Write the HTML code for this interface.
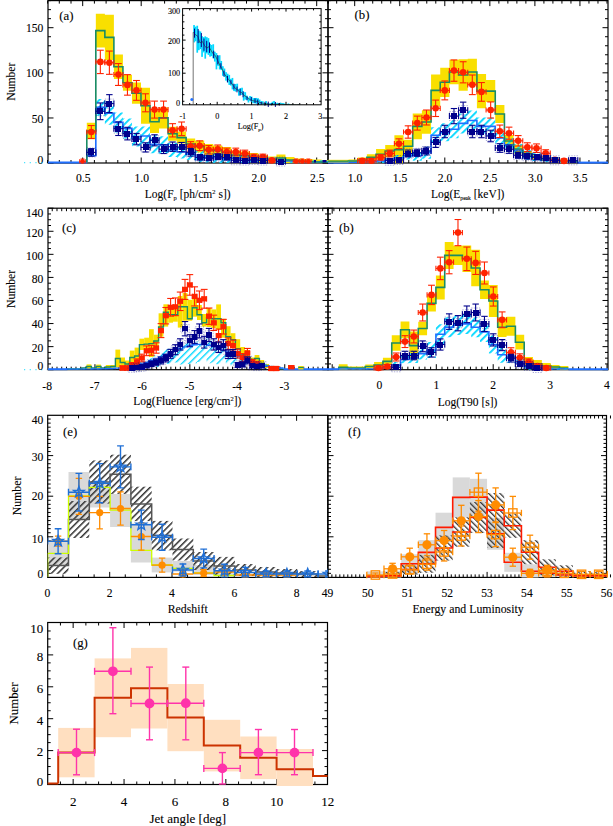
<!DOCTYPE html>
<html><head><meta charset="utf-8"><style>
html,body{margin:0;padding:0;background:#fff;}
svg{display:block;font-family:"Liberation Serif",serif;}
text{stroke:#000;stroke-width:0.1px;}
</style></head><body>
<svg width="613" height="826" viewBox="0 0 613 826">
<defs>
<pattern id="hc" patternUnits="userSpaceOnUse" width="5" height="5" patternTransform="rotate(45)"><rect x="0" y="0" width="1.8" height="5" fill="#00d8ff"/></pattern>
<pattern id="hc2" patternUnits="userSpaceOnUse" width="5" height="5" patternTransform="rotate(45)"><rect x="0" y="0" width="1.4" height="5" fill="#00d8ff"/></pattern>
<pattern id="hk" patternUnits="userSpaceOnUse" width="4.5" height="4.5" patternTransform="rotate(45)"><rect x="0" y="0" width="1.5" height="4.5" fill="#333"/></pattern><pattern id="hk2" patternUnits="userSpaceOnUse" width="4" height="4" patternTransform="rotate(-45)"><rect x="0" y="0" width="1.3" height="4" fill="#333"/></pattern>
<clipPath id="ca"><rect x="48" y="0.6" width="280" height="162.4"/></clipPath><clipPath id="ci"><rect x="182.6" y="8.6" width="138.50000000000003" height="96.2"/></clipPath><clipPath id="cb"><rect x="328" y="0.6" width="280" height="162.4"/></clipPath><clipPath id="cc"><rect x="48" y="208.2" width="280" height="161.5"/></clipPath><clipPath id="cd"><rect x="328" y="208.2" width="280" height="161.5"/></clipPath><clipPath id="ce"><rect x="47.7" y="415.3" width="280.0" height="162.09999999999997"/></clipPath><clipPath id="cf"><rect x="328" y="415.5" width="278.5" height="161.89999999999998"/></clipPath><clipPath id="cg"><rect x="47.7" y="622.5" width="279.8" height="162.0"/></clipPath>
</defs>
<rect width="613" height="826" fill="#fff"/>
<rect x="48" y="0.6" width="280" height="162.4" fill="none" stroke="#000" stroke-width="1.2"/>
<line x1="82.7" y1="163" x2="82.7" y2="157.5" stroke="#000" stroke-width="1" />
<line x1="82.7" y1="0.6" x2="82.7" y2="6.1" stroke="#000" stroke-width="1" />
<line x1="141.2" y1="163" x2="141.2" y2="157.5" stroke="#000" stroke-width="1" />
<line x1="141.2" y1="0.6" x2="141.2" y2="6.1" stroke="#000" stroke-width="1" />
<line x1="199.7" y1="163" x2="199.7" y2="157.5" stroke="#000" stroke-width="1" />
<line x1="199.7" y1="0.6" x2="199.7" y2="6.1" stroke="#000" stroke-width="1" />
<line x1="258.2" y1="163" x2="258.2" y2="157.5" stroke="#000" stroke-width="1" />
<line x1="258.2" y1="0.6" x2="258.2" y2="6.1" stroke="#000" stroke-width="1" />
<line x1="316.7" y1="163" x2="316.7" y2="157.5" stroke="#000" stroke-width="1" />
<line x1="316.7" y1="0.6" x2="316.7" y2="6.1" stroke="#000" stroke-width="1" />
<line x1="47.6" y1="163" x2="47.6" y2="160" stroke="#000" stroke-width="1" />
<line x1="47.6" y1="0.6" x2="47.6" y2="3.6" stroke="#000" stroke-width="1" />
<line x1="59.3" y1="163" x2="59.3" y2="160" stroke="#000" stroke-width="1" />
<line x1="59.3" y1="0.6" x2="59.3" y2="3.6" stroke="#000" stroke-width="1" />
<line x1="71" y1="163" x2="71" y2="160" stroke="#000" stroke-width="1" />
<line x1="71" y1="0.6" x2="71" y2="3.6" stroke="#000" stroke-width="1" />
<line x1="94.4" y1="163" x2="94.4" y2="160" stroke="#000" stroke-width="1" />
<line x1="94.4" y1="0.6" x2="94.4" y2="3.6" stroke="#000" stroke-width="1" />
<line x1="106.1" y1="163" x2="106.1" y2="160" stroke="#000" stroke-width="1" />
<line x1="106.1" y1="0.6" x2="106.1" y2="3.6" stroke="#000" stroke-width="1" />
<line x1="117.8" y1="163" x2="117.8" y2="160" stroke="#000" stroke-width="1" />
<line x1="117.8" y1="0.6" x2="117.8" y2="3.6" stroke="#000" stroke-width="1" />
<line x1="129.5" y1="163" x2="129.5" y2="160" stroke="#000" stroke-width="1" />
<line x1="129.5" y1="0.6" x2="129.5" y2="3.6" stroke="#000" stroke-width="1" />
<line x1="152.9" y1="163" x2="152.9" y2="160" stroke="#000" stroke-width="1" />
<line x1="152.9" y1="0.6" x2="152.9" y2="3.6" stroke="#000" stroke-width="1" />
<line x1="164.6" y1="163" x2="164.6" y2="160" stroke="#000" stroke-width="1" />
<line x1="164.6" y1="0.6" x2="164.6" y2="3.6" stroke="#000" stroke-width="1" />
<line x1="176.3" y1="163" x2="176.3" y2="160" stroke="#000" stroke-width="1" />
<line x1="176.3" y1="0.6" x2="176.3" y2="3.6" stroke="#000" stroke-width="1" />
<line x1="188" y1="163" x2="188" y2="160" stroke="#000" stroke-width="1" />
<line x1="188" y1="0.6" x2="188" y2="3.6" stroke="#000" stroke-width="1" />
<line x1="211.4" y1="163" x2="211.4" y2="160" stroke="#000" stroke-width="1" />
<line x1="211.4" y1="0.6" x2="211.4" y2="3.6" stroke="#000" stroke-width="1" />
<line x1="223.1" y1="163" x2="223.1" y2="160" stroke="#000" stroke-width="1" />
<line x1="223.1" y1="0.6" x2="223.1" y2="3.6" stroke="#000" stroke-width="1" />
<line x1="234.8" y1="163" x2="234.8" y2="160" stroke="#000" stroke-width="1" />
<line x1="234.8" y1="0.6" x2="234.8" y2="3.6" stroke="#000" stroke-width="1" />
<line x1="246.5" y1="163" x2="246.5" y2="160" stroke="#000" stroke-width="1" />
<line x1="246.5" y1="0.6" x2="246.5" y2="3.6" stroke="#000" stroke-width="1" />
<line x1="269.9" y1="163" x2="269.9" y2="160" stroke="#000" stroke-width="1" />
<line x1="269.9" y1="0.6" x2="269.9" y2="3.6" stroke="#000" stroke-width="1" />
<line x1="281.6" y1="163" x2="281.6" y2="160" stroke="#000" stroke-width="1" />
<line x1="281.6" y1="0.6" x2="281.6" y2="3.6" stroke="#000" stroke-width="1" />
<line x1="293.3" y1="163" x2="293.3" y2="160" stroke="#000" stroke-width="1" />
<line x1="293.3" y1="0.6" x2="293.3" y2="3.6" stroke="#000" stroke-width="1" />
<line x1="305" y1="163" x2="305" y2="160" stroke="#000" stroke-width="1" />
<line x1="305" y1="0.6" x2="305" y2="3.6" stroke="#000" stroke-width="1" />
<line x1="328.4" y1="163" x2="328.4" y2="160" stroke="#000" stroke-width="1" />
<line x1="328.4" y1="0.6" x2="328.4" y2="3.6" stroke="#000" stroke-width="1" />
<line x1="48" y1="163.1" x2="53.5" y2="163.1" stroke="#000" stroke-width="1" />
<line x1="328" y1="163.1" x2="322.5" y2="163.1" stroke="#000" stroke-width="1" />
<line x1="48" y1="117.97" x2="53.5" y2="117.97" stroke="#000" stroke-width="1" />
<line x1="328" y1="117.97" x2="322.5" y2="117.97" stroke="#000" stroke-width="1" />
<line x1="48" y1="72.83" x2="53.5" y2="72.83" stroke="#000" stroke-width="1" />
<line x1="328" y1="72.83" x2="322.5" y2="72.83" stroke="#000" stroke-width="1" />
<line x1="48" y1="27.69" x2="53.5" y2="27.69" stroke="#000" stroke-width="1" />
<line x1="328" y1="27.69" x2="322.5" y2="27.69" stroke="#000" stroke-width="1" />
<line x1="48" y1="154.07" x2="51" y2="154.07" stroke="#000" stroke-width="1" />
<line x1="328" y1="154.07" x2="325" y2="154.07" stroke="#000" stroke-width="1" />
<line x1="48" y1="145.05" x2="51" y2="145.05" stroke="#000" stroke-width="1" />
<line x1="328" y1="145.05" x2="325" y2="145.05" stroke="#000" stroke-width="1" />
<line x1="48" y1="136.02" x2="51" y2="136.02" stroke="#000" stroke-width="1" />
<line x1="328" y1="136.02" x2="325" y2="136.02" stroke="#000" stroke-width="1" />
<line x1="48" y1="126.99" x2="51" y2="126.99" stroke="#000" stroke-width="1" />
<line x1="328" y1="126.99" x2="325" y2="126.99" stroke="#000" stroke-width="1" />
<line x1="48" y1="108.94" x2="51" y2="108.94" stroke="#000" stroke-width="1" />
<line x1="328" y1="108.94" x2="325" y2="108.94" stroke="#000" stroke-width="1" />
<line x1="48" y1="99.91" x2="51" y2="99.91" stroke="#000" stroke-width="1" />
<line x1="328" y1="99.91" x2="325" y2="99.91" stroke="#000" stroke-width="1" />
<line x1="48" y1="90.88" x2="51" y2="90.88" stroke="#000" stroke-width="1" />
<line x1="328" y1="90.88" x2="325" y2="90.88" stroke="#000" stroke-width="1" />
<line x1="48" y1="81.86" x2="51" y2="81.86" stroke="#000" stroke-width="1" />
<line x1="328" y1="81.86" x2="325" y2="81.86" stroke="#000" stroke-width="1" />
<line x1="48" y1="63.8" x2="51" y2="63.8" stroke="#000" stroke-width="1" />
<line x1="328" y1="63.8" x2="325" y2="63.8" stroke="#000" stroke-width="1" />
<line x1="48" y1="54.78" x2="51" y2="54.78" stroke="#000" stroke-width="1" />
<line x1="328" y1="54.78" x2="325" y2="54.78" stroke="#000" stroke-width="1" />
<line x1="48" y1="45.75" x2="51" y2="45.75" stroke="#000" stroke-width="1" />
<line x1="328" y1="45.75" x2="325" y2="45.75" stroke="#000" stroke-width="1" />
<line x1="48" y1="36.72" x2="51" y2="36.72" stroke="#000" stroke-width="1" />
<line x1="328" y1="36.72" x2="325" y2="36.72" stroke="#000" stroke-width="1" />
<line x1="48" y1="18.67" x2="51" y2="18.67" stroke="#000" stroke-width="1" />
<line x1="328" y1="18.67" x2="325" y2="18.67" stroke="#000" stroke-width="1" />
<line x1="48" y1="9.64" x2="51" y2="9.64" stroke="#000" stroke-width="1" />
<line x1="328" y1="9.64" x2="325" y2="9.64" stroke="#000" stroke-width="1" />
<line x1="48" y1="0.61" x2="51" y2="0.61" stroke="#000" stroke-width="1" />
<line x1="328" y1="0.61" x2="325" y2="0.61" stroke="#000" stroke-width="1" />
<rect x="328" y="0.6" width="280" height="162.4" fill="none" stroke="#000" stroke-width="1.2"/>
<line x1="354.7" y1="163" x2="354.7" y2="157.5" stroke="#000" stroke-width="1" />
<line x1="354.7" y1="0.6" x2="354.7" y2="6.1" stroke="#000" stroke-width="1" />
<line x1="399.75" y1="163" x2="399.75" y2="157.5" stroke="#000" stroke-width="1" />
<line x1="399.75" y1="0.6" x2="399.75" y2="6.1" stroke="#000" stroke-width="1" />
<line x1="444.8" y1="163" x2="444.8" y2="157.5" stroke="#000" stroke-width="1" />
<line x1="444.8" y1="0.6" x2="444.8" y2="6.1" stroke="#000" stroke-width="1" />
<line x1="489.85" y1="163" x2="489.85" y2="157.5" stroke="#000" stroke-width="1" />
<line x1="489.85" y1="0.6" x2="489.85" y2="6.1" stroke="#000" stroke-width="1" />
<line x1="534.9" y1="163" x2="534.9" y2="157.5" stroke="#000" stroke-width="1" />
<line x1="534.9" y1="0.6" x2="534.9" y2="6.1" stroke="#000" stroke-width="1" />
<line x1="579.95" y1="163" x2="579.95" y2="157.5" stroke="#000" stroke-width="1" />
<line x1="579.95" y1="0.6" x2="579.95" y2="6.1" stroke="#000" stroke-width="1" />
<line x1="327.67" y1="163" x2="327.67" y2="160" stroke="#000" stroke-width="1" />
<line x1="327.67" y1="0.6" x2="327.67" y2="3.6" stroke="#000" stroke-width="1" />
<line x1="336.68" y1="163" x2="336.68" y2="160" stroke="#000" stroke-width="1" />
<line x1="336.68" y1="0.6" x2="336.68" y2="3.6" stroke="#000" stroke-width="1" />
<line x1="345.69" y1="163" x2="345.69" y2="160" stroke="#000" stroke-width="1" />
<line x1="345.69" y1="0.6" x2="345.69" y2="3.6" stroke="#000" stroke-width="1" />
<line x1="363.71" y1="163" x2="363.71" y2="160" stroke="#000" stroke-width="1" />
<line x1="363.71" y1="0.6" x2="363.71" y2="3.6" stroke="#000" stroke-width="1" />
<line x1="372.72" y1="163" x2="372.72" y2="160" stroke="#000" stroke-width="1" />
<line x1="372.72" y1="0.6" x2="372.72" y2="3.6" stroke="#000" stroke-width="1" />
<line x1="381.73" y1="163" x2="381.73" y2="160" stroke="#000" stroke-width="1" />
<line x1="381.73" y1="0.6" x2="381.73" y2="3.6" stroke="#000" stroke-width="1" />
<line x1="390.74" y1="163" x2="390.74" y2="160" stroke="#000" stroke-width="1" />
<line x1="390.74" y1="0.6" x2="390.74" y2="3.6" stroke="#000" stroke-width="1" />
<line x1="408.76" y1="163" x2="408.76" y2="160" stroke="#000" stroke-width="1" />
<line x1="408.76" y1="0.6" x2="408.76" y2="3.6" stroke="#000" stroke-width="1" />
<line x1="417.77" y1="163" x2="417.77" y2="160" stroke="#000" stroke-width="1" />
<line x1="417.77" y1="0.6" x2="417.77" y2="3.6" stroke="#000" stroke-width="1" />
<line x1="426.78" y1="163" x2="426.78" y2="160" stroke="#000" stroke-width="1" />
<line x1="426.78" y1="0.6" x2="426.78" y2="3.6" stroke="#000" stroke-width="1" />
<line x1="435.79" y1="163" x2="435.79" y2="160" stroke="#000" stroke-width="1" />
<line x1="435.79" y1="0.6" x2="435.79" y2="3.6" stroke="#000" stroke-width="1" />
<line x1="453.81" y1="163" x2="453.81" y2="160" stroke="#000" stroke-width="1" />
<line x1="453.81" y1="0.6" x2="453.81" y2="3.6" stroke="#000" stroke-width="1" />
<line x1="462.82" y1="163" x2="462.82" y2="160" stroke="#000" stroke-width="1" />
<line x1="462.82" y1="0.6" x2="462.82" y2="3.6" stroke="#000" stroke-width="1" />
<line x1="471.83" y1="163" x2="471.83" y2="160" stroke="#000" stroke-width="1" />
<line x1="471.83" y1="0.6" x2="471.83" y2="3.6" stroke="#000" stroke-width="1" />
<line x1="480.84" y1="163" x2="480.84" y2="160" stroke="#000" stroke-width="1" />
<line x1="480.84" y1="0.6" x2="480.84" y2="3.6" stroke="#000" stroke-width="1" />
<line x1="498.86" y1="163" x2="498.86" y2="160" stroke="#000" stroke-width="1" />
<line x1="498.86" y1="0.6" x2="498.86" y2="3.6" stroke="#000" stroke-width="1" />
<line x1="507.87" y1="163" x2="507.87" y2="160" stroke="#000" stroke-width="1" />
<line x1="507.87" y1="0.6" x2="507.87" y2="3.6" stroke="#000" stroke-width="1" />
<line x1="516.88" y1="163" x2="516.88" y2="160" stroke="#000" stroke-width="1" />
<line x1="516.88" y1="0.6" x2="516.88" y2="3.6" stroke="#000" stroke-width="1" />
<line x1="525.89" y1="163" x2="525.89" y2="160" stroke="#000" stroke-width="1" />
<line x1="525.89" y1="0.6" x2="525.89" y2="3.6" stroke="#000" stroke-width="1" />
<line x1="543.91" y1="163" x2="543.91" y2="160" stroke="#000" stroke-width="1" />
<line x1="543.91" y1="0.6" x2="543.91" y2="3.6" stroke="#000" stroke-width="1" />
<line x1="552.92" y1="163" x2="552.92" y2="160" stroke="#000" stroke-width="1" />
<line x1="552.92" y1="0.6" x2="552.92" y2="3.6" stroke="#000" stroke-width="1" />
<line x1="561.93" y1="163" x2="561.93" y2="160" stroke="#000" stroke-width="1" />
<line x1="561.93" y1="0.6" x2="561.93" y2="3.6" stroke="#000" stroke-width="1" />
<line x1="570.94" y1="163" x2="570.94" y2="160" stroke="#000" stroke-width="1" />
<line x1="570.94" y1="0.6" x2="570.94" y2="3.6" stroke="#000" stroke-width="1" />
<line x1="588.96" y1="163" x2="588.96" y2="160" stroke="#000" stroke-width="1" />
<line x1="588.96" y1="0.6" x2="588.96" y2="3.6" stroke="#000" stroke-width="1" />
<line x1="597.97" y1="163" x2="597.97" y2="160" stroke="#000" stroke-width="1" />
<line x1="597.97" y1="0.6" x2="597.97" y2="3.6" stroke="#000" stroke-width="1" />
<line x1="606.98" y1="163" x2="606.98" y2="160" stroke="#000" stroke-width="1" />
<line x1="606.98" y1="0.6" x2="606.98" y2="3.6" stroke="#000" stroke-width="1" />
<line x1="328" y1="163.1" x2="333.5" y2="163.1" stroke="#000" stroke-width="1" />
<line x1="608" y1="163.1" x2="602.5" y2="163.1" stroke="#000" stroke-width="1" />
<line x1="328" y1="117.97" x2="333.5" y2="117.97" stroke="#000" stroke-width="1" />
<line x1="608" y1="117.97" x2="602.5" y2="117.97" stroke="#000" stroke-width="1" />
<line x1="328" y1="72.83" x2="333.5" y2="72.83" stroke="#000" stroke-width="1" />
<line x1="608" y1="72.83" x2="602.5" y2="72.83" stroke="#000" stroke-width="1" />
<line x1="328" y1="27.69" x2="333.5" y2="27.69" stroke="#000" stroke-width="1" />
<line x1="608" y1="27.69" x2="602.5" y2="27.69" stroke="#000" stroke-width="1" />
<line x1="328" y1="154.07" x2="331" y2="154.07" stroke="#000" stroke-width="1" />
<line x1="608" y1="154.07" x2="605" y2="154.07" stroke="#000" stroke-width="1" />
<line x1="328" y1="145.05" x2="331" y2="145.05" stroke="#000" stroke-width="1" />
<line x1="608" y1="145.05" x2="605" y2="145.05" stroke="#000" stroke-width="1" />
<line x1="328" y1="136.02" x2="331" y2="136.02" stroke="#000" stroke-width="1" />
<line x1="608" y1="136.02" x2="605" y2="136.02" stroke="#000" stroke-width="1" />
<line x1="328" y1="126.99" x2="331" y2="126.99" stroke="#000" stroke-width="1" />
<line x1="608" y1="126.99" x2="605" y2="126.99" stroke="#000" stroke-width="1" />
<line x1="328" y1="108.94" x2="331" y2="108.94" stroke="#000" stroke-width="1" />
<line x1="608" y1="108.94" x2="605" y2="108.94" stroke="#000" stroke-width="1" />
<line x1="328" y1="99.91" x2="331" y2="99.91" stroke="#000" stroke-width="1" />
<line x1="608" y1="99.91" x2="605" y2="99.91" stroke="#000" stroke-width="1" />
<line x1="328" y1="90.88" x2="331" y2="90.88" stroke="#000" stroke-width="1" />
<line x1="608" y1="90.88" x2="605" y2="90.88" stroke="#000" stroke-width="1" />
<line x1="328" y1="81.86" x2="331" y2="81.86" stroke="#000" stroke-width="1" />
<line x1="608" y1="81.86" x2="605" y2="81.86" stroke="#000" stroke-width="1" />
<line x1="328" y1="63.8" x2="331" y2="63.8" stroke="#000" stroke-width="1" />
<line x1="608" y1="63.8" x2="605" y2="63.8" stroke="#000" stroke-width="1" />
<line x1="328" y1="54.78" x2="331" y2="54.78" stroke="#000" stroke-width="1" />
<line x1="608" y1="54.78" x2="605" y2="54.78" stroke="#000" stroke-width="1" />
<line x1="328" y1="45.75" x2="331" y2="45.75" stroke="#000" stroke-width="1" />
<line x1="608" y1="45.75" x2="605" y2="45.75" stroke="#000" stroke-width="1" />
<line x1="328" y1="36.72" x2="331" y2="36.72" stroke="#000" stroke-width="1" />
<line x1="608" y1="36.72" x2="605" y2="36.72" stroke="#000" stroke-width="1" />
<line x1="328" y1="18.67" x2="331" y2="18.67" stroke="#000" stroke-width="1" />
<line x1="608" y1="18.67" x2="605" y2="18.67" stroke="#000" stroke-width="1" />
<line x1="328" y1="9.64" x2="331" y2="9.64" stroke="#000" stroke-width="1" />
<line x1="608" y1="9.64" x2="605" y2="9.64" stroke="#000" stroke-width="1" />
<line x1="328" y1="0.61" x2="331" y2="0.61" stroke="#000" stroke-width="1" />
<line x1="608" y1="0.61" x2="605" y2="0.61" stroke="#000" stroke-width="1" />
<rect x="48" y="208.2" width="280" height="161.5" fill="none" stroke="#000" stroke-width="1.2"/>
<line x1="94.95" y1="369.7" x2="94.95" y2="364.2" stroke="#000" stroke-width="1" />
<line x1="94.95" y1="208.2" x2="94.95" y2="213.7" stroke="#000" stroke-width="1" />
<line x1="142.4" y1="369.7" x2="142.4" y2="364.2" stroke="#000" stroke-width="1" />
<line x1="142.4" y1="208.2" x2="142.4" y2="213.7" stroke="#000" stroke-width="1" />
<line x1="189.85" y1="369.7" x2="189.85" y2="364.2" stroke="#000" stroke-width="1" />
<line x1="189.85" y1="208.2" x2="189.85" y2="213.7" stroke="#000" stroke-width="1" />
<line x1="237.3" y1="369.7" x2="237.3" y2="364.2" stroke="#000" stroke-width="1" />
<line x1="237.3" y1="208.2" x2="237.3" y2="213.7" stroke="#000" stroke-width="1" />
<line x1="284.75" y1="369.7" x2="284.75" y2="364.2" stroke="#000" stroke-width="1" />
<line x1="284.75" y1="208.2" x2="284.75" y2="213.7" stroke="#000" stroke-width="1" />
<line x1="332.2" y1="369.7" x2="332.2" y2="364.2" stroke="#000" stroke-width="1" />
<line x1="332.2" y1="208.2" x2="332.2" y2="213.7" stroke="#000" stroke-width="1" />
<line x1="52.24" y1="369.7" x2="52.24" y2="366.7" stroke="#000" stroke-width="1" />
<line x1="52.24" y1="208.2" x2="52.24" y2="211.2" stroke="#000" stroke-width="1" />
<line x1="56.99" y1="369.7" x2="56.99" y2="366.7" stroke="#000" stroke-width="1" />
<line x1="56.99" y1="208.2" x2="56.99" y2="211.2" stroke="#000" stroke-width="1" />
<line x1="61.73" y1="369.7" x2="61.73" y2="366.7" stroke="#000" stroke-width="1" />
<line x1="61.73" y1="208.2" x2="61.73" y2="211.2" stroke="#000" stroke-width="1" />
<line x1="66.48" y1="369.7" x2="66.48" y2="366.7" stroke="#000" stroke-width="1" />
<line x1="66.48" y1="208.2" x2="66.48" y2="211.2" stroke="#000" stroke-width="1" />
<line x1="71.22" y1="369.7" x2="71.22" y2="366.7" stroke="#000" stroke-width="1" />
<line x1="71.22" y1="208.2" x2="71.22" y2="211.2" stroke="#000" stroke-width="1" />
<line x1="75.97" y1="369.7" x2="75.97" y2="366.7" stroke="#000" stroke-width="1" />
<line x1="75.97" y1="208.2" x2="75.97" y2="211.2" stroke="#000" stroke-width="1" />
<line x1="80.72" y1="369.7" x2="80.72" y2="366.7" stroke="#000" stroke-width="1" />
<line x1="80.72" y1="208.2" x2="80.72" y2="211.2" stroke="#000" stroke-width="1" />
<line x1="85.46" y1="369.7" x2="85.46" y2="366.7" stroke="#000" stroke-width="1" />
<line x1="85.46" y1="208.2" x2="85.46" y2="211.2" stroke="#000" stroke-width="1" />
<line x1="90.21" y1="369.7" x2="90.21" y2="366.7" stroke="#000" stroke-width="1" />
<line x1="90.21" y1="208.2" x2="90.21" y2="211.2" stroke="#000" stroke-width="1" />
<line x1="99.69" y1="369.7" x2="99.69" y2="366.7" stroke="#000" stroke-width="1" />
<line x1="99.69" y1="208.2" x2="99.69" y2="211.2" stroke="#000" stroke-width="1" />
<line x1="104.44" y1="369.7" x2="104.44" y2="366.7" stroke="#000" stroke-width="1" />
<line x1="104.44" y1="208.2" x2="104.44" y2="211.2" stroke="#000" stroke-width="1" />
<line x1="109.19" y1="369.7" x2="109.19" y2="366.7" stroke="#000" stroke-width="1" />
<line x1="109.19" y1="208.2" x2="109.19" y2="211.2" stroke="#000" stroke-width="1" />
<line x1="113.93" y1="369.7" x2="113.93" y2="366.7" stroke="#000" stroke-width="1" />
<line x1="113.93" y1="208.2" x2="113.93" y2="211.2" stroke="#000" stroke-width="1" />
<line x1="118.68" y1="369.7" x2="118.68" y2="366.7" stroke="#000" stroke-width="1" />
<line x1="118.68" y1="208.2" x2="118.68" y2="211.2" stroke="#000" stroke-width="1" />
<line x1="123.42" y1="369.7" x2="123.42" y2="366.7" stroke="#000" stroke-width="1" />
<line x1="123.42" y1="208.2" x2="123.42" y2="211.2" stroke="#000" stroke-width="1" />
<line x1="128.17" y1="369.7" x2="128.17" y2="366.7" stroke="#000" stroke-width="1" />
<line x1="128.17" y1="208.2" x2="128.17" y2="211.2" stroke="#000" stroke-width="1" />
<line x1="132.91" y1="369.7" x2="132.91" y2="366.7" stroke="#000" stroke-width="1" />
<line x1="132.91" y1="208.2" x2="132.91" y2="211.2" stroke="#000" stroke-width="1" />
<line x1="137.66" y1="369.7" x2="137.66" y2="366.7" stroke="#000" stroke-width="1" />
<line x1="137.66" y1="208.2" x2="137.66" y2="211.2" stroke="#000" stroke-width="1" />
<line x1="147.14" y1="369.7" x2="147.14" y2="366.7" stroke="#000" stroke-width="1" />
<line x1="147.14" y1="208.2" x2="147.14" y2="211.2" stroke="#000" stroke-width="1" />
<line x1="151.89" y1="369.7" x2="151.89" y2="366.7" stroke="#000" stroke-width="1" />
<line x1="151.89" y1="208.2" x2="151.89" y2="211.2" stroke="#000" stroke-width="1" />
<line x1="156.63" y1="369.7" x2="156.63" y2="366.7" stroke="#000" stroke-width="1" />
<line x1="156.63" y1="208.2" x2="156.63" y2="211.2" stroke="#000" stroke-width="1" />
<line x1="161.38" y1="369.7" x2="161.38" y2="366.7" stroke="#000" stroke-width="1" />
<line x1="161.38" y1="208.2" x2="161.38" y2="211.2" stroke="#000" stroke-width="1" />
<line x1="166.12" y1="369.7" x2="166.12" y2="366.7" stroke="#000" stroke-width="1" />
<line x1="166.12" y1="208.2" x2="166.12" y2="211.2" stroke="#000" stroke-width="1" />
<line x1="170.87" y1="369.7" x2="170.87" y2="366.7" stroke="#000" stroke-width="1" />
<line x1="170.87" y1="208.2" x2="170.87" y2="211.2" stroke="#000" stroke-width="1" />
<line x1="175.62" y1="369.7" x2="175.62" y2="366.7" stroke="#000" stroke-width="1" />
<line x1="175.62" y1="208.2" x2="175.62" y2="211.2" stroke="#000" stroke-width="1" />
<line x1="180.36" y1="369.7" x2="180.36" y2="366.7" stroke="#000" stroke-width="1" />
<line x1="180.36" y1="208.2" x2="180.36" y2="211.2" stroke="#000" stroke-width="1" />
<line x1="185.11" y1="369.7" x2="185.11" y2="366.7" stroke="#000" stroke-width="1" />
<line x1="185.11" y1="208.2" x2="185.11" y2="211.2" stroke="#000" stroke-width="1" />
<line x1="194.59" y1="369.7" x2="194.59" y2="366.7" stroke="#000" stroke-width="1" />
<line x1="194.59" y1="208.2" x2="194.59" y2="211.2" stroke="#000" stroke-width="1" />
<line x1="199.34" y1="369.7" x2="199.34" y2="366.7" stroke="#000" stroke-width="1" />
<line x1="199.34" y1="208.2" x2="199.34" y2="211.2" stroke="#000" stroke-width="1" />
<line x1="204.09" y1="369.7" x2="204.09" y2="366.7" stroke="#000" stroke-width="1" />
<line x1="204.09" y1="208.2" x2="204.09" y2="211.2" stroke="#000" stroke-width="1" />
<line x1="208.83" y1="369.7" x2="208.83" y2="366.7" stroke="#000" stroke-width="1" />
<line x1="208.83" y1="208.2" x2="208.83" y2="211.2" stroke="#000" stroke-width="1" />
<line x1="213.58" y1="369.7" x2="213.58" y2="366.7" stroke="#000" stroke-width="1" />
<line x1="213.58" y1="208.2" x2="213.58" y2="211.2" stroke="#000" stroke-width="1" />
<line x1="218.32" y1="369.7" x2="218.32" y2="366.7" stroke="#000" stroke-width="1" />
<line x1="218.32" y1="208.2" x2="218.32" y2="211.2" stroke="#000" stroke-width="1" />
<line x1="223.07" y1="369.7" x2="223.07" y2="366.7" stroke="#000" stroke-width="1" />
<line x1="223.07" y1="208.2" x2="223.07" y2="211.2" stroke="#000" stroke-width="1" />
<line x1="227.81" y1="369.7" x2="227.81" y2="366.7" stroke="#000" stroke-width="1" />
<line x1="227.81" y1="208.2" x2="227.81" y2="211.2" stroke="#000" stroke-width="1" />
<line x1="232.56" y1="369.7" x2="232.56" y2="366.7" stroke="#000" stroke-width="1" />
<line x1="232.56" y1="208.2" x2="232.56" y2="211.2" stroke="#000" stroke-width="1" />
<line x1="242.04" y1="369.7" x2="242.04" y2="366.7" stroke="#000" stroke-width="1" />
<line x1="242.04" y1="208.2" x2="242.04" y2="211.2" stroke="#000" stroke-width="1" />
<line x1="246.79" y1="369.7" x2="246.79" y2="366.7" stroke="#000" stroke-width="1" />
<line x1="246.79" y1="208.2" x2="246.79" y2="211.2" stroke="#000" stroke-width="1" />
<line x1="251.53" y1="369.7" x2="251.53" y2="366.7" stroke="#000" stroke-width="1" />
<line x1="251.53" y1="208.2" x2="251.53" y2="211.2" stroke="#000" stroke-width="1" />
<line x1="256.28" y1="369.7" x2="256.28" y2="366.7" stroke="#000" stroke-width="1" />
<line x1="256.28" y1="208.2" x2="256.28" y2="211.2" stroke="#000" stroke-width="1" />
<line x1="261.02" y1="369.7" x2="261.02" y2="366.7" stroke="#000" stroke-width="1" />
<line x1="261.02" y1="208.2" x2="261.02" y2="211.2" stroke="#000" stroke-width="1" />
<line x1="265.77" y1="369.7" x2="265.77" y2="366.7" stroke="#000" stroke-width="1" />
<line x1="265.77" y1="208.2" x2="265.77" y2="211.2" stroke="#000" stroke-width="1" />
<line x1="270.51" y1="369.7" x2="270.51" y2="366.7" stroke="#000" stroke-width="1" />
<line x1="270.51" y1="208.2" x2="270.51" y2="211.2" stroke="#000" stroke-width="1" />
<line x1="275.26" y1="369.7" x2="275.26" y2="366.7" stroke="#000" stroke-width="1" />
<line x1="275.26" y1="208.2" x2="275.26" y2="211.2" stroke="#000" stroke-width="1" />
<line x1="280" y1="369.7" x2="280" y2="366.7" stroke="#000" stroke-width="1" />
<line x1="280" y1="208.2" x2="280" y2="211.2" stroke="#000" stroke-width="1" />
<line x1="289.5" y1="369.7" x2="289.5" y2="366.7" stroke="#000" stroke-width="1" />
<line x1="289.5" y1="208.2" x2="289.5" y2="211.2" stroke="#000" stroke-width="1" />
<line x1="294.24" y1="369.7" x2="294.24" y2="366.7" stroke="#000" stroke-width="1" />
<line x1="294.24" y1="208.2" x2="294.24" y2="211.2" stroke="#000" stroke-width="1" />
<line x1="298.99" y1="369.7" x2="298.99" y2="366.7" stroke="#000" stroke-width="1" />
<line x1="298.99" y1="208.2" x2="298.99" y2="211.2" stroke="#000" stroke-width="1" />
<line x1="303.73" y1="369.7" x2="303.73" y2="366.7" stroke="#000" stroke-width="1" />
<line x1="303.73" y1="208.2" x2="303.73" y2="211.2" stroke="#000" stroke-width="1" />
<line x1="308.48" y1="369.7" x2="308.48" y2="366.7" stroke="#000" stroke-width="1" />
<line x1="308.48" y1="208.2" x2="308.48" y2="211.2" stroke="#000" stroke-width="1" />
<line x1="313.22" y1="369.7" x2="313.22" y2="366.7" stroke="#000" stroke-width="1" />
<line x1="313.22" y1="208.2" x2="313.22" y2="211.2" stroke="#000" stroke-width="1" />
<line x1="317.97" y1="369.7" x2="317.97" y2="366.7" stroke="#000" stroke-width="1" />
<line x1="317.97" y1="208.2" x2="317.97" y2="211.2" stroke="#000" stroke-width="1" />
<line x1="322.71" y1="369.7" x2="322.71" y2="366.7" stroke="#000" stroke-width="1" />
<line x1="322.71" y1="208.2" x2="322.71" y2="211.2" stroke="#000" stroke-width="1" />
<line x1="327.46" y1="369.7" x2="327.46" y2="366.7" stroke="#000" stroke-width="1" />
<line x1="327.46" y1="208.2" x2="327.46" y2="211.2" stroke="#000" stroke-width="1" />
<line x1="48" y1="369.7" x2="53.5" y2="369.7" stroke="#000" stroke-width="1" />
<line x1="328" y1="369.7" x2="322.5" y2="369.7" stroke="#000" stroke-width="1" />
<line x1="48" y1="346.63" x2="53.5" y2="346.63" stroke="#000" stroke-width="1" />
<line x1="328" y1="346.63" x2="322.5" y2="346.63" stroke="#000" stroke-width="1" />
<line x1="48" y1="323.56" x2="53.5" y2="323.56" stroke="#000" stroke-width="1" />
<line x1="328" y1="323.56" x2="322.5" y2="323.56" stroke="#000" stroke-width="1" />
<line x1="48" y1="300.48" x2="53.5" y2="300.48" stroke="#000" stroke-width="1" />
<line x1="328" y1="300.48" x2="322.5" y2="300.48" stroke="#000" stroke-width="1" />
<line x1="48" y1="277.41" x2="53.5" y2="277.41" stroke="#000" stroke-width="1" />
<line x1="328" y1="277.41" x2="322.5" y2="277.41" stroke="#000" stroke-width="1" />
<line x1="48" y1="254.34" x2="53.5" y2="254.34" stroke="#000" stroke-width="1" />
<line x1="328" y1="254.34" x2="322.5" y2="254.34" stroke="#000" stroke-width="1" />
<line x1="48" y1="231.27" x2="53.5" y2="231.27" stroke="#000" stroke-width="1" />
<line x1="328" y1="231.27" x2="322.5" y2="231.27" stroke="#000" stroke-width="1" />
<line x1="48" y1="208.2" x2="53.5" y2="208.2" stroke="#000" stroke-width="1" />
<line x1="328" y1="208.2" x2="322.5" y2="208.2" stroke="#000" stroke-width="1" />
<line x1="48" y1="363.93" x2="51" y2="363.93" stroke="#000" stroke-width="1" />
<line x1="328" y1="363.93" x2="325" y2="363.93" stroke="#000" stroke-width="1" />
<line x1="48" y1="358.16" x2="51" y2="358.16" stroke="#000" stroke-width="1" />
<line x1="328" y1="358.16" x2="325" y2="358.16" stroke="#000" stroke-width="1" />
<line x1="48" y1="352.4" x2="51" y2="352.4" stroke="#000" stroke-width="1" />
<line x1="328" y1="352.4" x2="325" y2="352.4" stroke="#000" stroke-width="1" />
<line x1="48" y1="340.86" x2="51" y2="340.86" stroke="#000" stroke-width="1" />
<line x1="328" y1="340.86" x2="325" y2="340.86" stroke="#000" stroke-width="1" />
<line x1="48" y1="335.09" x2="51" y2="335.09" stroke="#000" stroke-width="1" />
<line x1="328" y1="335.09" x2="325" y2="335.09" stroke="#000" stroke-width="1" />
<line x1="48" y1="329.32" x2="51" y2="329.32" stroke="#000" stroke-width="1" />
<line x1="328" y1="329.32" x2="325" y2="329.32" stroke="#000" stroke-width="1" />
<line x1="48" y1="317.79" x2="51" y2="317.79" stroke="#000" stroke-width="1" />
<line x1="328" y1="317.79" x2="325" y2="317.79" stroke="#000" stroke-width="1" />
<line x1="48" y1="312.02" x2="51" y2="312.02" stroke="#000" stroke-width="1" />
<line x1="328" y1="312.02" x2="325" y2="312.02" stroke="#000" stroke-width="1" />
<line x1="48" y1="306.25" x2="51" y2="306.25" stroke="#000" stroke-width="1" />
<line x1="328" y1="306.25" x2="325" y2="306.25" stroke="#000" stroke-width="1" />
<line x1="48" y1="294.72" x2="51" y2="294.72" stroke="#000" stroke-width="1" />
<line x1="328" y1="294.72" x2="325" y2="294.72" stroke="#000" stroke-width="1" />
<line x1="48" y1="288.95" x2="51" y2="288.95" stroke="#000" stroke-width="1" />
<line x1="328" y1="288.95" x2="325" y2="288.95" stroke="#000" stroke-width="1" />
<line x1="48" y1="283.18" x2="51" y2="283.18" stroke="#000" stroke-width="1" />
<line x1="328" y1="283.18" x2="325" y2="283.18" stroke="#000" stroke-width="1" />
<line x1="48" y1="271.64" x2="51" y2="271.64" stroke="#000" stroke-width="1" />
<line x1="328" y1="271.64" x2="325" y2="271.64" stroke="#000" stroke-width="1" />
<line x1="48" y1="265.88" x2="51" y2="265.88" stroke="#000" stroke-width="1" />
<line x1="328" y1="265.88" x2="325" y2="265.88" stroke="#000" stroke-width="1" />
<line x1="48" y1="260.11" x2="51" y2="260.11" stroke="#000" stroke-width="1" />
<line x1="328" y1="260.11" x2="325" y2="260.11" stroke="#000" stroke-width="1" />
<line x1="48" y1="248.57" x2="51" y2="248.57" stroke="#000" stroke-width="1" />
<line x1="328" y1="248.57" x2="325" y2="248.57" stroke="#000" stroke-width="1" />
<line x1="48" y1="242.8" x2="51" y2="242.8" stroke="#000" stroke-width="1" />
<line x1="328" y1="242.8" x2="325" y2="242.8" stroke="#000" stroke-width="1" />
<line x1="48" y1="237.04" x2="51" y2="237.04" stroke="#000" stroke-width="1" />
<line x1="328" y1="237.04" x2="325" y2="237.04" stroke="#000" stroke-width="1" />
<line x1="48" y1="225.5" x2="51" y2="225.5" stroke="#000" stroke-width="1" />
<line x1="328" y1="225.5" x2="325" y2="225.5" stroke="#000" stroke-width="1" />
<line x1="48" y1="219.73" x2="51" y2="219.73" stroke="#000" stroke-width="1" />
<line x1="328" y1="219.73" x2="325" y2="219.73" stroke="#000" stroke-width="1" />
<line x1="48" y1="213.96" x2="51" y2="213.96" stroke="#000" stroke-width="1" />
<line x1="328" y1="213.96" x2="325" y2="213.96" stroke="#000" stroke-width="1" />
<rect x="328" y="208.2" width="280" height="161.5" fill="none" stroke="#000" stroke-width="1.2"/>
<line x1="379.4" y1="369.7" x2="379.4" y2="364.2" stroke="#000" stroke-width="1" />
<line x1="379.4" y1="208.2" x2="379.4" y2="213.7" stroke="#000" stroke-width="1" />
<line x1="436.3" y1="369.7" x2="436.3" y2="364.2" stroke="#000" stroke-width="1" />
<line x1="436.3" y1="208.2" x2="436.3" y2="213.7" stroke="#000" stroke-width="1" />
<line x1="493.2" y1="369.7" x2="493.2" y2="364.2" stroke="#000" stroke-width="1" />
<line x1="493.2" y1="208.2" x2="493.2" y2="213.7" stroke="#000" stroke-width="1" />
<line x1="550.1" y1="369.7" x2="550.1" y2="364.2" stroke="#000" stroke-width="1" />
<line x1="550.1" y1="208.2" x2="550.1" y2="213.7" stroke="#000" stroke-width="1" />
<line x1="607" y1="369.7" x2="607" y2="364.2" stroke="#000" stroke-width="1" />
<line x1="607" y1="208.2" x2="607" y2="213.7" stroke="#000" stroke-width="1" />
<line x1="328.19" y1="369.7" x2="328.19" y2="366.7" stroke="#000" stroke-width="1" />
<line x1="328.19" y1="208.2" x2="328.19" y2="211.2" stroke="#000" stroke-width="1" />
<line x1="333.88" y1="369.7" x2="333.88" y2="366.7" stroke="#000" stroke-width="1" />
<line x1="333.88" y1="208.2" x2="333.88" y2="211.2" stroke="#000" stroke-width="1" />
<line x1="339.57" y1="369.7" x2="339.57" y2="366.7" stroke="#000" stroke-width="1" />
<line x1="339.57" y1="208.2" x2="339.57" y2="211.2" stroke="#000" stroke-width="1" />
<line x1="345.26" y1="369.7" x2="345.26" y2="366.7" stroke="#000" stroke-width="1" />
<line x1="345.26" y1="208.2" x2="345.26" y2="211.2" stroke="#000" stroke-width="1" />
<line x1="350.95" y1="369.7" x2="350.95" y2="366.7" stroke="#000" stroke-width="1" />
<line x1="350.95" y1="208.2" x2="350.95" y2="211.2" stroke="#000" stroke-width="1" />
<line x1="356.64" y1="369.7" x2="356.64" y2="366.7" stroke="#000" stroke-width="1" />
<line x1="356.64" y1="208.2" x2="356.64" y2="211.2" stroke="#000" stroke-width="1" />
<line x1="362.33" y1="369.7" x2="362.33" y2="366.7" stroke="#000" stroke-width="1" />
<line x1="362.33" y1="208.2" x2="362.33" y2="211.2" stroke="#000" stroke-width="1" />
<line x1="368.02" y1="369.7" x2="368.02" y2="366.7" stroke="#000" stroke-width="1" />
<line x1="368.02" y1="208.2" x2="368.02" y2="211.2" stroke="#000" stroke-width="1" />
<line x1="373.71" y1="369.7" x2="373.71" y2="366.7" stroke="#000" stroke-width="1" />
<line x1="373.71" y1="208.2" x2="373.71" y2="211.2" stroke="#000" stroke-width="1" />
<line x1="385.09" y1="369.7" x2="385.09" y2="366.7" stroke="#000" stroke-width="1" />
<line x1="385.09" y1="208.2" x2="385.09" y2="211.2" stroke="#000" stroke-width="1" />
<line x1="390.78" y1="369.7" x2="390.78" y2="366.7" stroke="#000" stroke-width="1" />
<line x1="390.78" y1="208.2" x2="390.78" y2="211.2" stroke="#000" stroke-width="1" />
<line x1="396.47" y1="369.7" x2="396.47" y2="366.7" stroke="#000" stroke-width="1" />
<line x1="396.47" y1="208.2" x2="396.47" y2="211.2" stroke="#000" stroke-width="1" />
<line x1="402.16" y1="369.7" x2="402.16" y2="366.7" stroke="#000" stroke-width="1" />
<line x1="402.16" y1="208.2" x2="402.16" y2="211.2" stroke="#000" stroke-width="1" />
<line x1="407.85" y1="369.7" x2="407.85" y2="366.7" stroke="#000" stroke-width="1" />
<line x1="407.85" y1="208.2" x2="407.85" y2="211.2" stroke="#000" stroke-width="1" />
<line x1="413.54" y1="369.7" x2="413.54" y2="366.7" stroke="#000" stroke-width="1" />
<line x1="413.54" y1="208.2" x2="413.54" y2="211.2" stroke="#000" stroke-width="1" />
<line x1="419.23" y1="369.7" x2="419.23" y2="366.7" stroke="#000" stroke-width="1" />
<line x1="419.23" y1="208.2" x2="419.23" y2="211.2" stroke="#000" stroke-width="1" />
<line x1="424.92" y1="369.7" x2="424.92" y2="366.7" stroke="#000" stroke-width="1" />
<line x1="424.92" y1="208.2" x2="424.92" y2="211.2" stroke="#000" stroke-width="1" />
<line x1="430.61" y1="369.7" x2="430.61" y2="366.7" stroke="#000" stroke-width="1" />
<line x1="430.61" y1="208.2" x2="430.61" y2="211.2" stroke="#000" stroke-width="1" />
<line x1="441.99" y1="369.7" x2="441.99" y2="366.7" stroke="#000" stroke-width="1" />
<line x1="441.99" y1="208.2" x2="441.99" y2="211.2" stroke="#000" stroke-width="1" />
<line x1="447.68" y1="369.7" x2="447.68" y2="366.7" stroke="#000" stroke-width="1" />
<line x1="447.68" y1="208.2" x2="447.68" y2="211.2" stroke="#000" stroke-width="1" />
<line x1="453.37" y1="369.7" x2="453.37" y2="366.7" stroke="#000" stroke-width="1" />
<line x1="453.37" y1="208.2" x2="453.37" y2="211.2" stroke="#000" stroke-width="1" />
<line x1="459.06" y1="369.7" x2="459.06" y2="366.7" stroke="#000" stroke-width="1" />
<line x1="459.06" y1="208.2" x2="459.06" y2="211.2" stroke="#000" stroke-width="1" />
<line x1="464.75" y1="369.7" x2="464.75" y2="366.7" stroke="#000" stroke-width="1" />
<line x1="464.75" y1="208.2" x2="464.75" y2="211.2" stroke="#000" stroke-width="1" />
<line x1="470.44" y1="369.7" x2="470.44" y2="366.7" stroke="#000" stroke-width="1" />
<line x1="470.44" y1="208.2" x2="470.44" y2="211.2" stroke="#000" stroke-width="1" />
<line x1="476.13" y1="369.7" x2="476.13" y2="366.7" stroke="#000" stroke-width="1" />
<line x1="476.13" y1="208.2" x2="476.13" y2="211.2" stroke="#000" stroke-width="1" />
<line x1="481.82" y1="369.7" x2="481.82" y2="366.7" stroke="#000" stroke-width="1" />
<line x1="481.82" y1="208.2" x2="481.82" y2="211.2" stroke="#000" stroke-width="1" />
<line x1="487.51" y1="369.7" x2="487.51" y2="366.7" stroke="#000" stroke-width="1" />
<line x1="487.51" y1="208.2" x2="487.51" y2="211.2" stroke="#000" stroke-width="1" />
<line x1="498.89" y1="369.7" x2="498.89" y2="366.7" stroke="#000" stroke-width="1" />
<line x1="498.89" y1="208.2" x2="498.89" y2="211.2" stroke="#000" stroke-width="1" />
<line x1="504.58" y1="369.7" x2="504.58" y2="366.7" stroke="#000" stroke-width="1" />
<line x1="504.58" y1="208.2" x2="504.58" y2="211.2" stroke="#000" stroke-width="1" />
<line x1="510.27" y1="369.7" x2="510.27" y2="366.7" stroke="#000" stroke-width="1" />
<line x1="510.27" y1="208.2" x2="510.27" y2="211.2" stroke="#000" stroke-width="1" />
<line x1="515.96" y1="369.7" x2="515.96" y2="366.7" stroke="#000" stroke-width="1" />
<line x1="515.96" y1="208.2" x2="515.96" y2="211.2" stroke="#000" stroke-width="1" />
<line x1="521.65" y1="369.7" x2="521.65" y2="366.7" stroke="#000" stroke-width="1" />
<line x1="521.65" y1="208.2" x2="521.65" y2="211.2" stroke="#000" stroke-width="1" />
<line x1="527.34" y1="369.7" x2="527.34" y2="366.7" stroke="#000" stroke-width="1" />
<line x1="527.34" y1="208.2" x2="527.34" y2="211.2" stroke="#000" stroke-width="1" />
<line x1="533.03" y1="369.7" x2="533.03" y2="366.7" stroke="#000" stroke-width="1" />
<line x1="533.03" y1="208.2" x2="533.03" y2="211.2" stroke="#000" stroke-width="1" />
<line x1="538.72" y1="369.7" x2="538.72" y2="366.7" stroke="#000" stroke-width="1" />
<line x1="538.72" y1="208.2" x2="538.72" y2="211.2" stroke="#000" stroke-width="1" />
<line x1="544.41" y1="369.7" x2="544.41" y2="366.7" stroke="#000" stroke-width="1" />
<line x1="544.41" y1="208.2" x2="544.41" y2="211.2" stroke="#000" stroke-width="1" />
<line x1="555.79" y1="369.7" x2="555.79" y2="366.7" stroke="#000" stroke-width="1" />
<line x1="555.79" y1="208.2" x2="555.79" y2="211.2" stroke="#000" stroke-width="1" />
<line x1="561.48" y1="369.7" x2="561.48" y2="366.7" stroke="#000" stroke-width="1" />
<line x1="561.48" y1="208.2" x2="561.48" y2="211.2" stroke="#000" stroke-width="1" />
<line x1="567.17" y1="369.7" x2="567.17" y2="366.7" stroke="#000" stroke-width="1" />
<line x1="567.17" y1="208.2" x2="567.17" y2="211.2" stroke="#000" stroke-width="1" />
<line x1="572.86" y1="369.7" x2="572.86" y2="366.7" stroke="#000" stroke-width="1" />
<line x1="572.86" y1="208.2" x2="572.86" y2="211.2" stroke="#000" stroke-width="1" />
<line x1="578.55" y1="369.7" x2="578.55" y2="366.7" stroke="#000" stroke-width="1" />
<line x1="578.55" y1="208.2" x2="578.55" y2="211.2" stroke="#000" stroke-width="1" />
<line x1="584.24" y1="369.7" x2="584.24" y2="366.7" stroke="#000" stroke-width="1" />
<line x1="584.24" y1="208.2" x2="584.24" y2="211.2" stroke="#000" stroke-width="1" />
<line x1="589.93" y1="369.7" x2="589.93" y2="366.7" stroke="#000" stroke-width="1" />
<line x1="589.93" y1="208.2" x2="589.93" y2="211.2" stroke="#000" stroke-width="1" />
<line x1="595.62" y1="369.7" x2="595.62" y2="366.7" stroke="#000" stroke-width="1" />
<line x1="595.62" y1="208.2" x2="595.62" y2="211.2" stroke="#000" stroke-width="1" />
<line x1="601.31" y1="369.7" x2="601.31" y2="366.7" stroke="#000" stroke-width="1" />
<line x1="601.31" y1="208.2" x2="601.31" y2="211.2" stroke="#000" stroke-width="1" />
<line x1="328" y1="369.7" x2="333.5" y2="369.7" stroke="#000" stroke-width="1" />
<line x1="608" y1="369.7" x2="602.5" y2="369.7" stroke="#000" stroke-width="1" />
<line x1="328" y1="346.63" x2="333.5" y2="346.63" stroke="#000" stroke-width="1" />
<line x1="608" y1="346.63" x2="602.5" y2="346.63" stroke="#000" stroke-width="1" />
<line x1="328" y1="323.56" x2="333.5" y2="323.56" stroke="#000" stroke-width="1" />
<line x1="608" y1="323.56" x2="602.5" y2="323.56" stroke="#000" stroke-width="1" />
<line x1="328" y1="300.48" x2="333.5" y2="300.48" stroke="#000" stroke-width="1" />
<line x1="608" y1="300.48" x2="602.5" y2="300.48" stroke="#000" stroke-width="1" />
<line x1="328" y1="277.41" x2="333.5" y2="277.41" stroke="#000" stroke-width="1" />
<line x1="608" y1="277.41" x2="602.5" y2="277.41" stroke="#000" stroke-width="1" />
<line x1="328" y1="254.34" x2="333.5" y2="254.34" stroke="#000" stroke-width="1" />
<line x1="608" y1="254.34" x2="602.5" y2="254.34" stroke="#000" stroke-width="1" />
<line x1="328" y1="231.27" x2="333.5" y2="231.27" stroke="#000" stroke-width="1" />
<line x1="608" y1="231.27" x2="602.5" y2="231.27" stroke="#000" stroke-width="1" />
<line x1="328" y1="208.2" x2="333.5" y2="208.2" stroke="#000" stroke-width="1" />
<line x1="608" y1="208.2" x2="602.5" y2="208.2" stroke="#000" stroke-width="1" />
<line x1="328" y1="363.93" x2="331" y2="363.93" stroke="#000" stroke-width="1" />
<line x1="608" y1="363.93" x2="605" y2="363.93" stroke="#000" stroke-width="1" />
<line x1="328" y1="358.16" x2="331" y2="358.16" stroke="#000" stroke-width="1" />
<line x1="608" y1="358.16" x2="605" y2="358.16" stroke="#000" stroke-width="1" />
<line x1="328" y1="352.4" x2="331" y2="352.4" stroke="#000" stroke-width="1" />
<line x1="608" y1="352.4" x2="605" y2="352.4" stroke="#000" stroke-width="1" />
<line x1="328" y1="340.86" x2="331" y2="340.86" stroke="#000" stroke-width="1" />
<line x1="608" y1="340.86" x2="605" y2="340.86" stroke="#000" stroke-width="1" />
<line x1="328" y1="335.09" x2="331" y2="335.09" stroke="#000" stroke-width="1" />
<line x1="608" y1="335.09" x2="605" y2="335.09" stroke="#000" stroke-width="1" />
<line x1="328" y1="329.32" x2="331" y2="329.32" stroke="#000" stroke-width="1" />
<line x1="608" y1="329.32" x2="605" y2="329.32" stroke="#000" stroke-width="1" />
<line x1="328" y1="317.79" x2="331" y2="317.79" stroke="#000" stroke-width="1" />
<line x1="608" y1="317.79" x2="605" y2="317.79" stroke="#000" stroke-width="1" />
<line x1="328" y1="312.02" x2="331" y2="312.02" stroke="#000" stroke-width="1" />
<line x1="608" y1="312.02" x2="605" y2="312.02" stroke="#000" stroke-width="1" />
<line x1="328" y1="306.25" x2="331" y2="306.25" stroke="#000" stroke-width="1" />
<line x1="608" y1="306.25" x2="605" y2="306.25" stroke="#000" stroke-width="1" />
<line x1="328" y1="294.72" x2="331" y2="294.72" stroke="#000" stroke-width="1" />
<line x1="608" y1="294.72" x2="605" y2="294.72" stroke="#000" stroke-width="1" />
<line x1="328" y1="288.95" x2="331" y2="288.95" stroke="#000" stroke-width="1" />
<line x1="608" y1="288.95" x2="605" y2="288.95" stroke="#000" stroke-width="1" />
<line x1="328" y1="283.18" x2="331" y2="283.18" stroke="#000" stroke-width="1" />
<line x1="608" y1="283.18" x2="605" y2="283.18" stroke="#000" stroke-width="1" />
<line x1="328" y1="271.64" x2="331" y2="271.64" stroke="#000" stroke-width="1" />
<line x1="608" y1="271.64" x2="605" y2="271.64" stroke="#000" stroke-width="1" />
<line x1="328" y1="265.88" x2="331" y2="265.88" stroke="#000" stroke-width="1" />
<line x1="608" y1="265.88" x2="605" y2="265.88" stroke="#000" stroke-width="1" />
<line x1="328" y1="260.11" x2="331" y2="260.11" stroke="#000" stroke-width="1" />
<line x1="608" y1="260.11" x2="605" y2="260.11" stroke="#000" stroke-width="1" />
<line x1="328" y1="248.57" x2="331" y2="248.57" stroke="#000" stroke-width="1" />
<line x1="608" y1="248.57" x2="605" y2="248.57" stroke="#000" stroke-width="1" />
<line x1="328" y1="242.8" x2="331" y2="242.8" stroke="#000" stroke-width="1" />
<line x1="608" y1="242.8" x2="605" y2="242.8" stroke="#000" stroke-width="1" />
<line x1="328" y1="237.04" x2="331" y2="237.04" stroke="#000" stroke-width="1" />
<line x1="608" y1="237.04" x2="605" y2="237.04" stroke="#000" stroke-width="1" />
<line x1="328" y1="225.5" x2="331" y2="225.5" stroke="#000" stroke-width="1" />
<line x1="608" y1="225.5" x2="605" y2="225.5" stroke="#000" stroke-width="1" />
<line x1="328" y1="219.73" x2="331" y2="219.73" stroke="#000" stroke-width="1" />
<line x1="608" y1="219.73" x2="605" y2="219.73" stroke="#000" stroke-width="1" />
<line x1="328" y1="213.96" x2="331" y2="213.96" stroke="#000" stroke-width="1" />
<line x1="608" y1="213.96" x2="605" y2="213.96" stroke="#000" stroke-width="1" />
<rect x="47.7" y="415.3" width="280" height="162.1" fill="none" stroke="#000" stroke-width="1.2"/>
<line x1="109.7" y1="577.4" x2="109.7" y2="571.9" stroke="#000" stroke-width="1" />
<line x1="109.7" y1="415.3" x2="109.7" y2="420.8" stroke="#000" stroke-width="1" />
<line x1="172" y1="577.4" x2="172" y2="571.9" stroke="#000" stroke-width="1" />
<line x1="172" y1="415.3" x2="172" y2="420.8" stroke="#000" stroke-width="1" />
<line x1="234.3" y1="577.4" x2="234.3" y2="571.9" stroke="#000" stroke-width="1" />
<line x1="234.3" y1="415.3" x2="234.3" y2="420.8" stroke="#000" stroke-width="1" />
<line x1="296.6" y1="577.4" x2="296.6" y2="571.9" stroke="#000" stroke-width="1" />
<line x1="296.6" y1="415.3" x2="296.6" y2="420.8" stroke="#000" stroke-width="1" />
<line x1="62.97" y1="577.4" x2="62.97" y2="574.4" stroke="#000" stroke-width="1" />
<line x1="62.97" y1="415.3" x2="62.97" y2="418.3" stroke="#000" stroke-width="1" />
<line x1="78.55" y1="577.4" x2="78.55" y2="574.4" stroke="#000" stroke-width="1" />
<line x1="78.55" y1="415.3" x2="78.55" y2="418.3" stroke="#000" stroke-width="1" />
<line x1="94.12" y1="577.4" x2="94.12" y2="574.4" stroke="#000" stroke-width="1" />
<line x1="94.12" y1="415.3" x2="94.12" y2="418.3" stroke="#000" stroke-width="1" />
<line x1="125.28" y1="577.4" x2="125.28" y2="574.4" stroke="#000" stroke-width="1" />
<line x1="125.28" y1="415.3" x2="125.28" y2="418.3" stroke="#000" stroke-width="1" />
<line x1="140.85" y1="577.4" x2="140.85" y2="574.4" stroke="#000" stroke-width="1" />
<line x1="140.85" y1="415.3" x2="140.85" y2="418.3" stroke="#000" stroke-width="1" />
<line x1="156.42" y1="577.4" x2="156.42" y2="574.4" stroke="#000" stroke-width="1" />
<line x1="156.42" y1="415.3" x2="156.42" y2="418.3" stroke="#000" stroke-width="1" />
<line x1="187.57" y1="577.4" x2="187.57" y2="574.4" stroke="#000" stroke-width="1" />
<line x1="187.57" y1="415.3" x2="187.57" y2="418.3" stroke="#000" stroke-width="1" />
<line x1="203.15" y1="577.4" x2="203.15" y2="574.4" stroke="#000" stroke-width="1" />
<line x1="203.15" y1="415.3" x2="203.15" y2="418.3" stroke="#000" stroke-width="1" />
<line x1="218.72" y1="577.4" x2="218.72" y2="574.4" stroke="#000" stroke-width="1" />
<line x1="218.72" y1="415.3" x2="218.72" y2="418.3" stroke="#000" stroke-width="1" />
<line x1="249.88" y1="577.4" x2="249.88" y2="574.4" stroke="#000" stroke-width="1" />
<line x1="249.88" y1="415.3" x2="249.88" y2="418.3" stroke="#000" stroke-width="1" />
<line x1="265.45" y1="577.4" x2="265.45" y2="574.4" stroke="#000" stroke-width="1" />
<line x1="265.45" y1="415.3" x2="265.45" y2="418.3" stroke="#000" stroke-width="1" />
<line x1="281.02" y1="577.4" x2="281.02" y2="574.4" stroke="#000" stroke-width="1" />
<line x1="281.02" y1="415.3" x2="281.02" y2="418.3" stroke="#000" stroke-width="1" />
<line x1="312.17" y1="577.4" x2="312.17" y2="574.4" stroke="#000" stroke-width="1" />
<line x1="312.17" y1="415.3" x2="312.17" y2="418.3" stroke="#000" stroke-width="1" />
<line x1="47.7" y1="536.8" x2="53.2" y2="536.8" stroke="#000" stroke-width="1" />
<line x1="47.7" y1="496.2" x2="53.2" y2="496.2" stroke="#000" stroke-width="1" />
<line x1="47.7" y1="455.6" x2="53.2" y2="455.6" stroke="#000" stroke-width="1" />
<line x1="47.7" y1="573.34" x2="50.7" y2="573.34" stroke="#000" stroke-width="1" />
<line x1="47.7" y1="569.28" x2="50.7" y2="569.28" stroke="#000" stroke-width="1" />
<line x1="47.7" y1="565.22" x2="50.7" y2="565.22" stroke="#000" stroke-width="1" />
<line x1="47.7" y1="561.16" x2="50.7" y2="561.16" stroke="#000" stroke-width="1" />
<line x1="47.7" y1="557.1" x2="50.7" y2="557.1" stroke="#000" stroke-width="1" />
<line x1="47.7" y1="553.04" x2="50.7" y2="553.04" stroke="#000" stroke-width="1" />
<line x1="47.7" y1="548.98" x2="50.7" y2="548.98" stroke="#000" stroke-width="1" />
<line x1="47.7" y1="544.92" x2="50.7" y2="544.92" stroke="#000" stroke-width="1" />
<line x1="47.7" y1="540.86" x2="50.7" y2="540.86" stroke="#000" stroke-width="1" />
<line x1="47.7" y1="532.74" x2="50.7" y2="532.74" stroke="#000" stroke-width="1" />
<line x1="47.7" y1="528.68" x2="50.7" y2="528.68" stroke="#000" stroke-width="1" />
<line x1="47.7" y1="524.62" x2="50.7" y2="524.62" stroke="#000" stroke-width="1" />
<line x1="47.7" y1="520.56" x2="50.7" y2="520.56" stroke="#000" stroke-width="1" />
<line x1="47.7" y1="516.5" x2="50.7" y2="516.5" stroke="#000" stroke-width="1" />
<line x1="47.7" y1="512.44" x2="50.7" y2="512.44" stroke="#000" stroke-width="1" />
<line x1="47.7" y1="508.38" x2="50.7" y2="508.38" stroke="#000" stroke-width="1" />
<line x1="47.7" y1="504.32" x2="50.7" y2="504.32" stroke="#000" stroke-width="1" />
<line x1="47.7" y1="500.26" x2="50.7" y2="500.26" stroke="#000" stroke-width="1" />
<line x1="47.7" y1="492.14" x2="50.7" y2="492.14" stroke="#000" stroke-width="1" />
<line x1="47.7" y1="488.08" x2="50.7" y2="488.08" stroke="#000" stroke-width="1" />
<line x1="47.7" y1="484.02" x2="50.7" y2="484.02" stroke="#000" stroke-width="1" />
<line x1="47.7" y1="479.96" x2="50.7" y2="479.96" stroke="#000" stroke-width="1" />
<line x1="47.7" y1="475.9" x2="50.7" y2="475.9" stroke="#000" stroke-width="1" />
<line x1="47.7" y1="471.84" x2="50.7" y2="471.84" stroke="#000" stroke-width="1" />
<line x1="47.7" y1="467.78" x2="50.7" y2="467.78" stroke="#000" stroke-width="1" />
<line x1="47.7" y1="463.72" x2="50.7" y2="463.72" stroke="#000" stroke-width="1" />
<line x1="47.7" y1="459.66" x2="50.7" y2="459.66" stroke="#000" stroke-width="1" />
<line x1="47.7" y1="451.54" x2="50.7" y2="451.54" stroke="#000" stroke-width="1" />
<line x1="47.7" y1="447.48" x2="50.7" y2="447.48" stroke="#000" stroke-width="1" />
<line x1="47.7" y1="443.42" x2="50.7" y2="443.42" stroke="#000" stroke-width="1" />
<line x1="47.7" y1="439.36" x2="50.7" y2="439.36" stroke="#000" stroke-width="1" />
<line x1="47.7" y1="435.3" x2="50.7" y2="435.3" stroke="#000" stroke-width="1" />
<line x1="47.7" y1="431.24" x2="50.7" y2="431.24" stroke="#000" stroke-width="1" />
<line x1="47.7" y1="427.18" x2="50.7" y2="427.18" stroke="#000" stroke-width="1" />
<line x1="47.7" y1="423.12" x2="50.7" y2="423.12" stroke="#000" stroke-width="1" />
<line x1="47.7" y1="419.06" x2="50.7" y2="419.06" stroke="#000" stroke-width="1" />
<rect x="328" y="415.5" width="278.5" height="161.9" fill="none" stroke="#000" stroke-width="1.2"/>
<line x1="367.7" y1="577.4" x2="367.7" y2="571.9" stroke="#000" stroke-width="1" />
<line x1="367.7" y1="415.5" x2="367.7" y2="421" stroke="#000" stroke-width="1" />
<line x1="407.5" y1="577.4" x2="407.5" y2="571.9" stroke="#000" stroke-width="1" />
<line x1="407.5" y1="415.5" x2="407.5" y2="421" stroke="#000" stroke-width="1" />
<line x1="447.3" y1="577.4" x2="447.3" y2="571.9" stroke="#000" stroke-width="1" />
<line x1="447.3" y1="415.5" x2="447.3" y2="421" stroke="#000" stroke-width="1" />
<line x1="487.1" y1="577.4" x2="487.1" y2="571.9" stroke="#000" stroke-width="1" />
<line x1="487.1" y1="415.5" x2="487.1" y2="421" stroke="#000" stroke-width="1" />
<line x1="526.9" y1="577.4" x2="526.9" y2="571.9" stroke="#000" stroke-width="1" />
<line x1="526.9" y1="415.5" x2="526.9" y2="421" stroke="#000" stroke-width="1" />
<line x1="566.7" y1="577.4" x2="566.7" y2="571.9" stroke="#000" stroke-width="1" />
<line x1="566.7" y1="415.5" x2="566.7" y2="421" stroke="#000" stroke-width="1" />
<line x1="606.5" y1="577.4" x2="606.5" y2="571.9" stroke="#000" stroke-width="1" />
<line x1="606.5" y1="415.5" x2="606.5" y2="421" stroke="#000" stroke-width="1" />
<line x1="331.88" y1="577.4" x2="331.88" y2="574.4" stroke="#000" stroke-width="1" />
<line x1="331.88" y1="415.5" x2="331.88" y2="418.5" stroke="#000" stroke-width="1" />
<line x1="335.86" y1="577.4" x2="335.86" y2="574.4" stroke="#000" stroke-width="1" />
<line x1="335.86" y1="415.5" x2="335.86" y2="418.5" stroke="#000" stroke-width="1" />
<line x1="339.84" y1="577.4" x2="339.84" y2="574.4" stroke="#000" stroke-width="1" />
<line x1="339.84" y1="415.5" x2="339.84" y2="418.5" stroke="#000" stroke-width="1" />
<line x1="343.82" y1="577.4" x2="343.82" y2="574.4" stroke="#000" stroke-width="1" />
<line x1="343.82" y1="415.5" x2="343.82" y2="418.5" stroke="#000" stroke-width="1" />
<line x1="347.8" y1="577.4" x2="347.8" y2="574.4" stroke="#000" stroke-width="1" />
<line x1="347.8" y1="415.5" x2="347.8" y2="418.5" stroke="#000" stroke-width="1" />
<line x1="351.78" y1="577.4" x2="351.78" y2="574.4" stroke="#000" stroke-width="1" />
<line x1="351.78" y1="415.5" x2="351.78" y2="418.5" stroke="#000" stroke-width="1" />
<line x1="355.76" y1="577.4" x2="355.76" y2="574.4" stroke="#000" stroke-width="1" />
<line x1="355.76" y1="415.5" x2="355.76" y2="418.5" stroke="#000" stroke-width="1" />
<line x1="359.74" y1="577.4" x2="359.74" y2="574.4" stroke="#000" stroke-width="1" />
<line x1="359.74" y1="415.5" x2="359.74" y2="418.5" stroke="#000" stroke-width="1" />
<line x1="363.72" y1="577.4" x2="363.72" y2="574.4" stroke="#000" stroke-width="1" />
<line x1="363.72" y1="415.5" x2="363.72" y2="418.5" stroke="#000" stroke-width="1" />
<line x1="371.68" y1="577.4" x2="371.68" y2="574.4" stroke="#000" stroke-width="1" />
<line x1="371.68" y1="415.5" x2="371.68" y2="418.5" stroke="#000" stroke-width="1" />
<line x1="375.66" y1="577.4" x2="375.66" y2="574.4" stroke="#000" stroke-width="1" />
<line x1="375.66" y1="415.5" x2="375.66" y2="418.5" stroke="#000" stroke-width="1" />
<line x1="379.64" y1="577.4" x2="379.64" y2="574.4" stroke="#000" stroke-width="1" />
<line x1="379.64" y1="415.5" x2="379.64" y2="418.5" stroke="#000" stroke-width="1" />
<line x1="383.62" y1="577.4" x2="383.62" y2="574.4" stroke="#000" stroke-width="1" />
<line x1="383.62" y1="415.5" x2="383.62" y2="418.5" stroke="#000" stroke-width="1" />
<line x1="387.6" y1="577.4" x2="387.6" y2="574.4" stroke="#000" stroke-width="1" />
<line x1="387.6" y1="415.5" x2="387.6" y2="418.5" stroke="#000" stroke-width="1" />
<line x1="391.58" y1="577.4" x2="391.58" y2="574.4" stroke="#000" stroke-width="1" />
<line x1="391.58" y1="415.5" x2="391.58" y2="418.5" stroke="#000" stroke-width="1" />
<line x1="395.56" y1="577.4" x2="395.56" y2="574.4" stroke="#000" stroke-width="1" />
<line x1="395.56" y1="415.5" x2="395.56" y2="418.5" stroke="#000" stroke-width="1" />
<line x1="399.54" y1="577.4" x2="399.54" y2="574.4" stroke="#000" stroke-width="1" />
<line x1="399.54" y1="415.5" x2="399.54" y2="418.5" stroke="#000" stroke-width="1" />
<line x1="403.52" y1="577.4" x2="403.52" y2="574.4" stroke="#000" stroke-width="1" />
<line x1="403.52" y1="415.5" x2="403.52" y2="418.5" stroke="#000" stroke-width="1" />
<line x1="411.48" y1="577.4" x2="411.48" y2="574.4" stroke="#000" stroke-width="1" />
<line x1="411.48" y1="415.5" x2="411.48" y2="418.5" stroke="#000" stroke-width="1" />
<line x1="415.46" y1="577.4" x2="415.46" y2="574.4" stroke="#000" stroke-width="1" />
<line x1="415.46" y1="415.5" x2="415.46" y2="418.5" stroke="#000" stroke-width="1" />
<line x1="419.44" y1="577.4" x2="419.44" y2="574.4" stroke="#000" stroke-width="1" />
<line x1="419.44" y1="415.5" x2="419.44" y2="418.5" stroke="#000" stroke-width="1" />
<line x1="423.42" y1="577.4" x2="423.42" y2="574.4" stroke="#000" stroke-width="1" />
<line x1="423.42" y1="415.5" x2="423.42" y2="418.5" stroke="#000" stroke-width="1" />
<line x1="427.4" y1="577.4" x2="427.4" y2="574.4" stroke="#000" stroke-width="1" />
<line x1="427.4" y1="415.5" x2="427.4" y2="418.5" stroke="#000" stroke-width="1" />
<line x1="431.38" y1="577.4" x2="431.38" y2="574.4" stroke="#000" stroke-width="1" />
<line x1="431.38" y1="415.5" x2="431.38" y2="418.5" stroke="#000" stroke-width="1" />
<line x1="435.36" y1="577.4" x2="435.36" y2="574.4" stroke="#000" stroke-width="1" />
<line x1="435.36" y1="415.5" x2="435.36" y2="418.5" stroke="#000" stroke-width="1" />
<line x1="439.34" y1="577.4" x2="439.34" y2="574.4" stroke="#000" stroke-width="1" />
<line x1="439.34" y1="415.5" x2="439.34" y2="418.5" stroke="#000" stroke-width="1" />
<line x1="443.32" y1="577.4" x2="443.32" y2="574.4" stroke="#000" stroke-width="1" />
<line x1="443.32" y1="415.5" x2="443.32" y2="418.5" stroke="#000" stroke-width="1" />
<line x1="451.28" y1="577.4" x2="451.28" y2="574.4" stroke="#000" stroke-width="1" />
<line x1="451.28" y1="415.5" x2="451.28" y2="418.5" stroke="#000" stroke-width="1" />
<line x1="455.26" y1="577.4" x2="455.26" y2="574.4" stroke="#000" stroke-width="1" />
<line x1="455.26" y1="415.5" x2="455.26" y2="418.5" stroke="#000" stroke-width="1" />
<line x1="459.24" y1="577.4" x2="459.24" y2="574.4" stroke="#000" stroke-width="1" />
<line x1="459.24" y1="415.5" x2="459.24" y2="418.5" stroke="#000" stroke-width="1" />
<line x1="463.22" y1="577.4" x2="463.22" y2="574.4" stroke="#000" stroke-width="1" />
<line x1="463.22" y1="415.5" x2="463.22" y2="418.5" stroke="#000" stroke-width="1" />
<line x1="467.2" y1="577.4" x2="467.2" y2="574.4" stroke="#000" stroke-width="1" />
<line x1="467.2" y1="415.5" x2="467.2" y2="418.5" stroke="#000" stroke-width="1" />
<line x1="471.18" y1="577.4" x2="471.18" y2="574.4" stroke="#000" stroke-width="1" />
<line x1="471.18" y1="415.5" x2="471.18" y2="418.5" stroke="#000" stroke-width="1" />
<line x1="475.16" y1="577.4" x2="475.16" y2="574.4" stroke="#000" stroke-width="1" />
<line x1="475.16" y1="415.5" x2="475.16" y2="418.5" stroke="#000" stroke-width="1" />
<line x1="479.14" y1="577.4" x2="479.14" y2="574.4" stroke="#000" stroke-width="1" />
<line x1="479.14" y1="415.5" x2="479.14" y2="418.5" stroke="#000" stroke-width="1" />
<line x1="483.12" y1="577.4" x2="483.12" y2="574.4" stroke="#000" stroke-width="1" />
<line x1="483.12" y1="415.5" x2="483.12" y2="418.5" stroke="#000" stroke-width="1" />
<line x1="491.08" y1="577.4" x2="491.08" y2="574.4" stroke="#000" stroke-width="1" />
<line x1="491.08" y1="415.5" x2="491.08" y2="418.5" stroke="#000" stroke-width="1" />
<line x1="495.06" y1="577.4" x2="495.06" y2="574.4" stroke="#000" stroke-width="1" />
<line x1="495.06" y1="415.5" x2="495.06" y2="418.5" stroke="#000" stroke-width="1" />
<line x1="499.04" y1="577.4" x2="499.04" y2="574.4" stroke="#000" stroke-width="1" />
<line x1="499.04" y1="415.5" x2="499.04" y2="418.5" stroke="#000" stroke-width="1" />
<line x1="503.02" y1="577.4" x2="503.02" y2="574.4" stroke="#000" stroke-width="1" />
<line x1="503.02" y1="415.5" x2="503.02" y2="418.5" stroke="#000" stroke-width="1" />
<line x1="507" y1="577.4" x2="507" y2="574.4" stroke="#000" stroke-width="1" />
<line x1="507" y1="415.5" x2="507" y2="418.5" stroke="#000" stroke-width="1" />
<line x1="510.98" y1="577.4" x2="510.98" y2="574.4" stroke="#000" stroke-width="1" />
<line x1="510.98" y1="415.5" x2="510.98" y2="418.5" stroke="#000" stroke-width="1" />
<line x1="514.96" y1="577.4" x2="514.96" y2="574.4" stroke="#000" stroke-width="1" />
<line x1="514.96" y1="415.5" x2="514.96" y2="418.5" stroke="#000" stroke-width="1" />
<line x1="518.94" y1="577.4" x2="518.94" y2="574.4" stroke="#000" stroke-width="1" />
<line x1="518.94" y1="415.5" x2="518.94" y2="418.5" stroke="#000" stroke-width="1" />
<line x1="522.92" y1="577.4" x2="522.92" y2="574.4" stroke="#000" stroke-width="1" />
<line x1="522.92" y1="415.5" x2="522.92" y2="418.5" stroke="#000" stroke-width="1" />
<line x1="530.88" y1="577.4" x2="530.88" y2="574.4" stroke="#000" stroke-width="1" />
<line x1="530.88" y1="415.5" x2="530.88" y2="418.5" stroke="#000" stroke-width="1" />
<line x1="534.86" y1="577.4" x2="534.86" y2="574.4" stroke="#000" stroke-width="1" />
<line x1="534.86" y1="415.5" x2="534.86" y2="418.5" stroke="#000" stroke-width="1" />
<line x1="538.84" y1="577.4" x2="538.84" y2="574.4" stroke="#000" stroke-width="1" />
<line x1="538.84" y1="415.5" x2="538.84" y2="418.5" stroke="#000" stroke-width="1" />
<line x1="542.82" y1="577.4" x2="542.82" y2="574.4" stroke="#000" stroke-width="1" />
<line x1="542.82" y1="415.5" x2="542.82" y2="418.5" stroke="#000" stroke-width="1" />
<line x1="546.8" y1="577.4" x2="546.8" y2="574.4" stroke="#000" stroke-width="1" />
<line x1="546.8" y1="415.5" x2="546.8" y2="418.5" stroke="#000" stroke-width="1" />
<line x1="550.78" y1="577.4" x2="550.78" y2="574.4" stroke="#000" stroke-width="1" />
<line x1="550.78" y1="415.5" x2="550.78" y2="418.5" stroke="#000" stroke-width="1" />
<line x1="554.76" y1="577.4" x2="554.76" y2="574.4" stroke="#000" stroke-width="1" />
<line x1="554.76" y1="415.5" x2="554.76" y2="418.5" stroke="#000" stroke-width="1" />
<line x1="558.74" y1="577.4" x2="558.74" y2="574.4" stroke="#000" stroke-width="1" />
<line x1="558.74" y1="415.5" x2="558.74" y2="418.5" stroke="#000" stroke-width="1" />
<line x1="562.72" y1="577.4" x2="562.72" y2="574.4" stroke="#000" stroke-width="1" />
<line x1="562.72" y1="415.5" x2="562.72" y2="418.5" stroke="#000" stroke-width="1" />
<line x1="570.68" y1="577.4" x2="570.68" y2="574.4" stroke="#000" stroke-width="1" />
<line x1="570.68" y1="415.5" x2="570.68" y2="418.5" stroke="#000" stroke-width="1" />
<line x1="574.66" y1="577.4" x2="574.66" y2="574.4" stroke="#000" stroke-width="1" />
<line x1="574.66" y1="415.5" x2="574.66" y2="418.5" stroke="#000" stroke-width="1" />
<line x1="578.64" y1="577.4" x2="578.64" y2="574.4" stroke="#000" stroke-width="1" />
<line x1="578.64" y1="415.5" x2="578.64" y2="418.5" stroke="#000" stroke-width="1" />
<line x1="582.62" y1="577.4" x2="582.62" y2="574.4" stroke="#000" stroke-width="1" />
<line x1="582.62" y1="415.5" x2="582.62" y2="418.5" stroke="#000" stroke-width="1" />
<line x1="586.6" y1="577.4" x2="586.6" y2="574.4" stroke="#000" stroke-width="1" />
<line x1="586.6" y1="415.5" x2="586.6" y2="418.5" stroke="#000" stroke-width="1" />
<line x1="590.58" y1="577.4" x2="590.58" y2="574.4" stroke="#000" stroke-width="1" />
<line x1="590.58" y1="415.5" x2="590.58" y2="418.5" stroke="#000" stroke-width="1" />
<line x1="594.56" y1="577.4" x2="594.56" y2="574.4" stroke="#000" stroke-width="1" />
<line x1="594.56" y1="415.5" x2="594.56" y2="418.5" stroke="#000" stroke-width="1" />
<line x1="598.54" y1="577.4" x2="598.54" y2="574.4" stroke="#000" stroke-width="1" />
<line x1="598.54" y1="415.5" x2="598.54" y2="418.5" stroke="#000" stroke-width="1" />
<line x1="602.52" y1="577.4" x2="602.52" y2="574.4" stroke="#000" stroke-width="1" />
<line x1="602.52" y1="415.5" x2="602.52" y2="418.5" stroke="#000" stroke-width="1" />
<line x1="610.48" y1="577.4" x2="610.48" y2="574.4" stroke="#000" stroke-width="1" />
<line x1="610.48" y1="415.5" x2="610.48" y2="418.5" stroke="#000" stroke-width="1" />
<line x1="614.46" y1="577.4" x2="614.46" y2="574.4" stroke="#000" stroke-width="1" />
<line x1="614.46" y1="415.5" x2="614.46" y2="418.5" stroke="#000" stroke-width="1" />
<line x1="618.44" y1="577.4" x2="618.44" y2="574.4" stroke="#000" stroke-width="1" />
<line x1="618.44" y1="415.5" x2="618.44" y2="418.5" stroke="#000" stroke-width="1" />
<line x1="622.42" y1="577.4" x2="622.42" y2="574.4" stroke="#000" stroke-width="1" />
<line x1="622.42" y1="415.5" x2="622.42" y2="418.5" stroke="#000" stroke-width="1" />
<line x1="626.4" y1="577.4" x2="626.4" y2="574.4" stroke="#000" stroke-width="1" />
<line x1="626.4" y1="415.5" x2="626.4" y2="418.5" stroke="#000" stroke-width="1" />
<line x1="630.38" y1="577.4" x2="630.38" y2="574.4" stroke="#000" stroke-width="1" />
<line x1="630.38" y1="415.5" x2="630.38" y2="418.5" stroke="#000" stroke-width="1" />
<line x1="328" y1="536.8" x2="333.5" y2="536.8" stroke="#000" stroke-width="1" />
<line x1="606.5" y1="536.8" x2="601" y2="536.8" stroke="#000" stroke-width="1" />
<line x1="328" y1="496.2" x2="333.5" y2="496.2" stroke="#000" stroke-width="1" />
<line x1="606.5" y1="496.2" x2="601" y2="496.2" stroke="#000" stroke-width="1" />
<line x1="328" y1="455.6" x2="333.5" y2="455.6" stroke="#000" stroke-width="1" />
<line x1="606.5" y1="455.6" x2="601" y2="455.6" stroke="#000" stroke-width="1" />
<line x1="328" y1="573.34" x2="331" y2="573.34" stroke="#000" stroke-width="1" />
<line x1="606.5" y1="573.34" x2="603.5" y2="573.34" stroke="#000" stroke-width="1" />
<line x1="328" y1="569.28" x2="331" y2="569.28" stroke="#000" stroke-width="1" />
<line x1="606.5" y1="569.28" x2="603.5" y2="569.28" stroke="#000" stroke-width="1" />
<line x1="328" y1="565.22" x2="331" y2="565.22" stroke="#000" stroke-width="1" />
<line x1="606.5" y1="565.22" x2="603.5" y2="565.22" stroke="#000" stroke-width="1" />
<line x1="328" y1="561.16" x2="331" y2="561.16" stroke="#000" stroke-width="1" />
<line x1="606.5" y1="561.16" x2="603.5" y2="561.16" stroke="#000" stroke-width="1" />
<line x1="328" y1="557.1" x2="331" y2="557.1" stroke="#000" stroke-width="1" />
<line x1="606.5" y1="557.1" x2="603.5" y2="557.1" stroke="#000" stroke-width="1" />
<line x1="328" y1="553.04" x2="331" y2="553.04" stroke="#000" stroke-width="1" />
<line x1="606.5" y1="553.04" x2="603.5" y2="553.04" stroke="#000" stroke-width="1" />
<line x1="328" y1="548.98" x2="331" y2="548.98" stroke="#000" stroke-width="1" />
<line x1="606.5" y1="548.98" x2="603.5" y2="548.98" stroke="#000" stroke-width="1" />
<line x1="328" y1="544.92" x2="331" y2="544.92" stroke="#000" stroke-width="1" />
<line x1="606.5" y1="544.92" x2="603.5" y2="544.92" stroke="#000" stroke-width="1" />
<line x1="328" y1="540.86" x2="331" y2="540.86" stroke="#000" stroke-width="1" />
<line x1="606.5" y1="540.86" x2="603.5" y2="540.86" stroke="#000" stroke-width="1" />
<line x1="328" y1="532.74" x2="331" y2="532.74" stroke="#000" stroke-width="1" />
<line x1="606.5" y1="532.74" x2="603.5" y2="532.74" stroke="#000" stroke-width="1" />
<line x1="328" y1="528.68" x2="331" y2="528.68" stroke="#000" stroke-width="1" />
<line x1="606.5" y1="528.68" x2="603.5" y2="528.68" stroke="#000" stroke-width="1" />
<line x1="328" y1="524.62" x2="331" y2="524.62" stroke="#000" stroke-width="1" />
<line x1="606.5" y1="524.62" x2="603.5" y2="524.62" stroke="#000" stroke-width="1" />
<line x1="328" y1="520.56" x2="331" y2="520.56" stroke="#000" stroke-width="1" />
<line x1="606.5" y1="520.56" x2="603.5" y2="520.56" stroke="#000" stroke-width="1" />
<line x1="328" y1="516.5" x2="331" y2="516.5" stroke="#000" stroke-width="1" />
<line x1="606.5" y1="516.5" x2="603.5" y2="516.5" stroke="#000" stroke-width="1" />
<line x1="328" y1="512.44" x2="331" y2="512.44" stroke="#000" stroke-width="1" />
<line x1="606.5" y1="512.44" x2="603.5" y2="512.44" stroke="#000" stroke-width="1" />
<line x1="328" y1="508.38" x2="331" y2="508.38" stroke="#000" stroke-width="1" />
<line x1="606.5" y1="508.38" x2="603.5" y2="508.38" stroke="#000" stroke-width="1" />
<line x1="328" y1="504.32" x2="331" y2="504.32" stroke="#000" stroke-width="1" />
<line x1="606.5" y1="504.32" x2="603.5" y2="504.32" stroke="#000" stroke-width="1" />
<line x1="328" y1="500.26" x2="331" y2="500.26" stroke="#000" stroke-width="1" />
<line x1="606.5" y1="500.26" x2="603.5" y2="500.26" stroke="#000" stroke-width="1" />
<line x1="328" y1="492.14" x2="331" y2="492.14" stroke="#000" stroke-width="1" />
<line x1="606.5" y1="492.14" x2="603.5" y2="492.14" stroke="#000" stroke-width="1" />
<line x1="328" y1="488.08" x2="331" y2="488.08" stroke="#000" stroke-width="1" />
<line x1="606.5" y1="488.08" x2="603.5" y2="488.08" stroke="#000" stroke-width="1" />
<line x1="328" y1="484.02" x2="331" y2="484.02" stroke="#000" stroke-width="1" />
<line x1="606.5" y1="484.02" x2="603.5" y2="484.02" stroke="#000" stroke-width="1" />
<line x1="328" y1="479.96" x2="331" y2="479.96" stroke="#000" stroke-width="1" />
<line x1="606.5" y1="479.96" x2="603.5" y2="479.96" stroke="#000" stroke-width="1" />
<line x1="328" y1="475.9" x2="331" y2="475.9" stroke="#000" stroke-width="1" />
<line x1="606.5" y1="475.9" x2="603.5" y2="475.9" stroke="#000" stroke-width="1" />
<line x1="328" y1="471.84" x2="331" y2="471.84" stroke="#000" stroke-width="1" />
<line x1="606.5" y1="471.84" x2="603.5" y2="471.84" stroke="#000" stroke-width="1" />
<line x1="328" y1="467.78" x2="331" y2="467.78" stroke="#000" stroke-width="1" />
<line x1="606.5" y1="467.78" x2="603.5" y2="467.78" stroke="#000" stroke-width="1" />
<line x1="328" y1="463.72" x2="331" y2="463.72" stroke="#000" stroke-width="1" />
<line x1="606.5" y1="463.72" x2="603.5" y2="463.72" stroke="#000" stroke-width="1" />
<line x1="328" y1="459.66" x2="331" y2="459.66" stroke="#000" stroke-width="1" />
<line x1="606.5" y1="459.66" x2="603.5" y2="459.66" stroke="#000" stroke-width="1" />
<line x1="328" y1="451.54" x2="331" y2="451.54" stroke="#000" stroke-width="1" />
<line x1="606.5" y1="451.54" x2="603.5" y2="451.54" stroke="#000" stroke-width="1" />
<line x1="328" y1="447.48" x2="331" y2="447.48" stroke="#000" stroke-width="1" />
<line x1="606.5" y1="447.48" x2="603.5" y2="447.48" stroke="#000" stroke-width="1" />
<line x1="328" y1="443.42" x2="331" y2="443.42" stroke="#000" stroke-width="1" />
<line x1="606.5" y1="443.42" x2="603.5" y2="443.42" stroke="#000" stroke-width="1" />
<line x1="328" y1="439.36" x2="331" y2="439.36" stroke="#000" stroke-width="1" />
<line x1="606.5" y1="439.36" x2="603.5" y2="439.36" stroke="#000" stroke-width="1" />
<line x1="328" y1="435.3" x2="331" y2="435.3" stroke="#000" stroke-width="1" />
<line x1="606.5" y1="435.3" x2="603.5" y2="435.3" stroke="#000" stroke-width="1" />
<line x1="328" y1="431.24" x2="331" y2="431.24" stroke="#000" stroke-width="1" />
<line x1="606.5" y1="431.24" x2="603.5" y2="431.24" stroke="#000" stroke-width="1" />
<line x1="328" y1="427.18" x2="331" y2="427.18" stroke="#000" stroke-width="1" />
<line x1="606.5" y1="427.18" x2="603.5" y2="427.18" stroke="#000" stroke-width="1" />
<line x1="328" y1="423.12" x2="331" y2="423.12" stroke="#000" stroke-width="1" />
<line x1="606.5" y1="423.12" x2="603.5" y2="423.12" stroke="#000" stroke-width="1" />
<line x1="328" y1="419.06" x2="331" y2="419.06" stroke="#000" stroke-width="1" />
<line x1="606.5" y1="419.06" x2="603.5" y2="419.06" stroke="#000" stroke-width="1" />
<rect x="47.7" y="622.5" width="279.8" height="162" fill="none" stroke="#000" stroke-width="1.2"/>
<line x1="73.15" y1="784.5" x2="73.15" y2="779" stroke="#000" stroke-width="1" />
<line x1="73.15" y1="622.5" x2="73.15" y2="628" stroke="#000" stroke-width="1" />
<line x1="124.05" y1="784.5" x2="124.05" y2="779" stroke="#000" stroke-width="1" />
<line x1="124.05" y1="622.5" x2="124.05" y2="628" stroke="#000" stroke-width="1" />
<line x1="174.95" y1="784.5" x2="174.95" y2="779" stroke="#000" stroke-width="1" />
<line x1="174.95" y1="622.5" x2="174.95" y2="628" stroke="#000" stroke-width="1" />
<line x1="225.85" y1="784.5" x2="225.85" y2="779" stroke="#000" stroke-width="1" />
<line x1="225.85" y1="622.5" x2="225.85" y2="628" stroke="#000" stroke-width="1" />
<line x1="276.75" y1="784.5" x2="276.75" y2="779" stroke="#000" stroke-width="1" />
<line x1="276.75" y1="622.5" x2="276.75" y2="628" stroke="#000" stroke-width="1" />
<line x1="60.43" y1="784.5" x2="60.43" y2="781.5" stroke="#000" stroke-width="1" />
<line x1="60.43" y1="622.5" x2="60.43" y2="625.5" stroke="#000" stroke-width="1" />
<line x1="85.88" y1="784.5" x2="85.88" y2="781.5" stroke="#000" stroke-width="1" />
<line x1="85.88" y1="622.5" x2="85.88" y2="625.5" stroke="#000" stroke-width="1" />
<line x1="98.6" y1="784.5" x2="98.6" y2="781.5" stroke="#000" stroke-width="1" />
<line x1="98.6" y1="622.5" x2="98.6" y2="625.5" stroke="#000" stroke-width="1" />
<line x1="111.33" y1="784.5" x2="111.33" y2="781.5" stroke="#000" stroke-width="1" />
<line x1="111.33" y1="622.5" x2="111.33" y2="625.5" stroke="#000" stroke-width="1" />
<line x1="136.78" y1="784.5" x2="136.78" y2="781.5" stroke="#000" stroke-width="1" />
<line x1="136.78" y1="622.5" x2="136.78" y2="625.5" stroke="#000" stroke-width="1" />
<line x1="149.5" y1="784.5" x2="149.5" y2="781.5" stroke="#000" stroke-width="1" />
<line x1="149.5" y1="622.5" x2="149.5" y2="625.5" stroke="#000" stroke-width="1" />
<line x1="162.22" y1="784.5" x2="162.22" y2="781.5" stroke="#000" stroke-width="1" />
<line x1="162.22" y1="622.5" x2="162.22" y2="625.5" stroke="#000" stroke-width="1" />
<line x1="187.68" y1="784.5" x2="187.68" y2="781.5" stroke="#000" stroke-width="1" />
<line x1="187.68" y1="622.5" x2="187.68" y2="625.5" stroke="#000" stroke-width="1" />
<line x1="200.4" y1="784.5" x2="200.4" y2="781.5" stroke="#000" stroke-width="1" />
<line x1="200.4" y1="622.5" x2="200.4" y2="625.5" stroke="#000" stroke-width="1" />
<line x1="213.12" y1="784.5" x2="213.12" y2="781.5" stroke="#000" stroke-width="1" />
<line x1="213.12" y1="622.5" x2="213.12" y2="625.5" stroke="#000" stroke-width="1" />
<line x1="238.57" y1="784.5" x2="238.57" y2="781.5" stroke="#000" stroke-width="1" />
<line x1="238.57" y1="622.5" x2="238.57" y2="625.5" stroke="#000" stroke-width="1" />
<line x1="251.3" y1="784.5" x2="251.3" y2="781.5" stroke="#000" stroke-width="1" />
<line x1="251.3" y1="622.5" x2="251.3" y2="625.5" stroke="#000" stroke-width="1" />
<line x1="264.02" y1="784.5" x2="264.02" y2="781.5" stroke="#000" stroke-width="1" />
<line x1="264.02" y1="622.5" x2="264.02" y2="625.5" stroke="#000" stroke-width="1" />
<line x1="289.48" y1="784.5" x2="289.48" y2="781.5" stroke="#000" stroke-width="1" />
<line x1="289.48" y1="622.5" x2="289.48" y2="625.5" stroke="#000" stroke-width="1" />
<line x1="302.2" y1="784.5" x2="302.2" y2="781.5" stroke="#000" stroke-width="1" />
<line x1="302.2" y1="622.5" x2="302.2" y2="625.5" stroke="#000" stroke-width="1" />
<line x1="314.92" y1="784.5" x2="314.92" y2="781.5" stroke="#000" stroke-width="1" />
<line x1="314.92" y1="622.5" x2="314.92" y2="625.5" stroke="#000" stroke-width="1" />
<line x1="47.7" y1="750.6" x2="53.2" y2="750.6" stroke="#000" stroke-width="1" />
<line x1="327.5" y1="750.6" x2="322" y2="750.6" stroke="#000" stroke-width="1" />
<line x1="47.7" y1="718.7" x2="53.2" y2="718.7" stroke="#000" stroke-width="1" />
<line x1="327.5" y1="718.7" x2="322" y2="718.7" stroke="#000" stroke-width="1" />
<line x1="47.7" y1="686.8" x2="53.2" y2="686.8" stroke="#000" stroke-width="1" />
<line x1="327.5" y1="686.8" x2="322" y2="686.8" stroke="#000" stroke-width="1" />
<line x1="47.7" y1="654.9" x2="53.2" y2="654.9" stroke="#000" stroke-width="1" />
<line x1="327.5" y1="654.9" x2="322" y2="654.9" stroke="#000" stroke-width="1" />
<line x1="47.7" y1="774.52" x2="50.7" y2="774.52" stroke="#000" stroke-width="1" />
<line x1="327.5" y1="774.52" x2="324.5" y2="774.52" stroke="#000" stroke-width="1" />
<line x1="47.7" y1="766.55" x2="50.7" y2="766.55" stroke="#000" stroke-width="1" />
<line x1="327.5" y1="766.55" x2="324.5" y2="766.55" stroke="#000" stroke-width="1" />
<line x1="47.7" y1="758.58" x2="50.7" y2="758.58" stroke="#000" stroke-width="1" />
<line x1="327.5" y1="758.58" x2="324.5" y2="758.58" stroke="#000" stroke-width="1" />
<line x1="47.7" y1="742.62" x2="50.7" y2="742.62" stroke="#000" stroke-width="1" />
<line x1="327.5" y1="742.62" x2="324.5" y2="742.62" stroke="#000" stroke-width="1" />
<line x1="47.7" y1="734.65" x2="50.7" y2="734.65" stroke="#000" stroke-width="1" />
<line x1="327.5" y1="734.65" x2="324.5" y2="734.65" stroke="#000" stroke-width="1" />
<line x1="47.7" y1="726.67" x2="50.7" y2="726.67" stroke="#000" stroke-width="1" />
<line x1="327.5" y1="726.67" x2="324.5" y2="726.67" stroke="#000" stroke-width="1" />
<line x1="47.7" y1="710.73" x2="50.7" y2="710.73" stroke="#000" stroke-width="1" />
<line x1="327.5" y1="710.73" x2="324.5" y2="710.73" stroke="#000" stroke-width="1" />
<line x1="47.7" y1="702.75" x2="50.7" y2="702.75" stroke="#000" stroke-width="1" />
<line x1="327.5" y1="702.75" x2="324.5" y2="702.75" stroke="#000" stroke-width="1" />
<line x1="47.7" y1="694.77" x2="50.7" y2="694.77" stroke="#000" stroke-width="1" />
<line x1="327.5" y1="694.77" x2="324.5" y2="694.77" stroke="#000" stroke-width="1" />
<line x1="47.7" y1="678.83" x2="50.7" y2="678.83" stroke="#000" stroke-width="1" />
<line x1="327.5" y1="678.83" x2="324.5" y2="678.83" stroke="#000" stroke-width="1" />
<line x1="47.7" y1="670.85" x2="50.7" y2="670.85" stroke="#000" stroke-width="1" />
<line x1="327.5" y1="670.85" x2="324.5" y2="670.85" stroke="#000" stroke-width="1" />
<line x1="47.7" y1="662.88" x2="50.7" y2="662.88" stroke="#000" stroke-width="1" />
<line x1="327.5" y1="662.88" x2="324.5" y2="662.88" stroke="#000" stroke-width="1" />
<line x1="47.7" y1="646.92" x2="50.7" y2="646.92" stroke="#000" stroke-width="1" />
<line x1="327.5" y1="646.92" x2="324.5" y2="646.92" stroke="#000" stroke-width="1" />
<line x1="47.7" y1="638.95" x2="50.7" y2="638.95" stroke="#000" stroke-width="1" />
<line x1="327.5" y1="638.95" x2="324.5" y2="638.95" stroke="#000" stroke-width="1" />
<line x1="47.7" y1="630.98" x2="50.7" y2="630.98" stroke="#000" stroke-width="1" />
<line x1="327.5" y1="630.98" x2="324.5" y2="630.98" stroke="#000" stroke-width="1" />
<path d="M86.8,122.8h9.03v16.4h-9.03zM95.83,13.7h9.03v33.8h-9.03zM104.86,14.7h9.03v45.4h-9.03zM113.89,54.5h9.03v24.4h-9.03zM122.92,74.7h9.03v16h-9.03zM131.95,82.6h9.03v21.2h-9.03zM140.98,87.7h9.03v36h-9.03zM150.01,110.4h9.03v22.6h-9.03zM159.04,107.4h9.03v21h-9.03zM168.07,126.8h9.03v14h-9.03zM177.1,131.6h9.03v12h-9.03zM186.13,138.5h9.03v11h-9.03zM195.16,140.5h9.03v12h-9.03zM204.19,144h9.03v12h-9.03zM213.22,145.5h9.03v10h-9.03zM222.25,147h9.03v10h-9.03zM231.28,150.5h9.03v9h-9.03zM240.31,151.5h9.03v8h-9.03zM249.34,153h9.03v8h-9.03zM258.37,155h9.03v7h-9.03zM267.4,156.5h9.03v6h-9.03zM276.43,154.5h9.03v7h-9.03zM285.46,157h9.03v6h-9.03zM294.49,158.5h9.03v5h-9.03zM303.52,159h9.03v5h-9.03zM312.55,159.5h9.03v5h-9.03zM321.58,160h9.03v5h-9.03z" fill="#f9df00" stroke="none" clip-path="url(#ca)" />
<path d="M95.83,99h9.03v16.8h-9.03zM104.86,101.8h9.03v23h-9.03zM113.89,112.4h9.03v20h-9.03zM122.92,118.4h9.03v20h-9.03zM131.95,126.6h9.03v20h-9.03zM140.98,126.5h9.03v19h-9.03zM150.01,135.3h9.03v18h-9.03zM159.04,136.3h9.03v17h-9.03zM168.07,143h9.03v14h-9.03zM177.1,145.5h9.03v13h-9.03zM186.13,148h9.03v12h-9.03zM195.16,150h9.03v12h-9.03zM204.19,152.5h9.03v10h-9.03zM213.22,153h9.03v10h-9.03zM222.25,153.5h9.03v10h-9.03zM231.28,154h9.03v8h-9.03zM240.31,155h9.03v8h-9.03zM249.34,156.5h9.03v6h-9.03zM258.37,157h9.03v6h-9.03zM267.4,157.5h9.03v6h-9.03zM276.43,158h9.03v6h-9.03zM285.46,159h9.03v4h-9.03zM294.49,159.5h9.03v4h-9.03zM303.52,160h9.03v4h-9.03zM312.55,160h9.03v4h-9.03zM321.58,160.5h9.03v4h-9.03z" fill="url(#hc)" stroke="none" clip-path="url(#ca)" />
<line x1="48" y1="162.6" x2="86.8" y2="162.6" stroke="#1f6fff" stroke-width="2" />
<path d="M86.8,162.6L86.8,155.8L95.83,155.8L95.83,107.4L104.86,107.4L104.86,113.3L113.89,113.3L113.89,122.4L122.92,122.4L122.92,128.4L131.95,128.4L131.95,136.6L140.98,136.6L140.98,136L150.01,136L150.01,144.3L159.04,144.3L159.04,144.8L168.07,144.8L168.07,150L177.1,150L177.1,152L186.13,152L186.13,154L195.16,154L195.16,156L204.19,156L204.19,157.5L213.22,157.5L213.22,158L222.25,158L222.25,158.5L231.28,158.5L231.28,158L240.31,158L240.31,159L249.34,159L249.34,159.5L258.37,159.5L258.37,160L267.4,160L267.4,160.5L276.43,160.5L276.43,161L285.46,161L285.46,161L294.49,161L294.49,161.5L303.52,161.5L303.52,162L312.55,162L312.55,162L321.58,162L321.58,162.5L330.61,162.5" stroke="#1f6fff" stroke-width="1.6" fill="none" clip-path="url(#ca)" stroke-linejoin="miter"/>
<path d="M86.8,162.6L86.8,131L95.83,131L95.83,30.6L104.86,30.6L104.86,37.4L113.89,37.4L113.89,66.7L122.92,66.7L122.92,82.7L131.95,82.7L131.95,93.2L140.98,93.2L140.98,105.7L150.01,105.7L150.01,121.7L159.04,121.7L159.04,117.9L168.07,117.9L168.07,133.8L177.1,133.8L177.1,137.6L186.13,137.6L186.13,144L195.16,144L195.16,146.5L204.19,146.5L204.19,150L213.22,150L213.22,150.5L222.25,150.5L222.25,152L231.28,152L231.28,155L240.31,155L240.31,155.5L249.34,155.5L249.34,157L258.37,157L258.37,158.5L267.4,158.5L267.4,159.5L276.43,159.5L276.43,158L285.46,158L285.46,160L294.49,160L294.49,161L303.52,161L303.52,161.5L312.55,161.5L312.55,162L321.58,162L321.58,162.5L330.61,162.5" stroke="#1a8c64" stroke-width="1.6" fill="none" clip-path="url(#ca)" stroke-linejoin="miter"/>
<line x1="82.5" y1="159" x2="82.5" y2="163" stroke="#ff2200" stroke-width="1" />
<line x1="80.5" y1="159" x2="84.5" y2="159" stroke="#ff2200" stroke-width="1" />
<line x1="80.5" y1="163" x2="84.5" y2="163" stroke="#ff2200" stroke-width="1" />
<line x1="79.7" y1="161.2" x2="85.3" y2="161.2" stroke="#ff2200" stroke-width="1" />
<line x1="79.7" y1="159.2" x2="79.7" y2="163.2" stroke="#ff2200" stroke-width="1" />
<line x1="85.3" y1="159.2" x2="85.3" y2="163.2" stroke="#ff2200" stroke-width="1" />
<circle cx="82.5" cy="161.2" r="2.3" fill="#ff2200" stroke="none" stroke-width="0"/>
<line x1="296" y1="159" x2="296" y2="163" stroke="#ff2200" stroke-width="1" />
<line x1="294" y1="159" x2="298" y2="159" stroke="#ff2200" stroke-width="1" />
<line x1="294" y1="163" x2="298" y2="163" stroke="#ff2200" stroke-width="1" />
<line x1="293.2" y1="161.2" x2="298.8" y2="161.2" stroke="#ff2200" stroke-width="1" />
<line x1="293.2" y1="159.2" x2="293.2" y2="163.2" stroke="#ff2200" stroke-width="1" />
<line x1="298.8" y1="159.2" x2="298.8" y2="163.2" stroke="#ff2200" stroke-width="1" />
<circle cx="296" cy="161.2" r="2.3" fill="#ff2200" stroke="none" stroke-width="0"/>
<line x1="302.3" y1="159" x2="302.3" y2="163" stroke="#ff2200" stroke-width="1" />
<line x1="300.3" y1="159" x2="304.3" y2="159" stroke="#ff2200" stroke-width="1" />
<line x1="300.3" y1="163" x2="304.3" y2="163" stroke="#ff2200" stroke-width="1" />
<line x1="299.5" y1="161.2" x2="305.1" y2="161.2" stroke="#ff2200" stroke-width="1" />
<line x1="299.5" y1="159.2" x2="299.5" y2="163.2" stroke="#ff2200" stroke-width="1" />
<line x1="305.1" y1="159.2" x2="305.1" y2="163.2" stroke="#ff2200" stroke-width="1" />
<circle cx="302.3" cy="161.2" r="2.3" fill="#ff2200" stroke="none" stroke-width="0"/>
<line x1="308.3" y1="159" x2="308.3" y2="163" stroke="#ff2200" stroke-width="1" />
<line x1="306.3" y1="159" x2="310.3" y2="159" stroke="#ff2200" stroke-width="1" />
<line x1="306.3" y1="163" x2="310.3" y2="163" stroke="#ff2200" stroke-width="1" />
<line x1="305.5" y1="161.2" x2="311.1" y2="161.2" stroke="#ff2200" stroke-width="1" />
<line x1="305.5" y1="159.2" x2="305.5" y2="163.2" stroke="#ff2200" stroke-width="1" />
<line x1="311.1" y1="159.2" x2="311.1" y2="163.2" stroke="#ff2200" stroke-width="1" />
<circle cx="308.3" cy="161.2" r="2.3" fill="#ff2200" stroke="none" stroke-width="0"/>
<rect x="314" y="160" width="2" height="2.5" fill="#00008c" />
<rect x="322.5" y="160" width="4" height="2.5" fill="#00008c" />
<line x1="91.31" y1="125.53" x2="91.31" y2="138.47" stroke="#ff2200" stroke-width="1.1" />
<line x1="87.91" y1="125.53" x2="94.72" y2="125.53" stroke="#ff2200" stroke-width="1.1" />
<line x1="87.91" y1="138.47" x2="94.72" y2="138.47" stroke="#ff2200" stroke-width="1.1" />
<line x1="86.8" y1="132" x2="95.83" y2="132" stroke="#ff2200" stroke-width="1.1" />
<line x1="86.8" y1="129.4" x2="86.8" y2="134.6" stroke="#ff2200" stroke-width="1.1" />
<line x1="95.83" y1="129.4" x2="95.83" y2="134.6" stroke="#ff2200" stroke-width="1.1" />
<circle cx="91.31" cy="132" r="3.3" fill="#ff2200" stroke="none" stroke-width="0"/>
<line x1="100.34" y1="50.22" x2="100.34" y2="73.58" stroke="#ff2200" stroke-width="1.1" />
<line x1="96.94" y1="50.22" x2="103.75" y2="50.22" stroke="#ff2200" stroke-width="1.1" />
<line x1="96.94" y1="73.58" x2="103.75" y2="73.58" stroke="#ff2200" stroke-width="1.1" />
<line x1="95.83" y1="61.9" x2="104.86" y2="61.9" stroke="#ff2200" stroke-width="1.1" />
<line x1="95.83" y1="59.3" x2="95.83" y2="64.5" stroke="#ff2200" stroke-width="1.1" />
<line x1="104.86" y1="59.3" x2="104.86" y2="64.5" stroke="#ff2200" stroke-width="1.1" />
<circle cx="100.34" cy="61.9" r="3.3" fill="#ff2200" stroke="none" stroke-width="0"/>
<line x1="109.38" y1="51.07" x2="109.38" y2="74.33" stroke="#ff2200" stroke-width="1.1" />
<line x1="105.97" y1="51.07" x2="112.78" y2="51.07" stroke="#ff2200" stroke-width="1.1" />
<line x1="105.97" y1="74.33" x2="112.78" y2="74.33" stroke="#ff2200" stroke-width="1.1" />
<line x1="104.86" y1="62.7" x2="113.89" y2="62.7" stroke="#ff2200" stroke-width="1.1" />
<line x1="104.86" y1="60.1" x2="104.86" y2="65.3" stroke="#ff2200" stroke-width="1.1" />
<line x1="113.89" y1="60.1" x2="113.89" y2="65.3" stroke="#ff2200" stroke-width="1.1" />
<circle cx="109.38" cy="62.7" r="3.3" fill="#ff2200" stroke="none" stroke-width="0"/>
<line x1="118.41" y1="63.57" x2="118.41" y2="85.43" stroke="#ff2200" stroke-width="1.1" />
<line x1="115" y1="63.57" x2="121.81" y2="63.57" stroke="#ff2200" stroke-width="1.1" />
<line x1="115" y1="85.43" x2="121.81" y2="85.43" stroke="#ff2200" stroke-width="1.1" />
<line x1="113.89" y1="74.5" x2="122.92" y2="74.5" stroke="#ff2200" stroke-width="1.1" />
<line x1="113.89" y1="71.9" x2="113.89" y2="77.1" stroke="#ff2200" stroke-width="1.1" />
<line x1="122.92" y1="71.9" x2="122.92" y2="77.1" stroke="#ff2200" stroke-width="1.1" />
<circle cx="118.41" cy="74.5" r="3.3" fill="#ff2200" stroke="none" stroke-width="0"/>
<line x1="127.44" y1="74.64" x2="127.44" y2="95.16" stroke="#ff2200" stroke-width="1.1" />
<line x1="124.03" y1="74.64" x2="130.84" y2="74.64" stroke="#ff2200" stroke-width="1.1" />
<line x1="124.03" y1="95.16" x2="130.84" y2="95.16" stroke="#ff2200" stroke-width="1.1" />
<line x1="122.92" y1="84.9" x2="131.95" y2="84.9" stroke="#ff2200" stroke-width="1.1" />
<line x1="122.92" y1="82.3" x2="122.92" y2="87.5" stroke="#ff2200" stroke-width="1.1" />
<line x1="131.95" y1="82.3" x2="131.95" y2="87.5" stroke="#ff2200" stroke-width="1.1" />
<circle cx="127.44" cy="84.9" r="3.3" fill="#ff2200" stroke="none" stroke-width="0"/>
<line x1="136.47" y1="80.5" x2="136.47" y2="100.3" stroke="#ff2200" stroke-width="1.1" />
<line x1="133.06" y1="80.5" x2="139.87" y2="80.5" stroke="#ff2200" stroke-width="1.1" />
<line x1="133.06" y1="100.3" x2="139.87" y2="100.3" stroke="#ff2200" stroke-width="1.1" />
<line x1="131.95" y1="90.4" x2="140.98" y2="90.4" stroke="#ff2200" stroke-width="1.1" />
<line x1="131.95" y1="87.8" x2="131.95" y2="93" stroke="#ff2200" stroke-width="1.1" />
<line x1="140.98" y1="87.8" x2="140.98" y2="93" stroke="#ff2200" stroke-width="1.1" />
<circle cx="136.47" cy="90.4" r="3.3" fill="#ff2200" stroke="none" stroke-width="0"/>
<line x1="145.5" y1="93.79" x2="145.5" y2="111.81" stroke="#ff2200" stroke-width="1.1" />
<line x1="142.09" y1="93.79" x2="148.9" y2="93.79" stroke="#ff2200" stroke-width="1.1" />
<line x1="142.09" y1="111.81" x2="148.9" y2="111.81" stroke="#ff2200" stroke-width="1.1" />
<line x1="140.98" y1="102.8" x2="150.01" y2="102.8" stroke="#ff2200" stroke-width="1.1" />
<line x1="140.98" y1="100.2" x2="140.98" y2="105.4" stroke="#ff2200" stroke-width="1.1" />
<line x1="150.01" y1="100.2" x2="150.01" y2="105.4" stroke="#ff2200" stroke-width="1.1" />
<circle cx="145.5" cy="102.8" r="3.3" fill="#ff2200" stroke="none" stroke-width="0"/>
<line x1="154.52" y1="101.11" x2="154.52" y2="118.09" stroke="#ff2200" stroke-width="1.1" />
<line x1="151.12" y1="101.11" x2="157.92" y2="101.11" stroke="#ff2200" stroke-width="1.1" />
<line x1="151.12" y1="118.09" x2="157.92" y2="118.09" stroke="#ff2200" stroke-width="1.1" />
<line x1="150.01" y1="109.6" x2="159.04" y2="109.6" stroke="#ff2200" stroke-width="1.1" />
<line x1="150.01" y1="107" x2="150.01" y2="112.2" stroke="#ff2200" stroke-width="1.1" />
<line x1="159.04" y1="107" x2="159.04" y2="112.2" stroke="#ff2200" stroke-width="1.1" />
<circle cx="154.52" cy="109.6" r="3.3" fill="#ff2200" stroke="none" stroke-width="0"/>
<line x1="163.56" y1="101.11" x2="163.56" y2="118.09" stroke="#ff2200" stroke-width="1.1" />
<line x1="160.16" y1="101.11" x2="166.96" y2="101.11" stroke="#ff2200" stroke-width="1.1" />
<line x1="160.16" y1="118.09" x2="166.96" y2="118.09" stroke="#ff2200" stroke-width="1.1" />
<line x1="159.04" y1="109.6" x2="168.07" y2="109.6" stroke="#ff2200" stroke-width="1.1" />
<line x1="159.04" y1="107" x2="159.04" y2="112.2" stroke="#ff2200" stroke-width="1.1" />
<line x1="168.07" y1="107" x2="168.07" y2="112.2" stroke="#ff2200" stroke-width="1.1" />
<circle cx="163.56" cy="109.6" r="3.3" fill="#ff2200" stroke="none" stroke-width="0"/>
<line x1="172.58" y1="123.66" x2="172.58" y2="136.94" stroke="#ff2200" stroke-width="1.1" />
<line x1="169.18" y1="123.66" x2="175.98" y2="123.66" stroke="#ff2200" stroke-width="1.1" />
<line x1="169.18" y1="136.94" x2="175.98" y2="136.94" stroke="#ff2200" stroke-width="1.1" />
<line x1="168.07" y1="130.3" x2="177.1" y2="130.3" stroke="#ff2200" stroke-width="1.1" />
<line x1="168.07" y1="127.7" x2="168.07" y2="132.9" stroke="#ff2200" stroke-width="1.1" />
<line x1="177.1" y1="127.7" x2="177.1" y2="132.9" stroke="#ff2200" stroke-width="1.1" />
<circle cx="172.58" cy="130.3" r="3.3" fill="#ff2200" stroke="none" stroke-width="0"/>
<line x1="181.62" y1="122.01" x2="181.62" y2="135.59" stroke="#ff2200" stroke-width="1.1" />
<line x1="178.22" y1="122.01" x2="185.02" y2="122.01" stroke="#ff2200" stroke-width="1.1" />
<line x1="178.22" y1="135.59" x2="185.02" y2="135.59" stroke="#ff2200" stroke-width="1.1" />
<line x1="177.1" y1="128.8" x2="186.13" y2="128.8" stroke="#ff2200" stroke-width="1.1" />
<line x1="177.1" y1="126.2" x2="177.1" y2="131.4" stroke="#ff2200" stroke-width="1.1" />
<line x1="186.13" y1="126.2" x2="186.13" y2="131.4" stroke="#ff2200" stroke-width="1.1" />
<circle cx="181.62" cy="128.8" r="3.3" fill="#ff2200" stroke="none" stroke-width="0"/>
<line x1="190.64" y1="141.67" x2="190.64" y2="151.13" stroke="#ff2200" stroke-width="1.1" />
<line x1="187.24" y1="141.67" x2="194.04" y2="141.67" stroke="#ff2200" stroke-width="1.1" />
<line x1="187.24" y1="151.13" x2="194.04" y2="151.13" stroke="#ff2200" stroke-width="1.1" />
<line x1="186.13" y1="146.4" x2="195.16" y2="146.4" stroke="#ff2200" stroke-width="1.1" />
<line x1="186.13" y1="143.8" x2="186.13" y2="149" stroke="#ff2200" stroke-width="1.1" />
<line x1="195.16" y1="143.8" x2="195.16" y2="149" stroke="#ff2200" stroke-width="1.1" />
<circle cx="190.64" cy="146.4" r="3.3" fill="#ff2200" stroke="none" stroke-width="0"/>
<line x1="199.67" y1="140.87" x2="199.67" y2="150.53" stroke="#ff2200" stroke-width="1.1" />
<line x1="196.27" y1="140.87" x2="203.07" y2="140.87" stroke="#ff2200" stroke-width="1.1" />
<line x1="196.27" y1="150.53" x2="203.07" y2="150.53" stroke="#ff2200" stroke-width="1.1" />
<line x1="195.16" y1="145.7" x2="204.19" y2="145.7" stroke="#ff2200" stroke-width="1.1" />
<line x1="195.16" y1="143.1" x2="195.16" y2="148.3" stroke="#ff2200" stroke-width="1.1" />
<line x1="204.19" y1="143.1" x2="204.19" y2="148.3" stroke="#ff2200" stroke-width="1.1" />
<circle cx="199.67" cy="145.7" r="3.3" fill="#ff2200" stroke="none" stroke-width="0"/>
<line x1="208.7" y1="145.58" x2="208.7" y2="154.02" stroke="#ff2200" stroke-width="1.1" />
<line x1="205.3" y1="145.58" x2="212.1" y2="145.58" stroke="#ff2200" stroke-width="1.1" />
<line x1="205.3" y1="154.02" x2="212.1" y2="154.02" stroke="#ff2200" stroke-width="1.1" />
<line x1="204.19" y1="149.8" x2="213.22" y2="149.8" stroke="#ff2200" stroke-width="1.1" />
<line x1="204.19" y1="147.2" x2="204.19" y2="152.4" stroke="#ff2200" stroke-width="1.1" />
<line x1="213.22" y1="147.2" x2="213.22" y2="152.4" stroke="#ff2200" stroke-width="1.1" />
<circle cx="208.7" cy="149.8" r="3.3" fill="#ff2200" stroke="none" stroke-width="0"/>
<line x1="217.74" y1="145" x2="217.74" y2="153.6" stroke="#ff2200" stroke-width="1.1" />
<line x1="214.34" y1="145" x2="221.14" y2="145" stroke="#ff2200" stroke-width="1.1" />
<line x1="214.34" y1="153.6" x2="221.14" y2="153.6" stroke="#ff2200" stroke-width="1.1" />
<line x1="213.22" y1="149.3" x2="222.25" y2="149.3" stroke="#ff2200" stroke-width="1.1" />
<line x1="213.22" y1="146.7" x2="213.22" y2="151.9" stroke="#ff2200" stroke-width="1.1" />
<line x1="222.25" y1="146.7" x2="222.25" y2="151.9" stroke="#ff2200" stroke-width="1.1" />
<circle cx="217.74" cy="149.3" r="3.3" fill="#ff2200" stroke="none" stroke-width="0"/>
<line x1="226.76" y1="148.15" x2="226.76" y2="155.85" stroke="#ff2200" stroke-width="1.1" />
<line x1="223.36" y1="148.15" x2="230.16" y2="148.15" stroke="#ff2200" stroke-width="1.1" />
<line x1="223.36" y1="155.85" x2="230.16" y2="155.85" stroke="#ff2200" stroke-width="1.1" />
<line x1="222.25" y1="152" x2="231.28" y2="152" stroke="#ff2200" stroke-width="1.1" />
<line x1="222.25" y1="149.4" x2="222.25" y2="154.6" stroke="#ff2200" stroke-width="1.1" />
<line x1="231.28" y1="149.4" x2="231.28" y2="154.6" stroke="#ff2200" stroke-width="1.1" />
<circle cx="226.76" cy="152" r="3.3" fill="#ff2200" stroke="none" stroke-width="0"/>
<line x1="235.79" y1="148.15" x2="235.79" y2="155.85" stroke="#ff2200" stroke-width="1.1" />
<line x1="232.39" y1="148.15" x2="239.19" y2="148.15" stroke="#ff2200" stroke-width="1.1" />
<line x1="232.39" y1="155.85" x2="239.19" y2="155.85" stroke="#ff2200" stroke-width="1.1" />
<line x1="231.28" y1="152" x2="240.31" y2="152" stroke="#ff2200" stroke-width="1.1" />
<line x1="231.28" y1="149.4" x2="231.28" y2="154.6" stroke="#ff2200" stroke-width="1.1" />
<line x1="240.31" y1="149.4" x2="240.31" y2="154.6" stroke="#ff2200" stroke-width="1.1" />
<circle cx="235.79" cy="152" r="3.3" fill="#ff2200" stroke="none" stroke-width="0"/>
<line x1="244.82" y1="150.16" x2="244.82" y2="157.24" stroke="#ff2200" stroke-width="1.1" />
<line x1="241.42" y1="150.16" x2="248.22" y2="150.16" stroke="#ff2200" stroke-width="1.1" />
<line x1="241.42" y1="157.24" x2="248.22" y2="157.24" stroke="#ff2200" stroke-width="1.1" />
<line x1="240.31" y1="153.7" x2="249.34" y2="153.7" stroke="#ff2200" stroke-width="1.1" />
<line x1="240.31" y1="151.1" x2="240.31" y2="156.3" stroke="#ff2200" stroke-width="1.1" />
<line x1="249.34" y1="151.1" x2="249.34" y2="156.3" stroke="#ff2200" stroke-width="1.1" />
<circle cx="244.82" cy="153.7" r="3.3" fill="#ff2200" stroke="none" stroke-width="0"/>
<line x1="253.85" y1="154.16" x2="253.85" y2="159.84" stroke="#ff2200" stroke-width="1.1" />
<line x1="250.45" y1="154.16" x2="257.25" y2="154.16" stroke="#ff2200" stroke-width="1.1" />
<line x1="250.45" y1="159.84" x2="257.25" y2="159.84" stroke="#ff2200" stroke-width="1.1" />
<line x1="249.34" y1="157" x2="258.37" y2="157" stroke="#ff2200" stroke-width="1.1" />
<line x1="249.34" y1="154.4" x2="249.34" y2="159.6" stroke="#ff2200" stroke-width="1.1" />
<line x1="258.37" y1="154.4" x2="258.37" y2="159.6" stroke="#ff2200" stroke-width="1.1" />
<circle cx="253.85" cy="157" r="3.3" fill="#ff2200" stroke="none" stroke-width="0"/>
<line x1="262.88" y1="154.16" x2="262.88" y2="159.84" stroke="#ff2200" stroke-width="1.1" />
<line x1="259.49" y1="154.16" x2="266.28" y2="154.16" stroke="#ff2200" stroke-width="1.1" />
<line x1="259.49" y1="159.84" x2="266.28" y2="159.84" stroke="#ff2200" stroke-width="1.1" />
<line x1="258.37" y1="157" x2="267.4" y2="157" stroke="#ff2200" stroke-width="1.1" />
<line x1="258.37" y1="154.4" x2="258.37" y2="159.6" stroke="#ff2200" stroke-width="1.1" />
<line x1="267.4" y1="154.4" x2="267.4" y2="159.6" stroke="#ff2200" stroke-width="1.1" />
<circle cx="262.88" cy="157" r="3.3" fill="#ff2200" stroke="none" stroke-width="0"/>
<line x1="271.91" y1="158.4" x2="271.91" y2="162.4" stroke="#ff2200" stroke-width="1.1" />
<line x1="268.51" y1="158.4" x2="275.31" y2="158.4" stroke="#ff2200" stroke-width="1.1" />
<line x1="268.51" y1="162.4" x2="275.31" y2="162.4" stroke="#ff2200" stroke-width="1.1" />
<line x1="267.4" y1="160.4" x2="276.43" y2="160.4" stroke="#ff2200" stroke-width="1.1" />
<line x1="267.4" y1="157.8" x2="267.4" y2="163" stroke="#ff2200" stroke-width="1.1" />
<line x1="276.43" y1="157.8" x2="276.43" y2="163" stroke="#ff2200" stroke-width="1.1" />
<circle cx="271.91" cy="160.4" r="3.3" fill="#ff2200" stroke="none" stroke-width="0"/>
<line x1="91.31" y1="148.62" x2="91.31" y2="156.18" stroke="#00008c" stroke-width="1.1" />
<line x1="88.11" y1="148.62" x2="94.52" y2="148.62" stroke="#00008c" stroke-width="1.1" />
<line x1="88.11" y1="156.18" x2="94.52" y2="156.18" stroke="#00008c" stroke-width="1.1" />
<line x1="86.8" y1="152.4" x2="95.83" y2="152.4" stroke="#00008c" stroke-width="1.1" />
<line x1="86.8" y1="149.4" x2="86.8" y2="155.4" stroke="#00008c" stroke-width="1.1" />
<line x1="95.83" y1="149.4" x2="95.83" y2="155.4" stroke="#00008c" stroke-width="1.1" />
<rect x="88.31" y="149.4" width="6" height="6" fill="#00008c" shape-rendering="crispEdges"/>
<rect x="86.81" y="147.9" width="9" height="9" fill="none" stroke="#00008c" stroke-width="0.9" stroke-dasharray="1.4,1.2" opacity="0.35"/>
<line x1="100.34" y1="102.95" x2="100.34" y2="119.65" stroke="#00008c" stroke-width="1.1" />
<line x1="97.14" y1="102.95" x2="103.55" y2="102.95" stroke="#00008c" stroke-width="1.1" />
<line x1="97.14" y1="119.65" x2="103.55" y2="119.65" stroke="#00008c" stroke-width="1.1" />
<line x1="95.83" y1="111.3" x2="104.86" y2="111.3" stroke="#00008c" stroke-width="1.1" />
<line x1="95.83" y1="108.3" x2="95.83" y2="114.3" stroke="#00008c" stroke-width="1.1" />
<line x1="104.86" y1="108.3" x2="104.86" y2="114.3" stroke="#00008c" stroke-width="1.1" />
<rect x="97.34" y="108.3" width="6" height="6" fill="#00008c" shape-rendering="crispEdges"/>
<rect x="95.84" y="106.8" width="9" height="9" fill="none" stroke="#00008c" stroke-width="0.9" stroke-dasharray="1.4,1.2" opacity="0.35"/>
<line x1="109.38" y1="94.65" x2="109.38" y2="112.55" stroke="#00008c" stroke-width="1.1" />
<line x1="106.17" y1="94.65" x2="112.58" y2="94.65" stroke="#00008c" stroke-width="1.1" />
<line x1="106.17" y1="112.55" x2="112.58" y2="112.55" stroke="#00008c" stroke-width="1.1" />
<line x1="104.86" y1="103.6" x2="113.89" y2="103.6" stroke="#00008c" stroke-width="1.1" />
<line x1="104.86" y1="100.6" x2="104.86" y2="106.6" stroke="#00008c" stroke-width="1.1" />
<line x1="113.89" y1="100.6" x2="113.89" y2="106.6" stroke="#00008c" stroke-width="1.1" />
<rect x="106.38" y="100.6" width="6" height="6" fill="#00008c" shape-rendering="crispEdges"/>
<rect x="104.88" y="99.1" width="9" height="9" fill="none" stroke="#00008c" stroke-width="0.9" stroke-dasharray="1.4,1.2" opacity="0.35"/>
<line x1="118.41" y1="121.9" x2="118.41" y2="135.5" stroke="#00008c" stroke-width="1.1" />
<line x1="115.2" y1="121.9" x2="121.61" y2="121.9" stroke="#00008c" stroke-width="1.1" />
<line x1="115.2" y1="135.5" x2="121.61" y2="135.5" stroke="#00008c" stroke-width="1.1" />
<line x1="113.89" y1="128.7" x2="122.92" y2="128.7" stroke="#00008c" stroke-width="1.1" />
<line x1="113.89" y1="125.7" x2="113.89" y2="131.7" stroke="#00008c" stroke-width="1.1" />
<line x1="122.92" y1="125.7" x2="122.92" y2="131.7" stroke="#00008c" stroke-width="1.1" />
<rect x="115.41" y="125.7" width="6" height="6" fill="#00008c" shape-rendering="crispEdges"/>
<rect x="113.91" y="124.2" width="9" height="9" fill="none" stroke="#00008c" stroke-width="0.9" stroke-dasharray="1.4,1.2" opacity="0.35"/>
<line x1="127.44" y1="127.3" x2="127.44" y2="139.9" stroke="#00008c" stroke-width="1.1" />
<line x1="124.23" y1="127.3" x2="130.63" y2="127.3" stroke="#00008c" stroke-width="1.1" />
<line x1="124.23" y1="139.9" x2="130.63" y2="139.9" stroke="#00008c" stroke-width="1.1" />
<line x1="122.92" y1="133.6" x2="131.95" y2="133.6" stroke="#00008c" stroke-width="1.1" />
<line x1="122.92" y1="130.6" x2="122.92" y2="136.6" stroke="#00008c" stroke-width="1.1" />
<line x1="131.95" y1="130.6" x2="131.95" y2="136.6" stroke="#00008c" stroke-width="1.1" />
<rect x="124.44" y="130.6" width="6" height="6" fill="#00008c" shape-rendering="crispEdges"/>
<rect x="122.94" y="129.1" width="9" height="9" fill="none" stroke="#00008c" stroke-width="0.9" stroke-dasharray="1.4,1.2" opacity="0.35"/>
<line x1="136.47" y1="133.42" x2="136.47" y2="144.78" stroke="#00008c" stroke-width="1.1" />
<line x1="133.27" y1="133.42" x2="139.66" y2="133.42" stroke="#00008c" stroke-width="1.1" />
<line x1="133.27" y1="144.78" x2="139.66" y2="144.78" stroke="#00008c" stroke-width="1.1" />
<line x1="131.95" y1="139.1" x2="140.98" y2="139.1" stroke="#00008c" stroke-width="1.1" />
<line x1="131.95" y1="136.1" x2="131.95" y2="142.1" stroke="#00008c" stroke-width="1.1" />
<line x1="140.98" y1="136.1" x2="140.98" y2="142.1" stroke="#00008c" stroke-width="1.1" />
<rect x="133.47" y="136.1" width="6" height="6" fill="#00008c" shape-rendering="crispEdges"/>
<rect x="131.97" y="134.6" width="9" height="9" fill="none" stroke="#00008c" stroke-width="0.9" stroke-dasharray="1.4,1.2" opacity="0.35"/>
<line x1="145.5" y1="142.81" x2="145.5" y2="151.99" stroke="#00008c" stroke-width="1.1" />
<line x1="142.3" y1="142.81" x2="148.69" y2="142.81" stroke="#00008c" stroke-width="1.1" />
<line x1="142.3" y1="151.99" x2="148.69" y2="151.99" stroke="#00008c" stroke-width="1.1" />
<line x1="140.98" y1="147.4" x2="150.01" y2="147.4" stroke="#00008c" stroke-width="1.1" />
<line x1="140.98" y1="144.4" x2="140.98" y2="150.4" stroke="#00008c" stroke-width="1.1" />
<line x1="150.01" y1="144.4" x2="150.01" y2="150.4" stroke="#00008c" stroke-width="1.1" />
<rect x="142.5" y="144.4" width="6" height="6" fill="#00008c" shape-rendering="crispEdges"/>
<rect x="141" y="142.9" width="9" height="9" fill="none" stroke="#00008c" stroke-width="0.9" stroke-dasharray="1.4,1.2" opacity="0.35"/>
<line x1="154.52" y1="134.77" x2="154.52" y2="145.83" stroke="#00008c" stroke-width="1.1" />
<line x1="151.32" y1="134.77" x2="157.72" y2="134.77" stroke="#00008c" stroke-width="1.1" />
<line x1="151.32" y1="145.83" x2="157.72" y2="145.83" stroke="#00008c" stroke-width="1.1" />
<line x1="150.01" y1="140.3" x2="159.04" y2="140.3" stroke="#00008c" stroke-width="1.1" />
<line x1="150.01" y1="137.3" x2="150.01" y2="143.3" stroke="#00008c" stroke-width="1.1" />
<line x1="159.04" y1="137.3" x2="159.04" y2="143.3" stroke="#00008c" stroke-width="1.1" />
<rect x="151.52" y="137.3" width="6" height="6" fill="#00008c" shape-rendering="crispEdges"/>
<rect x="150.02" y="135.8" width="9" height="9" fill="none" stroke="#00008c" stroke-width="0.9" stroke-dasharray="1.4,1.2" opacity="0.35"/>
<line x1="163.56" y1="144.89" x2="163.56" y2="153.51" stroke="#00008c" stroke-width="1.1" />
<line x1="160.36" y1="144.89" x2="166.75" y2="144.89" stroke="#00008c" stroke-width="1.1" />
<line x1="160.36" y1="153.51" x2="166.75" y2="153.51" stroke="#00008c" stroke-width="1.1" />
<line x1="159.04" y1="149.2" x2="168.07" y2="149.2" stroke="#00008c" stroke-width="1.1" />
<line x1="159.04" y1="146.2" x2="159.04" y2="152.2" stroke="#00008c" stroke-width="1.1" />
<line x1="168.07" y1="146.2" x2="168.07" y2="152.2" stroke="#00008c" stroke-width="1.1" />
<rect x="160.56" y="146.2" width="6" height="6" fill="#00008c" shape-rendering="crispEdges"/>
<rect x="159.06" y="144.7" width="9" height="9" fill="none" stroke="#00008c" stroke-width="0.9" stroke-dasharray="1.4,1.2" opacity="0.35"/>
<line x1="172.58" y1="142.01" x2="172.58" y2="151.39" stroke="#00008c" stroke-width="1.1" />
<line x1="169.38" y1="142.01" x2="175.78" y2="142.01" stroke="#00008c" stroke-width="1.1" />
<line x1="169.38" y1="151.39" x2="175.78" y2="151.39" stroke="#00008c" stroke-width="1.1" />
<line x1="168.07" y1="146.7" x2="177.1" y2="146.7" stroke="#00008c" stroke-width="1.1" />
<line x1="168.07" y1="143.7" x2="168.07" y2="149.7" stroke="#00008c" stroke-width="1.1" />
<line x1="177.1" y1="143.7" x2="177.1" y2="149.7" stroke="#00008c" stroke-width="1.1" />
<rect x="169.58" y="143.7" width="6" height="6" fill="#00008c" shape-rendering="crispEdges"/>
<rect x="168.08" y="142.2" width="9" height="9" fill="none" stroke="#00008c" stroke-width="0.9" stroke-dasharray="1.4,1.2" opacity="0.35"/>
<line x1="181.62" y1="142.47" x2="181.62" y2="151.73" stroke="#00008c" stroke-width="1.1" />
<line x1="178.42" y1="142.47" x2="184.81" y2="142.47" stroke="#00008c" stroke-width="1.1" />
<line x1="178.42" y1="151.73" x2="184.81" y2="151.73" stroke="#00008c" stroke-width="1.1" />
<line x1="177.1" y1="147.1" x2="186.13" y2="147.1" stroke="#00008c" stroke-width="1.1" />
<line x1="177.1" y1="144.1" x2="177.1" y2="150.1" stroke="#00008c" stroke-width="1.1" />
<line x1="186.13" y1="144.1" x2="186.13" y2="150.1" stroke="#00008c" stroke-width="1.1" />
<rect x="178.62" y="144.1" width="6" height="6" fill="#00008c" shape-rendering="crispEdges"/>
<rect x="177.12" y="142.6" width="9" height="9" fill="none" stroke="#00008c" stroke-width="0.9" stroke-dasharray="1.4,1.2" opacity="0.35"/>
<line x1="190.64" y1="148.5" x2="190.64" y2="156.1" stroke="#00008c" stroke-width="1.1" />
<line x1="187.44" y1="148.5" x2="193.84" y2="148.5" stroke="#00008c" stroke-width="1.1" />
<line x1="187.44" y1="156.1" x2="193.84" y2="156.1" stroke="#00008c" stroke-width="1.1" />
<line x1="186.13" y1="152.3" x2="195.16" y2="152.3" stroke="#00008c" stroke-width="1.1" />
<line x1="186.13" y1="149.3" x2="186.13" y2="155.3" stroke="#00008c" stroke-width="1.1" />
<line x1="195.16" y1="149.3" x2="195.16" y2="155.3" stroke="#00008c" stroke-width="1.1" />
<rect x="187.64" y="149.3" width="6" height="6" fill="#00008c" shape-rendering="crispEdges"/>
<rect x="186.14" y="147.8" width="9" height="9" fill="none" stroke="#00008c" stroke-width="0.9" stroke-dasharray="1.4,1.2" opacity="0.35"/>
<line x1="199.67" y1="154.65" x2="199.67" y2="160.15" stroke="#00008c" stroke-width="1.1" />
<line x1="196.47" y1="154.65" x2="202.87" y2="154.65" stroke="#00008c" stroke-width="1.1" />
<line x1="196.47" y1="160.15" x2="202.87" y2="160.15" stroke="#00008c" stroke-width="1.1" />
<line x1="195.16" y1="157.4" x2="204.19" y2="157.4" stroke="#00008c" stroke-width="1.1" />
<line x1="195.16" y1="154.4" x2="195.16" y2="160.4" stroke="#00008c" stroke-width="1.1" />
<line x1="204.19" y1="154.4" x2="204.19" y2="160.4" stroke="#00008c" stroke-width="1.1" />
<rect x="196.67" y="154.4" width="6" height="6" fill="#00008c" shape-rendering="crispEdges"/>
<rect x="195.17" y="152.9" width="9" height="9" fill="none" stroke="#00008c" stroke-width="0.9" stroke-dasharray="1.4,1.2" opacity="0.35"/>
<line x1="208.7" y1="155.53" x2="208.7" y2="160.67" stroke="#00008c" stroke-width="1.1" />
<line x1="205.5" y1="155.53" x2="211.9" y2="155.53" stroke="#00008c" stroke-width="1.1" />
<line x1="205.5" y1="160.67" x2="211.9" y2="160.67" stroke="#00008c" stroke-width="1.1" />
<line x1="204.19" y1="158.1" x2="213.22" y2="158.1" stroke="#00008c" stroke-width="1.1" />
<line x1="204.19" y1="155.1" x2="204.19" y2="161.1" stroke="#00008c" stroke-width="1.1" />
<line x1="213.22" y1="155.1" x2="213.22" y2="161.1" stroke="#00008c" stroke-width="1.1" />
<rect x="205.7" y="155.1" width="6" height="6" fill="#00008c" shape-rendering="crispEdges"/>
<rect x="204.2" y="153.6" width="9" height="9" fill="none" stroke="#00008c" stroke-width="0.9" stroke-dasharray="1.4,1.2" opacity="0.35"/>
<line x1="217.74" y1="153.78" x2="217.74" y2="159.62" stroke="#00008c" stroke-width="1.1" />
<line x1="214.54" y1="153.78" x2="220.94" y2="153.78" stroke="#00008c" stroke-width="1.1" />
<line x1="214.54" y1="159.62" x2="220.94" y2="159.62" stroke="#00008c" stroke-width="1.1" />
<line x1="213.22" y1="156.7" x2="222.25" y2="156.7" stroke="#00008c" stroke-width="1.1" />
<line x1="213.22" y1="153.7" x2="213.22" y2="159.7" stroke="#00008c" stroke-width="1.1" />
<line x1="222.25" y1="153.7" x2="222.25" y2="159.7" stroke="#00008c" stroke-width="1.1" />
<rect x="214.74" y="153.7" width="6" height="6" fill="#00008c" shape-rendering="crispEdges"/>
<rect x="213.24" y="152.2" width="9" height="9" fill="none" stroke="#00008c" stroke-width="0.9" stroke-dasharray="1.4,1.2" opacity="0.35"/>
<line x1="226.76" y1="154.65" x2="226.76" y2="160.15" stroke="#00008c" stroke-width="1.1" />
<line x1="223.56" y1="154.65" x2="229.96" y2="154.65" stroke="#00008c" stroke-width="1.1" />
<line x1="223.56" y1="160.15" x2="229.96" y2="160.15" stroke="#00008c" stroke-width="1.1" />
<line x1="222.25" y1="157.4" x2="231.28" y2="157.4" stroke="#00008c" stroke-width="1.1" />
<line x1="222.25" y1="154.4" x2="222.25" y2="160.4" stroke="#00008c" stroke-width="1.1" />
<line x1="231.28" y1="154.4" x2="231.28" y2="160.4" stroke="#00008c" stroke-width="1.1" />
<rect x="223.76" y="154.4" width="6" height="6" fill="#00008c" shape-rendering="crispEdges"/>
<rect x="222.26" y="152.9" width="9" height="9" fill="none" stroke="#00008c" stroke-width="0.9" stroke-dasharray="1.4,1.2" opacity="0.35"/>
<line x1="235.79" y1="158.3" x2="235.79" y2="162.3" stroke="#00008c" stroke-width="1.1" />
<line x1="232.59" y1="158.3" x2="238.99" y2="158.3" stroke="#00008c" stroke-width="1.1" />
<line x1="232.59" y1="162.3" x2="238.99" y2="162.3" stroke="#00008c" stroke-width="1.1" />
<line x1="231.28" y1="160.3" x2="240.31" y2="160.3" stroke="#00008c" stroke-width="1.1" />
<line x1="231.28" y1="157.3" x2="231.28" y2="163.3" stroke="#00008c" stroke-width="1.1" />
<line x1="240.31" y1="157.3" x2="240.31" y2="163.3" stroke="#00008c" stroke-width="1.1" />
<rect x="232.79" y="157.3" width="6" height="6" fill="#00008c" shape-rendering="crispEdges"/>
<rect x="231.29" y="155.8" width="9" height="9" fill="none" stroke="#00008c" stroke-width="0.9" stroke-dasharray="1.4,1.2" opacity="0.35"/>
<line x1="244.82" y1="158.5" x2="244.82" y2="162.5" stroke="#00008c" stroke-width="1.1" />
<line x1="241.62" y1="158.5" x2="248.02" y2="158.5" stroke="#00008c" stroke-width="1.1" />
<line x1="241.62" y1="162.5" x2="248.02" y2="162.5" stroke="#00008c" stroke-width="1.1" />
<line x1="240.31" y1="160.5" x2="249.34" y2="160.5" stroke="#00008c" stroke-width="1.1" />
<line x1="240.31" y1="157.5" x2="240.31" y2="163.5" stroke="#00008c" stroke-width="1.1" />
<line x1="249.34" y1="157.5" x2="249.34" y2="163.5" stroke="#00008c" stroke-width="1.1" />
<rect x="241.82" y="157.5" width="6" height="6" fill="#00008c" shape-rendering="crispEdges"/>
<rect x="240.32" y="156" width="9" height="9" fill="none" stroke="#00008c" stroke-width="0.9" stroke-dasharray="1.4,1.2" opacity="0.35"/>
<line x1="253.85" y1="157.99" x2="253.85" y2="162.01" stroke="#00008c" stroke-width="1.1" />
<line x1="250.65" y1="157.99" x2="257.05" y2="157.99" stroke="#00008c" stroke-width="1.1" />
<line x1="250.65" y1="162.01" x2="257.05" y2="162.01" stroke="#00008c" stroke-width="1.1" />
<line x1="249.34" y1="160" x2="258.37" y2="160" stroke="#00008c" stroke-width="1.1" />
<line x1="249.34" y1="157" x2="249.34" y2="163" stroke="#00008c" stroke-width="1.1" />
<line x1="258.37" y1="157" x2="258.37" y2="163" stroke="#00008c" stroke-width="1.1" />
<rect x="250.85" y="157" width="6" height="6" fill="#00008c" shape-rendering="crispEdges"/>
<rect x="249.35" y="155.5" width="9" height="9" fill="none" stroke="#00008c" stroke-width="0.9" stroke-dasharray="1.4,1.2" opacity="0.35"/>
<line x1="262.88" y1="158.5" x2="262.88" y2="162.5" stroke="#00008c" stroke-width="1.1" />
<line x1="259.69" y1="158.5" x2="266.08" y2="158.5" stroke="#00008c" stroke-width="1.1" />
<line x1="259.69" y1="162.5" x2="266.08" y2="162.5" stroke="#00008c" stroke-width="1.1" />
<line x1="258.37" y1="160.5" x2="267.4" y2="160.5" stroke="#00008c" stroke-width="1.1" />
<line x1="258.37" y1="157.5" x2="258.37" y2="163.5" stroke="#00008c" stroke-width="1.1" />
<line x1="267.4" y1="157.5" x2="267.4" y2="163.5" stroke="#00008c" stroke-width="1.1" />
<rect x="259.88" y="157.5" width="6" height="6" fill="#00008c" shape-rendering="crispEdges"/>
<rect x="258.38" y="156" width="9" height="9" fill="none" stroke="#00008c" stroke-width="0.9" stroke-dasharray="1.4,1.2" opacity="0.35"/>
<line x1="280.94" y1="159.5" x2="280.94" y2="163.5" stroke="#00008c" stroke-width="1.1" />
<line x1="277.75" y1="159.5" x2="284.14" y2="159.5" stroke="#00008c" stroke-width="1.1" />
<line x1="277.75" y1="163.5" x2="284.14" y2="163.5" stroke="#00008c" stroke-width="1.1" />
<line x1="276.43" y1="161.5" x2="285.46" y2="161.5" stroke="#00008c" stroke-width="1.1" />
<line x1="276.43" y1="158.5" x2="276.43" y2="164.5" stroke="#00008c" stroke-width="1.1" />
<line x1="285.46" y1="158.5" x2="285.46" y2="164.5" stroke="#00008c" stroke-width="1.1" />
<rect x="277.94" y="158.5" width="6" height="6" fill="#00008c" shape-rendering="crispEdges"/>
<rect x="276.44" y="157" width="9" height="9" fill="none" stroke="#00008c" stroke-width="0.9" stroke-dasharray="1.4,1.2" opacity="0.35"/>
<text x="43.3" y="32.2" font-size="11.6" text-anchor="end" >150</text>
<text x="43.3" y="77.1" font-size="11.6" text-anchor="end" >100</text>
<text x="43.3" y="122.8" font-size="11.6" text-anchor="end" >50</text>
<text x="43.3" y="163.6" font-size="11.6" text-anchor="end" >0</text>
<text x="83.2" y="181.9" font-size="11.6" text-anchor="middle" >0.5</text>
<text x="141.7" y="181.9" font-size="11.6" text-anchor="middle" >1.0</text>
<text x="200.2" y="181.9" font-size="11.6" text-anchor="middle" >1.5</text>
<text x="258.7" y="181.9" font-size="11.6" text-anchor="middle" >2.0</text>
<text x="317.2" y="181.9" font-size="11.6" text-anchor="middle" >2.5</text>
<text x="66.3" y="19.7" font-size="12.8" text-anchor="middle" >(a)</text>
<text x="187.7" y="198" font-size="11.5" text-anchor="middle" >Log(F<tspan font-size="6.5" dy="2">p</tspan><tspan dy="-2"> [ph/cm</tspan><tspan font-size="6.5" dy="-4">2</tspan><tspan dy="4"> s])</tspan></text>
<text x="0" y="0" font-size="11.6" text-anchor="middle" transform="translate(15.3,81.7) rotate(-90)">Number</text>
<line x1="24" y1="162.7" x2="47" y2="162.7" stroke="#00d8ff" stroke-width="1.2" stroke-dasharray="1.2,4.5" opacity="0.7"/>
<line x1="24" y1="369.7" x2="47" y2="369.7" stroke="#00d8ff" stroke-width="1.2" stroke-dasharray="1.2,4.5" opacity="0.7"/>
<rect x="182.6" y="8.6" width="138.50000000000003" height="96.2" fill="#fff" stroke="none"/>
<rect x="193.2" y="25.04" width="1.7" height="17.39" fill="#00d8ff" clip-path="url(#ci)"/>
<rect x="194.8" y="26.64" width="1.7" height="14.65" fill="#00d8ff" clip-path="url(#ci)"/>
<rect x="196.4" y="25.72" width="1.7" height="26.98" fill="#00d8ff" clip-path="url(#ci)"/>
<rect x="198" y="30.55" width="1.7" height="19.62" fill="#00d8ff" clip-path="url(#ci)"/>
<rect x="199.6" y="31.45" width="1.7" height="17.68" fill="#00d8ff" clip-path="url(#ci)"/>
<rect x="201.2" y="36.16" width="1.7" height="20.71" fill="#00d8ff" clip-path="url(#ci)"/>
<rect x="202.8" y="37.15" width="1.7" height="15.25" fill="#00d8ff" clip-path="url(#ci)"/>
<rect x="204.4" y="36.36" width="1.7" height="22.31" fill="#00d8ff" clip-path="url(#ci)"/>
<rect x="206" y="37.21" width="1.7" height="16.2" fill="#00d8ff" clip-path="url(#ci)"/>
<rect x="207.6" y="38.13" width="1.7" height="16.78" fill="#00d8ff" clip-path="url(#ci)"/>
<rect x="209.2" y="44.12" width="1.7" height="12.5" fill="#00d8ff" clip-path="url(#ci)"/>
<rect x="210.8" y="44.93" width="1.7" height="11.21" fill="#00d8ff" clip-path="url(#ci)"/>
<rect x="212.4" y="44.25" width="1.7" height="14.07" fill="#00d8ff" clip-path="url(#ci)"/>
<rect x="214" y="51.74" width="1.7" height="9.83" fill="#00d8ff" clip-path="url(#ci)"/>
<rect x="215.6" y="53.09" width="1.7" height="16.29" fill="#00d8ff" clip-path="url(#ci)"/>
<rect x="217.2" y="55.84" width="1.7" height="10.05" fill="#00d8ff" clip-path="url(#ci)"/>
<rect x="218.8" y="55.2" width="1.7" height="14.26" fill="#00d8ff" clip-path="url(#ci)"/>
<rect x="220.4" y="60.92" width="1.7" height="9.17" fill="#00d8ff" clip-path="url(#ci)"/>
<rect x="222" y="66.24" width="1.7" height="9.54" fill="#00d8ff" clip-path="url(#ci)"/>
<rect x="223.6" y="68.53" width="1.7" height="8.43" fill="#00d8ff" clip-path="url(#ci)"/>
<rect x="225.2" y="72.17" width="1.7" height="8.46" fill="#00d8ff" clip-path="url(#ci)"/>
<rect x="226.8" y="73.73" width="1.7" height="8.62" fill="#00d8ff" clip-path="url(#ci)"/>
<rect x="228.4" y="74.87" width="1.7" height="10.04" fill="#00d8ff" clip-path="url(#ci)"/>
<rect x="230" y="78.84" width="1.7" height="6.7" fill="#00d8ff" clip-path="url(#ci)"/>
<rect x="231.6" y="77.92" width="1.7" height="11.48" fill="#00d8ff" clip-path="url(#ci)"/>
<rect x="233.2" y="84.19" width="1.7" height="6.87" fill="#00d8ff" clip-path="url(#ci)"/>
<rect x="234.8" y="83.96" width="1.7" height="7.62" fill="#00d8ff" clip-path="url(#ci)"/>
<rect x="236.4" y="83.68" width="1.7" height="6.89" fill="#00d8ff" clip-path="url(#ci)"/>
<rect x="238" y="88.95" width="1.7" height="6.7" fill="#00d8ff" clip-path="url(#ci)"/>
<rect x="239.6" y="88.08" width="1.7" height="6.77" fill="#00d8ff" clip-path="url(#ci)"/>
<rect x="241.2" y="87.71" width="1.7" height="7.31" fill="#00d8ff" clip-path="url(#ci)"/>
<rect x="242.8" y="91.82" width="1.7" height="8.82" fill="#00d8ff" clip-path="url(#ci)"/>
<rect x="244.4" y="92.16" width="1.7" height="7.46" fill="#00d8ff" clip-path="url(#ci)"/>
<rect x="246" y="95.61" width="1.7" height="4.17" fill="#00d8ff" clip-path="url(#ci)"/>
<rect x="247.6" y="97.45" width="1.7" height="5.09" fill="#00d8ff" clip-path="url(#ci)"/>
<rect x="249.2" y="95.99" width="1.7" height="4.98" fill="#00d8ff" clip-path="url(#ci)"/>
<rect x="250.8" y="96.62" width="1.7" height="5.76" fill="#00d8ff" clip-path="url(#ci)"/>
<rect x="252.4" y="98.16" width="1.7" height="5.09" fill="#00d8ff" clip-path="url(#ci)"/>
<rect x="254" y="98.02" width="1.7" height="5.29" fill="#00d8ff" clip-path="url(#ci)"/>
<rect x="255.6" y="97.93" width="1.7" height="5.82" fill="#00d8ff" clip-path="url(#ci)"/>
<rect x="257.2" y="98.26" width="1.7" height="4.59" fill="#00d8ff" clip-path="url(#ci)"/>
<rect x="258.8" y="99.6" width="1.7" height="5.61" fill="#00d8ff" clip-path="url(#ci)"/>
<rect x="260.4" y="101.07" width="1.7" height="3.14" fill="#00d8ff" clip-path="url(#ci)"/>
<rect x="262" y="101.3" width="1.7" height="3.43" fill="#00d8ff" clip-path="url(#ci)"/>
<rect x="263.6" y="103.25" width="1.7" height="3.22" fill="#00d8ff" clip-path="url(#ci)"/>
<rect x="265.2" y="101.07" width="1.7" height="3.48" fill="#00d8ff" clip-path="url(#ci)"/>
<rect x="266.8" y="102.89" width="1.7" height="3.2" fill="#00d8ff" clip-path="url(#ci)"/>
<rect x="268.4" y="103.43" width="1.7" height="3.02" fill="#00d8ff" clip-path="url(#ci)"/>
<rect x="270" y="102.93" width="1.7" height="3.16" fill="#00d8ff" clip-path="url(#ci)"/>
<rect x="271.6" y="101.73" width="1.7" height="2.45" fill="#00d8ff" clip-path="url(#ci)"/>
<rect x="273.2" y="100.96" width="1.7" height="4.77" fill="#00d8ff" clip-path="url(#ci)"/>
<rect x="274.8" y="103.11" width="1.7" height="2.17" fill="#00d8ff" clip-path="url(#ci)"/>
<rect x="276.4" y="102.74" width="1.7" height="2.18" fill="#00d8ff" clip-path="url(#ci)"/>
<rect x="278" y="103.55" width="1.7" height="1.75" fill="#00d8ff" clip-path="url(#ci)"/>
<rect x="279.6" y="102.62" width="1.7" height="1.7" fill="#00d8ff" clip-path="url(#ci)"/>
<rect x="281.2" y="103.03" width="1.7" height="1.49" fill="#00d8ff" clip-path="url(#ci)"/>
<rect x="282.8" y="103.17" width="1.7" height="2.4" fill="#00d8ff" clip-path="url(#ci)"/>
<rect x="284.4" y="103.9" width="1.7" height="1.71" fill="#00d8ff" clip-path="url(#ci)"/>
<rect x="286" y="104.69" width="1.7" height="1.88" fill="#00d8ff" clip-path="url(#ci)"/>
<rect x="287.6" y="103.51" width="1.7" height="1.61" fill="#00d8ff" clip-path="url(#ci)"/>
<rect x="289.2" y="104.84" width="1.7" height="2.07" fill="#00d8ff" clip-path="url(#ci)"/>
<rect x="290.8" y="105.2" width="1.7" height="1.26" fill="#00d8ff" clip-path="url(#ci)"/>
<line x1="193.2" y1="104" x2="193.2" y2="32.2" stroke="#808080" stroke-width="1.1" />
<path d="M193.4,32.32 L195.6,34.84 L197.8,36.23 L200,43.01 L202.2,41.21 L204.4,45.36 L206.6,48.18 L208.8,46.73 L211,50.36 L213.2,53.84 L215.4,55.64 L217.6,60.41 L219.8,65.24 L222,68.92 L224.2,73.72 L226.4,76.63 L228.6,79.55 L230.8,82.18 L233,85.31 L235.2,88.26 L237.4,89.74 L239.6,91.72 L241.8,92.67 L244,95.44 L246.2,96.7 L248.4,98.45 L250.6,99.76 L252.8,100.66 L255,101.08 L257.2,101.46 L259.4,102.31 L261.6,102.94 L263.8,103.41 L266,103.99 L268.2,103.75 L270.4,104.44 L272.6,104.53 L274.8,104.01 L277,104.35 L279.2,104.47 L281.4,104.3 L283.6,104.5 L285.8,104.74 L288,104.41 L290.2,104.65 L292.4,104.45 L294.6,104.68 L296.8,104.85 L299,104.56" stroke="#2f5f55" stroke-width="0.9" fill="none" clip-path="url(#ci)"/>
<line x1="194.5" y1="28.59" x2="194.5" y2="37.7" stroke="#00008c" stroke-width="1.0" />
<line x1="198.14" y1="28.99" x2="198.14" y2="43.13" stroke="#00008c" stroke-width="1.0" />
<line x1="201.33" y1="33.07" x2="201.33" y2="47.1" stroke="#00008c" stroke-width="1.0" />
<line x1="203.99" y1="38.54" x2="203.99" y2="50.82" stroke="#00008c" stroke-width="1.0" />
<line x1="206.73" y1="40.87" x2="206.73" y2="52.18" stroke="#00008c" stroke-width="1.0" />
<line x1="209.53" y1="42.37" x2="209.53" y2="52.88" stroke="#00008c" stroke-width="1.0" />
<line x1="213.65" y1="50.64" x2="213.65" y2="58.23" stroke="#00008c" stroke-width="1.0" />
<line x1="217.81" y1="55.04" x2="217.81" y2="64.48" stroke="#00008c" stroke-width="1.0" />
<line x1="220.87" y1="63.22" x2="220.87" y2="68.69" stroke="#00008c" stroke-width="1.0" />
<line x1="223.97" y1="70.69" x2="223.97" y2="76.42" stroke="#00008c" stroke-width="1.0" />
<line x1="227.5" y1="75.87" x2="227.5" y2="82.36" stroke="#00008c" stroke-width="1.0" />
<line x1="230.97" y1="80.1" x2="230.97" y2="84.34" stroke="#00008c" stroke-width="1.0" />
<line x1="233.9" y1="83.71" x2="233.9" y2="89.42" stroke="#00008c" stroke-width="1.0" />
<line x1="237" y1="86.54" x2="237" y2="92.36" stroke="#00008c" stroke-width="1.0" />
<line x1="240.08" y1="88.78" x2="240.08" y2="95.57" stroke="#00008c" stroke-width="1.0" />
<line x1="243.07" y1="91.17" x2="243.07" y2="97.27" stroke="#00008c" stroke-width="1.0" />
<line x1="247.07" y1="96.42" x2="247.07" y2="100.37" stroke="#00008c" stroke-width="1.0" />
<line x1="251.24" y1="97.02" x2="251.24" y2="101.49" stroke="#00008c" stroke-width="1.0" />
<line x1="255.05" y1="98.33" x2="255.05" y2="103.09" stroke="#00008c" stroke-width="1.0" />
<line x1="257.72" y1="99.48" x2="257.72" y2="105.33" stroke="#00008c" stroke-width="1.0" />
<line x1="261.23" y1="101.93" x2="261.23" y2="104.79" stroke="#00008c" stroke-width="1.0" />
<line x1="264.95" y1="101.79" x2="264.95" y2="105.71" stroke="#00008c" stroke-width="1.0" />
<line x1="268.28" y1="101.56" x2="268.28" y2="106.93" stroke="#00008c" stroke-width="1.0" />
<line x1="271.63" y1="103.36" x2="271.63" y2="105.36" stroke="#00008c" stroke-width="1.0" />
<line x1="275.36" y1="101.94" x2="275.36" y2="106.91" stroke="#00008c" stroke-width="1.0" />
<line x1="279.27" y1="103.1" x2="279.27" y2="105.64" stroke="#00008c" stroke-width="1.0" />
<circle cx="191.8" cy="99.5" r="1.5" fill="#1f6fff" stroke="none" stroke-width="0"/>
<rect x="182.6" y="8.6" width="138.5" height="96.2" fill="none" stroke="#000" stroke-width="1.0"/>
<line x1="217.2" y1="104.8" x2="217.2" y2="101.8" stroke="#000" stroke-width="1" />
<line x1="217.2" y1="8.6" x2="217.2" y2="11.6" stroke="#000" stroke-width="1" />
<line x1="251.6" y1="104.8" x2="251.6" y2="101.8" stroke="#000" stroke-width="1" />
<line x1="251.6" y1="8.6" x2="251.6" y2="11.6" stroke="#000" stroke-width="1" />
<line x1="286" y1="104.8" x2="286" y2="101.8" stroke="#000" stroke-width="1" />
<line x1="286" y1="8.6" x2="286" y2="11.6" stroke="#000" stroke-width="1" />
<line x1="189.68" y1="104.8" x2="189.68" y2="103" stroke="#000" stroke-width="1" />
<line x1="189.68" y1="8.6" x2="189.68" y2="10.4" stroke="#000" stroke-width="1" />
<line x1="196.56" y1="104.8" x2="196.56" y2="103" stroke="#000" stroke-width="1" />
<line x1="196.56" y1="8.6" x2="196.56" y2="10.4" stroke="#000" stroke-width="1" />
<line x1="203.44" y1="104.8" x2="203.44" y2="103" stroke="#000" stroke-width="1" />
<line x1="203.44" y1="8.6" x2="203.44" y2="10.4" stroke="#000" stroke-width="1" />
<line x1="210.32" y1="104.8" x2="210.32" y2="103" stroke="#000" stroke-width="1" />
<line x1="210.32" y1="8.6" x2="210.32" y2="10.4" stroke="#000" stroke-width="1" />
<line x1="224.08" y1="104.8" x2="224.08" y2="103" stroke="#000" stroke-width="1" />
<line x1="224.08" y1="8.6" x2="224.08" y2="10.4" stroke="#000" stroke-width="1" />
<line x1="230.96" y1="104.8" x2="230.96" y2="103" stroke="#000" stroke-width="1" />
<line x1="230.96" y1="8.6" x2="230.96" y2="10.4" stroke="#000" stroke-width="1" />
<line x1="237.84" y1="104.8" x2="237.84" y2="103" stroke="#000" stroke-width="1" />
<line x1="237.84" y1="8.6" x2="237.84" y2="10.4" stroke="#000" stroke-width="1" />
<line x1="244.72" y1="104.8" x2="244.72" y2="103" stroke="#000" stroke-width="1" />
<line x1="244.72" y1="8.6" x2="244.72" y2="10.4" stroke="#000" stroke-width="1" />
<line x1="258.48" y1="104.8" x2="258.48" y2="103" stroke="#000" stroke-width="1" />
<line x1="258.48" y1="8.6" x2="258.48" y2="10.4" stroke="#000" stroke-width="1" />
<line x1="265.36" y1="104.8" x2="265.36" y2="103" stroke="#000" stroke-width="1" />
<line x1="265.36" y1="8.6" x2="265.36" y2="10.4" stroke="#000" stroke-width="1" />
<line x1="272.24" y1="104.8" x2="272.24" y2="103" stroke="#000" stroke-width="1" />
<line x1="272.24" y1="8.6" x2="272.24" y2="10.4" stroke="#000" stroke-width="1" />
<line x1="279.12" y1="104.8" x2="279.12" y2="103" stroke="#000" stroke-width="1" />
<line x1="279.12" y1="8.6" x2="279.12" y2="10.4" stroke="#000" stroke-width="1" />
<line x1="292.88" y1="104.8" x2="292.88" y2="103" stroke="#000" stroke-width="1" />
<line x1="292.88" y1="8.6" x2="292.88" y2="10.4" stroke="#000" stroke-width="1" />
<line x1="299.76" y1="104.8" x2="299.76" y2="103" stroke="#000" stroke-width="1" />
<line x1="299.76" y1="8.6" x2="299.76" y2="10.4" stroke="#000" stroke-width="1" />
<line x1="306.64" y1="104.8" x2="306.64" y2="103" stroke="#000" stroke-width="1" />
<line x1="306.64" y1="8.6" x2="306.64" y2="10.4" stroke="#000" stroke-width="1" />
<line x1="313.52" y1="104.8" x2="313.52" y2="103" stroke="#000" stroke-width="1" />
<line x1="313.52" y1="8.6" x2="313.52" y2="10.4" stroke="#000" stroke-width="1" />
<line x1="182.6" y1="40.1" x2="185.6" y2="40.1" stroke="#000" stroke-width="1" />
<line x1="321.1" y1="40.1" x2="318.1" y2="40.1" stroke="#000" stroke-width="1" />
<line x1="182.6" y1="73.2" x2="185.6" y2="73.2" stroke="#000" stroke-width="1" />
<line x1="321.1" y1="73.2" x2="318.1" y2="73.2" stroke="#000" stroke-width="1" />
<line x1="182.6" y1="15.22" x2="184.4" y2="15.22" stroke="#000" stroke-width="1" />
<line x1="321.1" y1="15.22" x2="319.3" y2="15.22" stroke="#000" stroke-width="1" />
<line x1="182.6" y1="21.84" x2="184.4" y2="21.84" stroke="#000" stroke-width="1" />
<line x1="321.1" y1="21.84" x2="319.3" y2="21.84" stroke="#000" stroke-width="1" />
<line x1="182.6" y1="28.46" x2="184.4" y2="28.46" stroke="#000" stroke-width="1" />
<line x1="321.1" y1="28.46" x2="319.3" y2="28.46" stroke="#000" stroke-width="1" />
<line x1="182.6" y1="35.08" x2="184.4" y2="35.08" stroke="#000" stroke-width="1" />
<line x1="321.1" y1="35.08" x2="319.3" y2="35.08" stroke="#000" stroke-width="1" />
<line x1="182.6" y1="48.32" x2="184.4" y2="48.32" stroke="#000" stroke-width="1" />
<line x1="321.1" y1="48.32" x2="319.3" y2="48.32" stroke="#000" stroke-width="1" />
<line x1="182.6" y1="54.94" x2="184.4" y2="54.94" stroke="#000" stroke-width="1" />
<line x1="321.1" y1="54.94" x2="319.3" y2="54.94" stroke="#000" stroke-width="1" />
<line x1="182.6" y1="61.56" x2="184.4" y2="61.56" stroke="#000" stroke-width="1" />
<line x1="321.1" y1="61.56" x2="319.3" y2="61.56" stroke="#000" stroke-width="1" />
<line x1="182.6" y1="68.18" x2="184.4" y2="68.18" stroke="#000" stroke-width="1" />
<line x1="321.1" y1="68.18" x2="319.3" y2="68.18" stroke="#000" stroke-width="1" />
<line x1="182.6" y1="81.42" x2="184.4" y2="81.42" stroke="#000" stroke-width="1" />
<line x1="321.1" y1="81.42" x2="319.3" y2="81.42" stroke="#000" stroke-width="1" />
<line x1="182.6" y1="88.04" x2="184.4" y2="88.04" stroke="#000" stroke-width="1" />
<line x1="321.1" y1="88.04" x2="319.3" y2="88.04" stroke="#000" stroke-width="1" />
<line x1="182.6" y1="94.66" x2="184.4" y2="94.66" stroke="#000" stroke-width="1" />
<line x1="321.1" y1="94.66" x2="319.3" y2="94.66" stroke="#000" stroke-width="1" />
<line x1="182.6" y1="101.28" x2="184.4" y2="101.28" stroke="#000" stroke-width="1" />
<line x1="321.1" y1="101.28" x2="319.3" y2="101.28" stroke="#000" stroke-width="1" />
<text x="180.2" y="14.2" font-size="8.2" text-anchor="end" >300</text>
<text x="180.2" y="43.8" font-size="8.2" text-anchor="end" >200</text>
<text x="180.2" y="75.8" font-size="8.2" text-anchor="end" >100</text>
<text x="180.2" y="106" font-size="8.2" text-anchor="end" >0</text>
<text x="182.8" y="118.6" font-size="8.2" text-anchor="middle" >-1</text>
<text x="217.2" y="118.6" font-size="8.2" text-anchor="middle" >0</text>
<text x="251.6" y="118.6" font-size="8.2" text-anchor="middle" >1</text>
<text x="286" y="118.6" font-size="8.2" text-anchor="middle" >2</text>
<text x="320.4" y="118.6" font-size="8.2" text-anchor="middle" >3</text>
<text x="250.6" y="129" font-size="8.2" text-anchor="middle" >Log(F<tspan font-size="5" dy="1.5">p</tspan><tspan dy="-1.5">)</tspan></text>
<path d="M348.53,159.5h9.17v3h-9.17zM357.7,157.5h9.17v5h-9.17zM366.87,154.2h9.17v6.4h-9.17zM376.04,148.9h9.17v10.6h-9.17zM385.21,145h9.17v12h-9.17zM394.38,135.2h9.17v28.8h-9.17zM403.55,139.8h9.17v13h-9.17zM412.72,113.6h9.17v25.6h-9.17zM421.89,110.3h9.17v23.4h-9.17zM431.06,74.4h9.17v32h-9.17zM440.23,67.7h9.17v29.2h-9.17zM449.4,59.8h9.17v24.4h-9.17zM458.57,59.2h9.17v31.6h-9.17zM467.74,58.8h9.17v26.4h-9.17zM476.91,73.9h9.17v34.4h-9.17zM486.08,80.1h9.17v22h-9.17zM495.25,105h9.17v18h-9.17zM504.42,135h9.17v12h-9.17zM513.59,144.5h9.17v9h-9.17zM522.75,151h9.17v6h-9.17zM531.93,154.5h9.17v5h-9.17zM541.1,157h9.17v4h-9.17zM550.27,158.5h9.17v3h-9.17zM559.44,159.5h9.17v3h-9.17zM568.61,160h9.17v3h-9.17z" fill="#f9df00" stroke="none" clip-path="url(#cb)" />
<path d="M348.53,161.5h9.17v2h-9.17zM357.7,161h9.17v2h-9.17zM366.87,160h9.17v3h-9.17zM376.04,159h9.17v4h-9.17zM385.21,157.5h9.17v5h-9.17zM394.38,155h9.17v6h-9.17zM403.55,151.5h9.17v8h-9.17zM412.72,150.7h9.17v10h-9.17zM421.89,146.8h9.17v12h-9.17zM431.06,127.2h9.17v16h-9.17zM440.23,123.2h9.17v18h-9.17zM449.4,120.3h9.17v18h-9.17zM458.57,113.4h9.17v20h-9.17zM467.74,110.5h9.17v20h-9.17zM476.91,117.4h9.17v18h-9.17zM486.08,117.4h9.17v18h-9.17zM495.25,130h9.17v16h-9.17zM504.42,138h9.17v14h-9.17zM513.59,144h9.17v12h-9.17zM522.75,150h9.17v10h-9.17zM531.93,153h9.17v8h-9.17zM541.1,156h9.17v6h-9.17zM550.27,157h9.17v6h-9.17zM559.44,159h9.17v4h-9.17zM568.61,160h9.17v4h-9.17z" fill="url(#hc)" stroke="none" clip-path="url(#cb)" />
<line x1="328" y1="162.6" x2="348.53" y2="162.6" stroke="#1f6fff" stroke-width="2" />
<path d="M348.53,162.6L348.53,162.5L357.7,162.5L357.7,162L366.87,162L366.87,161.5L376.04,161.5L376.04,161L385.21,161L385.21,160L394.38,160L394.38,158L403.55,158L403.55,155.5L412.72,155.5L412.72,155.7L421.89,155.7L421.89,152.8L431.06,152.8L431.06,135.2L440.23,135.2L440.23,132.2L449.4,132.2L449.4,129.3L458.57,129.3L458.57,123.4L467.74,123.4L467.74,120.5L476.91,120.5L476.91,126.4L486.08,126.4L486.08,126.4L495.25,126.4L495.25,138L504.42,138L504.42,145L513.59,145L513.59,150L522.75,150L522.75,155L531.92,155L531.93,157L541.1,157L541.1,159L550.26,159L550.27,160L559.44,160L559.44,161L568.61,161L568.61,162L577.77,162" stroke="#1f6fff" stroke-width="1.6" fill="none" clip-path="url(#cb)" stroke-linejoin="miter"/>
<line x1="577.78" y1="162.6" x2="608" y2="162.6" stroke="#1f6fff" stroke-width="2" />
<rect x="328" y="159.8" width="20.53" height="2.6" fill="#f9df00" />
<line x1="328" y1="161.2" x2="348.53" y2="161.2" stroke="#1a8c64" stroke-width="1.3" />
<path d="M348.53,161.2L348.53,161L357.7,161L357.7,160L366.87,160L366.87,157.4L376.04,157.4L376.04,154.2L385.21,154.2L385.21,151L394.38,151L394.38,149.6L403.55,149.6L403.55,146.3L412.72,146.3L412.72,126.4L421.89,126.4L421.89,122L431.06,122L431.06,90.4L440.23,90.4L440.23,82.3L449.4,82.3L449.4,72L458.57,72L458.57,75L467.74,75L467.74,72L476.91,72L476.91,91.1L486.08,91.1L486.08,91.1L495.25,91.1L495.25,114L504.42,114L504.42,141L513.59,141L513.59,149L522.75,149L522.75,154L531.92,154L531.93,157L541.1,157L541.1,159L550.26,159L550.27,160L559.44,160L559.44,161L568.61,161L568.61,161.5L577.77,161.5" stroke="#1a8c64" stroke-width="1.6" fill="none" clip-path="url(#cb)" stroke-linejoin="miter"/>
<line x1="362.28" y1="158.7" x2="362.28" y2="162.7" stroke="#ff2200" stroke-width="1.1" />
<line x1="358.88" y1="158.7" x2="365.68" y2="158.7" stroke="#ff2200" stroke-width="1.1" />
<line x1="358.88" y1="162.7" x2="365.68" y2="162.7" stroke="#ff2200" stroke-width="1.1" />
<line x1="357.7" y1="160.7" x2="366.87" y2="160.7" stroke="#ff2200" stroke-width="1.1" />
<line x1="357.7" y1="158.1" x2="357.7" y2="163.3" stroke="#ff2200" stroke-width="1.1" />
<line x1="366.87" y1="158.1" x2="366.87" y2="163.3" stroke="#ff2200" stroke-width="1.1" />
<circle cx="362.28" cy="160.7" r="3.3" fill="#ff2200" stroke="none" stroke-width="0"/>
<line x1="371.45" y1="158.7" x2="371.45" y2="162.7" stroke="#ff2200" stroke-width="1.1" />
<line x1="368.05" y1="158.7" x2="374.85" y2="158.7" stroke="#ff2200" stroke-width="1.1" />
<line x1="368.05" y1="162.7" x2="374.85" y2="162.7" stroke="#ff2200" stroke-width="1.1" />
<line x1="366.87" y1="160.7" x2="376.04" y2="160.7" stroke="#ff2200" stroke-width="1.1" />
<line x1="366.87" y1="158.1" x2="366.87" y2="163.3" stroke="#ff2200" stroke-width="1.1" />
<line x1="376.04" y1="158.1" x2="376.04" y2="163.3" stroke="#ff2200" stroke-width="1.1" />
<circle cx="371.45" cy="160.7" r="3.3" fill="#ff2200" stroke="none" stroke-width="0"/>
<line x1="380.62" y1="154.78" x2="380.62" y2="160.02" stroke="#ff2200" stroke-width="1.1" />
<line x1="377.22" y1="154.78" x2="384.02" y2="154.78" stroke="#ff2200" stroke-width="1.1" />
<line x1="377.22" y1="160.02" x2="384.02" y2="160.02" stroke="#ff2200" stroke-width="1.1" />
<line x1="376.04" y1="157.4" x2="385.2" y2="157.4" stroke="#ff2200" stroke-width="1.1" />
<line x1="376.04" y1="154.8" x2="376.04" y2="160" stroke="#ff2200" stroke-width="1.1" />
<line x1="385.2" y1="154.8" x2="385.2" y2="160" stroke="#ff2200" stroke-width="1.1" />
<circle cx="380.62" cy="157.4" r="3.3" fill="#ff2200" stroke="none" stroke-width="0"/>
<line x1="389.79" y1="150.08" x2="389.79" y2="156.92" stroke="#ff2200" stroke-width="1.1" />
<line x1="386.39" y1="150.08" x2="393.19" y2="150.08" stroke="#ff2200" stroke-width="1.1" />
<line x1="386.39" y1="156.92" x2="393.19" y2="156.92" stroke="#ff2200" stroke-width="1.1" />
<line x1="385.21" y1="153.5" x2="394.38" y2="153.5" stroke="#ff2200" stroke-width="1.1" />
<line x1="385.21" y1="150.9" x2="385.21" y2="156.1" stroke="#ff2200" stroke-width="1.1" />
<line x1="394.38" y1="150.9" x2="394.38" y2="156.1" stroke="#ff2200" stroke-width="1.1" />
<circle cx="389.79" cy="153.5" r="3.3" fill="#ff2200" stroke="none" stroke-width="0"/>
<line x1="398.96" y1="138.83" x2="398.96" y2="148.57" stroke="#ff2200" stroke-width="1.1" />
<line x1="395.56" y1="138.83" x2="402.36" y2="138.83" stroke="#ff2200" stroke-width="1.1" />
<line x1="395.56" y1="148.57" x2="402.36" y2="148.57" stroke="#ff2200" stroke-width="1.1" />
<line x1="394.38" y1="143.7" x2="403.55" y2="143.7" stroke="#ff2200" stroke-width="1.1" />
<line x1="394.38" y1="141.1" x2="394.38" y2="146.3" stroke="#ff2200" stroke-width="1.1" />
<line x1="403.55" y1="141.1" x2="403.55" y2="146.3" stroke="#ff2200" stroke-width="1.1" />
<circle cx="398.96" cy="143.7" r="3.3" fill="#ff2200" stroke="none" stroke-width="0"/>
<line x1="408.13" y1="125.83" x2="408.13" y2="138.17" stroke="#ff2200" stroke-width="1.1" />
<line x1="404.73" y1="125.83" x2="411.53" y2="125.83" stroke="#ff2200" stroke-width="1.1" />
<line x1="404.73" y1="138.17" x2="411.53" y2="138.17" stroke="#ff2200" stroke-width="1.1" />
<line x1="403.55" y1="132" x2="412.72" y2="132" stroke="#ff2200" stroke-width="1.1" />
<line x1="403.55" y1="129.4" x2="403.55" y2="134.6" stroke="#ff2200" stroke-width="1.1" />
<line x1="412.72" y1="129.4" x2="412.72" y2="134.6" stroke="#ff2200" stroke-width="1.1" />
<circle cx="408.13" cy="132" r="3.3" fill="#ff2200" stroke="none" stroke-width="0"/>
<line x1="417.3" y1="116.1" x2="417.3" y2="130.1" stroke="#ff2200" stroke-width="1.1" />
<line x1="413.9" y1="116.1" x2="420.7" y2="116.1" stroke="#ff2200" stroke-width="1.1" />
<line x1="413.9" y1="130.1" x2="420.7" y2="130.1" stroke="#ff2200" stroke-width="1.1" />
<line x1="412.72" y1="123.1" x2="421.89" y2="123.1" stroke="#ff2200" stroke-width="1.1" />
<line x1="412.72" y1="120.5" x2="412.72" y2="125.7" stroke="#ff2200" stroke-width="1.1" />
<line x1="421.89" y1="120.5" x2="421.89" y2="125.7" stroke="#ff2200" stroke-width="1.1" />
<circle cx="417.3" cy="123.1" r="3.3" fill="#ff2200" stroke="none" stroke-width="0"/>
<line x1="426.47" y1="110.02" x2="426.47" y2="124.98" stroke="#ff2200" stroke-width="1.1" />
<line x1="423.07" y1="110.02" x2="429.87" y2="110.02" stroke="#ff2200" stroke-width="1.1" />
<line x1="423.07" y1="124.98" x2="429.87" y2="124.98" stroke="#ff2200" stroke-width="1.1" />
<line x1="421.89" y1="117.5" x2="431.06" y2="117.5" stroke="#ff2200" stroke-width="1.1" />
<line x1="421.89" y1="114.9" x2="421.89" y2="120.1" stroke="#ff2200" stroke-width="1.1" />
<line x1="431.06" y1="114.9" x2="431.06" y2="120.1" stroke="#ff2200" stroke-width="1.1" />
<circle cx="426.47" cy="117.5" r="3.3" fill="#ff2200" stroke="none" stroke-width="0"/>
<line x1="435.64" y1="100.1" x2="435.64" y2="116.5" stroke="#ff2200" stroke-width="1.1" />
<line x1="432.24" y1="100.1" x2="439.04" y2="100.1" stroke="#ff2200" stroke-width="1.1" />
<line x1="432.24" y1="116.5" x2="439.04" y2="116.5" stroke="#ff2200" stroke-width="1.1" />
<line x1="431.06" y1="108.3" x2="440.23" y2="108.3" stroke="#ff2200" stroke-width="1.1" />
<line x1="431.06" y1="105.7" x2="431.06" y2="110.9" stroke="#ff2200" stroke-width="1.1" />
<line x1="440.23" y1="105.7" x2="440.23" y2="110.9" stroke="#ff2200" stroke-width="1.1" />
<circle cx="435.64" cy="108.3" r="3.3" fill="#ff2200" stroke="none" stroke-width="0"/>
<line x1="444.81" y1="80.95" x2="444.81" y2="99.85" stroke="#ff2200" stroke-width="1.1" />
<line x1="441.41" y1="80.95" x2="448.21" y2="80.95" stroke="#ff2200" stroke-width="1.1" />
<line x1="441.41" y1="99.85" x2="448.21" y2="99.85" stroke="#ff2200" stroke-width="1.1" />
<line x1="440.23" y1="90.4" x2="449.4" y2="90.4" stroke="#ff2200" stroke-width="1.1" />
<line x1="440.23" y1="87.8" x2="440.23" y2="93" stroke="#ff2200" stroke-width="1.1" />
<line x1="449.4" y1="87.8" x2="449.4" y2="93" stroke="#ff2200" stroke-width="1.1" />
<circle cx="444.81" cy="90.4" r="3.3" fill="#ff2200" stroke="none" stroke-width="0"/>
<line x1="453.98" y1="59.94" x2="453.98" y2="81.26" stroke="#ff2200" stroke-width="1.1" />
<line x1="450.58" y1="59.94" x2="457.38" y2="59.94" stroke="#ff2200" stroke-width="1.1" />
<line x1="450.58" y1="81.26" x2="457.38" y2="81.26" stroke="#ff2200" stroke-width="1.1" />
<line x1="449.4" y1="70.6" x2="458.56" y2="70.6" stroke="#ff2200" stroke-width="1.1" />
<line x1="449.4" y1="68" x2="449.4" y2="73.2" stroke="#ff2200" stroke-width="1.1" />
<line x1="458.56" y1="68" x2="458.56" y2="73.2" stroke="#ff2200" stroke-width="1.1" />
<circle cx="453.98" cy="70.6" r="3.3" fill="#ff2200" stroke="none" stroke-width="0"/>
<line x1="463.15" y1="61.74" x2="463.15" y2="82.86" stroke="#ff2200" stroke-width="1.1" />
<line x1="459.75" y1="61.74" x2="466.55" y2="61.74" stroke="#ff2200" stroke-width="1.1" />
<line x1="459.75" y1="82.86" x2="466.55" y2="82.86" stroke="#ff2200" stroke-width="1.1" />
<line x1="458.57" y1="72.3" x2="467.74" y2="72.3" stroke="#ff2200" stroke-width="1.1" />
<line x1="458.57" y1="69.7" x2="458.57" y2="74.9" stroke="#ff2200" stroke-width="1.1" />
<line x1="467.74" y1="69.7" x2="467.74" y2="74.9" stroke="#ff2200" stroke-width="1.1" />
<circle cx="463.15" cy="72.3" r="3.3" fill="#ff2200" stroke="none" stroke-width="0"/>
<line x1="472.32" y1="75" x2="472.32" y2="94.6" stroke="#ff2200" stroke-width="1.1" />
<line x1="468.92" y1="75" x2="475.72" y2="75" stroke="#ff2200" stroke-width="1.1" />
<line x1="468.92" y1="94.6" x2="475.72" y2="94.6" stroke="#ff2200" stroke-width="1.1" />
<line x1="467.74" y1="84.8" x2="476.91" y2="84.8" stroke="#ff2200" stroke-width="1.1" />
<line x1="467.74" y1="82.2" x2="467.74" y2="87.4" stroke="#ff2200" stroke-width="1.1" />
<line x1="476.91" y1="82.2" x2="476.91" y2="87.4" stroke="#ff2200" stroke-width="1.1" />
<circle cx="472.32" cy="84.8" r="3.3" fill="#ff2200" stroke="none" stroke-width="0"/>
<line x1="481.49" y1="82.55" x2="481.49" y2="101.25" stroke="#ff2200" stroke-width="1.1" />
<line x1="478.09" y1="82.55" x2="484.89" y2="82.55" stroke="#ff2200" stroke-width="1.1" />
<line x1="478.09" y1="101.25" x2="484.89" y2="101.25" stroke="#ff2200" stroke-width="1.1" />
<line x1="476.91" y1="91.9" x2="486.07" y2="91.9" stroke="#ff2200" stroke-width="1.1" />
<line x1="476.91" y1="89.3" x2="476.91" y2="94.5" stroke="#ff2200" stroke-width="1.1" />
<line x1="486.07" y1="89.3" x2="486.07" y2="94.5" stroke="#ff2200" stroke-width="1.1" />
<circle cx="481.49" cy="91.9" r="3.3" fill="#ff2200" stroke="none" stroke-width="0"/>
<line x1="490.66" y1="101.93" x2="490.66" y2="118.07" stroke="#ff2200" stroke-width="1.1" />
<line x1="487.26" y1="101.93" x2="494.06" y2="101.93" stroke="#ff2200" stroke-width="1.1" />
<line x1="487.26" y1="118.07" x2="494.06" y2="118.07" stroke="#ff2200" stroke-width="1.1" />
<line x1="486.08" y1="110" x2="495.25" y2="110" stroke="#ff2200" stroke-width="1.1" />
<line x1="486.08" y1="107.4" x2="486.08" y2="112.6" stroke="#ff2200" stroke-width="1.1" />
<line x1="495.25" y1="107.4" x2="495.25" y2="112.6" stroke="#ff2200" stroke-width="1.1" />
<circle cx="490.66" cy="110" r="3.3" fill="#ff2200" stroke="none" stroke-width="0"/>
<line x1="499.83" y1="125.06" x2="499.83" y2="137.54" stroke="#ff2200" stroke-width="1.1" />
<line x1="496.43" y1="125.06" x2="503.23" y2="125.06" stroke="#ff2200" stroke-width="1.1" />
<line x1="496.43" y1="137.54" x2="503.23" y2="137.54" stroke="#ff2200" stroke-width="1.1" />
<line x1="495.25" y1="131.3" x2="504.42" y2="131.3" stroke="#ff2200" stroke-width="1.1" />
<line x1="495.25" y1="128.7" x2="495.25" y2="133.9" stroke="#ff2200" stroke-width="1.1" />
<line x1="504.42" y1="128.7" x2="504.42" y2="133.9" stroke="#ff2200" stroke-width="1.1" />
<circle cx="499.83" cy="131.3" r="3.3" fill="#ff2200" stroke="none" stroke-width="0"/>
<line x1="509" y1="127.15" x2="509" y2="139.25" stroke="#ff2200" stroke-width="1.1" />
<line x1="505.6" y1="127.15" x2="512.4" y2="127.15" stroke="#ff2200" stroke-width="1.1" />
<line x1="505.6" y1="139.25" x2="512.4" y2="139.25" stroke="#ff2200" stroke-width="1.1" />
<line x1="504.42" y1="133.2" x2="513.59" y2="133.2" stroke="#ff2200" stroke-width="1.1" />
<line x1="504.42" y1="130.6" x2="504.42" y2="135.8" stroke="#ff2200" stroke-width="1.1" />
<line x1="513.59" y1="130.6" x2="513.59" y2="135.8" stroke="#ff2200" stroke-width="1.1" />
<circle cx="509" cy="133.2" r="3.3" fill="#ff2200" stroke="none" stroke-width="0"/>
<line x1="518.17" y1="135.58" x2="518.17" y2="146.02" stroke="#ff2200" stroke-width="1.1" />
<line x1="514.77" y1="135.58" x2="521.57" y2="135.58" stroke="#ff2200" stroke-width="1.1" />
<line x1="514.77" y1="146.02" x2="521.57" y2="146.02" stroke="#ff2200" stroke-width="1.1" />
<line x1="513.59" y1="140.8" x2="522.76" y2="140.8" stroke="#ff2200" stroke-width="1.1" />
<line x1="513.59" y1="138.2" x2="513.59" y2="143.4" stroke="#ff2200" stroke-width="1.1" />
<line x1="522.76" y1="138.2" x2="522.76" y2="143.4" stroke="#ff2200" stroke-width="1.1" />
<circle cx="518.17" cy="140.8" r="3.3" fill="#ff2200" stroke="none" stroke-width="0"/>
<line x1="527.34" y1="142.79" x2="527.34" y2="151.61" stroke="#ff2200" stroke-width="1.1" />
<line x1="523.94" y1="142.79" x2="530.74" y2="142.79" stroke="#ff2200" stroke-width="1.1" />
<line x1="523.94" y1="151.61" x2="530.74" y2="151.61" stroke="#ff2200" stroke-width="1.1" />
<line x1="522.75" y1="147.2" x2="531.93" y2="147.2" stroke="#ff2200" stroke-width="1.1" />
<line x1="522.75" y1="144.6" x2="522.75" y2="149.8" stroke="#ff2200" stroke-width="1.1" />
<line x1="531.93" y1="144.6" x2="531.93" y2="149.8" stroke="#ff2200" stroke-width="1.1" />
<circle cx="527.34" cy="147.2" r="3.3" fill="#ff2200" stroke="none" stroke-width="0"/>
<line x1="536.51" y1="143.93" x2="536.51" y2="152.47" stroke="#ff2200" stroke-width="1.1" />
<line x1="533.11" y1="143.93" x2="539.91" y2="143.93" stroke="#ff2200" stroke-width="1.1" />
<line x1="533.11" y1="152.47" x2="539.91" y2="152.47" stroke="#ff2200" stroke-width="1.1" />
<line x1="531.92" y1="148.2" x2="541.1" y2="148.2" stroke="#ff2200" stroke-width="1.1" />
<line x1="531.92" y1="145.6" x2="531.92" y2="150.8" stroke="#ff2200" stroke-width="1.1" />
<line x1="541.1" y1="145.6" x2="541.1" y2="150.8" stroke="#ff2200" stroke-width="1.1" />
<circle cx="536.51" cy="148.2" r="3.3" fill="#ff2200" stroke="none" stroke-width="0"/>
<line x1="545.68" y1="149.73" x2="545.68" y2="156.67" stroke="#ff2200" stroke-width="1.1" />
<line x1="542.28" y1="149.73" x2="549.08" y2="149.73" stroke="#ff2200" stroke-width="1.1" />
<line x1="542.28" y1="156.67" x2="549.08" y2="156.67" stroke="#ff2200" stroke-width="1.1" />
<line x1="541.1" y1="153.2" x2="550.27" y2="153.2" stroke="#ff2200" stroke-width="1.1" />
<line x1="541.1" y1="150.6" x2="541.1" y2="155.8" stroke="#ff2200" stroke-width="1.1" />
<line x1="550.27" y1="150.6" x2="550.27" y2="155.8" stroke="#ff2200" stroke-width="1.1" />
<circle cx="545.68" cy="153.2" r="3.3" fill="#ff2200" stroke="none" stroke-width="0"/>
<line x1="554.85" y1="157.69" x2="554.85" y2="161.71" stroke="#ff2200" stroke-width="1.1" />
<line x1="551.45" y1="157.69" x2="558.25" y2="157.69" stroke="#ff2200" stroke-width="1.1" />
<line x1="551.45" y1="161.71" x2="558.25" y2="161.71" stroke="#ff2200" stroke-width="1.1" />
<line x1="550.26" y1="159.7" x2="559.44" y2="159.7" stroke="#ff2200" stroke-width="1.1" />
<line x1="550.26" y1="157.1" x2="550.26" y2="162.3" stroke="#ff2200" stroke-width="1.1" />
<line x1="559.44" y1="157.1" x2="559.44" y2="162.3" stroke="#ff2200" stroke-width="1.1" />
<circle cx="554.85" cy="159.7" r="3.3" fill="#ff2200" stroke="none" stroke-width="0"/>
<line x1="564.02" y1="158.9" x2="564.02" y2="162.9" stroke="#ff2200" stroke-width="1.1" />
<line x1="560.62" y1="158.9" x2="567.42" y2="158.9" stroke="#ff2200" stroke-width="1.1" />
<line x1="560.62" y1="162.9" x2="567.42" y2="162.9" stroke="#ff2200" stroke-width="1.1" />
<line x1="559.43" y1="160.9" x2="568.61" y2="160.9" stroke="#ff2200" stroke-width="1.1" />
<line x1="559.43" y1="158.3" x2="559.43" y2="163.5" stroke="#ff2200" stroke-width="1.1" />
<line x1="568.61" y1="158.3" x2="568.61" y2="163.5" stroke="#ff2200" stroke-width="1.1" />
<circle cx="564.02" cy="160.9" r="3.3" fill="#ff2200" stroke="none" stroke-width="0"/>
<line x1="389.79" y1="158.7" x2="389.79" y2="162.7" stroke="#00008c" stroke-width="1.1" />
<line x1="386.59" y1="158.7" x2="392.99" y2="158.7" stroke="#00008c" stroke-width="1.1" />
<line x1="386.59" y1="162.7" x2="392.99" y2="162.7" stroke="#00008c" stroke-width="1.1" />
<line x1="385.21" y1="160.7" x2="394.38" y2="160.7" stroke="#00008c" stroke-width="1.1" />
<line x1="385.21" y1="157.7" x2="385.21" y2="163.7" stroke="#00008c" stroke-width="1.1" />
<line x1="394.38" y1="157.7" x2="394.38" y2="163.7" stroke="#00008c" stroke-width="1.1" />
<rect x="386.79" y="157.7" width="6" height="6" fill="#00008c" shape-rendering="crispEdges"/>
<rect x="385.29" y="156.2" width="9" height="9" fill="none" stroke="#00008c" stroke-width="0.9" stroke-dasharray="1.4,1.2" opacity="0.35"/>
<line x1="398.96" y1="158" x2="398.96" y2="162" stroke="#00008c" stroke-width="1.1" />
<line x1="395.76" y1="158" x2="402.16" y2="158" stroke="#00008c" stroke-width="1.1" />
<line x1="395.76" y1="162" x2="402.16" y2="162" stroke="#00008c" stroke-width="1.1" />
<line x1="394.38" y1="160" x2="403.55" y2="160" stroke="#00008c" stroke-width="1.1" />
<line x1="394.38" y1="157" x2="394.38" y2="163" stroke="#00008c" stroke-width="1.1" />
<line x1="403.55" y1="157" x2="403.55" y2="163" stroke="#00008c" stroke-width="1.1" />
<rect x="395.96" y="157" width="6" height="6" fill="#00008c" shape-rendering="crispEdges"/>
<rect x="394.46" y="155.5" width="9" height="9" fill="none" stroke="#00008c" stroke-width="0.9" stroke-dasharray="1.4,1.2" opacity="0.35"/>
<line x1="408.13" y1="150.08" x2="408.13" y2="156.92" stroke="#00008c" stroke-width="1.1" />
<line x1="404.93" y1="150.08" x2="411.33" y2="150.08" stroke="#00008c" stroke-width="1.1" />
<line x1="404.93" y1="156.92" x2="411.33" y2="156.92" stroke="#00008c" stroke-width="1.1" />
<line x1="403.55" y1="153.5" x2="412.72" y2="153.5" stroke="#00008c" stroke-width="1.1" />
<line x1="403.55" y1="150.5" x2="403.55" y2="156.5" stroke="#00008c" stroke-width="1.1" />
<line x1="412.72" y1="150.5" x2="412.72" y2="156.5" stroke="#00008c" stroke-width="1.1" />
<rect x="405.13" y="150.5" width="6" height="6" fill="#00008c" shape-rendering="crispEdges"/>
<rect x="403.63" y="149" width="9" height="9" fill="none" stroke="#00008c" stroke-width="0.9" stroke-dasharray="1.4,1.2" opacity="0.35"/>
<line x1="417.3" y1="149.26" x2="417.3" y2="156.34" stroke="#00008c" stroke-width="1.1" />
<line x1="414.1" y1="149.26" x2="420.5" y2="149.26" stroke="#00008c" stroke-width="1.1" />
<line x1="414.1" y1="156.34" x2="420.5" y2="156.34" stroke="#00008c" stroke-width="1.1" />
<line x1="412.72" y1="152.8" x2="421.89" y2="152.8" stroke="#00008c" stroke-width="1.1" />
<line x1="412.72" y1="149.8" x2="412.72" y2="155.8" stroke="#00008c" stroke-width="1.1" />
<line x1="421.89" y1="149.8" x2="421.89" y2="155.8" stroke="#00008c" stroke-width="1.1" />
<rect x="414.3" y="149.8" width="6" height="6" fill="#00008c" shape-rendering="crispEdges"/>
<rect x="412.8" y="148.3" width="9" height="9" fill="none" stroke="#00008c" stroke-width="0.9" stroke-dasharray="1.4,1.2" opacity="0.35"/>
<line x1="426.47" y1="147.16" x2="426.47" y2="154.84" stroke="#00008c" stroke-width="1.1" />
<line x1="423.27" y1="147.16" x2="429.67" y2="147.16" stroke="#00008c" stroke-width="1.1" />
<line x1="423.27" y1="154.84" x2="429.67" y2="154.84" stroke="#00008c" stroke-width="1.1" />
<line x1="421.89" y1="151" x2="431.06" y2="151" stroke="#00008c" stroke-width="1.1" />
<line x1="421.89" y1="148" x2="421.89" y2="154" stroke="#00008c" stroke-width="1.1" />
<line x1="431.06" y1="148" x2="431.06" y2="154" stroke="#00008c" stroke-width="1.1" />
<rect x="423.47" y="148" width="6" height="6" fill="#00008c" shape-rendering="crispEdges"/>
<rect x="421.97" y="146.5" width="9" height="9" fill="none" stroke="#00008c" stroke-width="0.9" stroke-dasharray="1.4,1.2" opacity="0.35"/>
<line x1="435.64" y1="137.37" x2="435.64" y2="147.43" stroke="#00008c" stroke-width="1.1" />
<line x1="432.44" y1="137.37" x2="438.84" y2="137.37" stroke="#00008c" stroke-width="1.1" />
<line x1="432.44" y1="147.43" x2="438.84" y2="147.43" stroke="#00008c" stroke-width="1.1" />
<line x1="431.06" y1="142.4" x2="440.23" y2="142.4" stroke="#00008c" stroke-width="1.1" />
<line x1="431.06" y1="139.4" x2="431.06" y2="145.4" stroke="#00008c" stroke-width="1.1" />
<line x1="440.23" y1="139.4" x2="440.23" y2="145.4" stroke="#00008c" stroke-width="1.1" />
<rect x="432.64" y="139.4" width="6" height="6" fill="#00008c" shape-rendering="crispEdges"/>
<rect x="431.14" y="137.9" width="9" height="9" fill="none" stroke="#00008c" stroke-width="0.9" stroke-dasharray="1.4,1.2" opacity="0.35"/>
<line x1="444.81" y1="125.28" x2="444.81" y2="137.72" stroke="#00008c" stroke-width="1.1" />
<line x1="441.61" y1="125.28" x2="448.01" y2="125.28" stroke="#00008c" stroke-width="1.1" />
<line x1="441.61" y1="137.72" x2="448.01" y2="137.72" stroke="#00008c" stroke-width="1.1" />
<line x1="440.23" y1="131.5" x2="449.4" y2="131.5" stroke="#00008c" stroke-width="1.1" />
<line x1="440.23" y1="128.5" x2="440.23" y2="134.5" stroke="#00008c" stroke-width="1.1" />
<line x1="449.4" y1="128.5" x2="449.4" y2="134.5" stroke="#00008c" stroke-width="1.1" />
<rect x="441.81" y="128.5" width="6" height="6" fill="#00008c" shape-rendering="crispEdges"/>
<rect x="440.31" y="127" width="9" height="9" fill="none" stroke="#00008c" stroke-width="0.9" stroke-dasharray="1.4,1.2" opacity="0.35"/>
<line x1="453.98" y1="108.51" x2="453.98" y2="123.69" stroke="#00008c" stroke-width="1.1" />
<line x1="450.78" y1="108.51" x2="457.18" y2="108.51" stroke="#00008c" stroke-width="1.1" />
<line x1="450.78" y1="123.69" x2="457.18" y2="123.69" stroke="#00008c" stroke-width="1.1" />
<line x1="449.4" y1="116.1" x2="458.56" y2="116.1" stroke="#00008c" stroke-width="1.1" />
<line x1="449.4" y1="113.1" x2="449.4" y2="119.1" stroke="#00008c" stroke-width="1.1" />
<line x1="458.56" y1="113.1" x2="458.56" y2="119.1" stroke="#00008c" stroke-width="1.1" />
<rect x="450.98" y="113.1" width="6" height="6" fill="#00008c" shape-rendering="crispEdges"/>
<rect x="449.48" y="111.6" width="9" height="9" fill="none" stroke="#00008c" stroke-width="0.9" stroke-dasharray="1.4,1.2" opacity="0.35"/>
<line x1="463.15" y1="102.14" x2="463.15" y2="118.26" stroke="#00008c" stroke-width="1.1" />
<line x1="459.95" y1="102.14" x2="466.35" y2="102.14" stroke="#00008c" stroke-width="1.1" />
<line x1="459.95" y1="118.26" x2="466.35" y2="118.26" stroke="#00008c" stroke-width="1.1" />
<line x1="458.57" y1="110.2" x2="467.74" y2="110.2" stroke="#00008c" stroke-width="1.1" />
<line x1="458.57" y1="107.2" x2="458.57" y2="113.2" stroke="#00008c" stroke-width="1.1" />
<line x1="467.74" y1="107.2" x2="467.74" y2="113.2" stroke="#00008c" stroke-width="1.1" />
<rect x="460.15" y="107.2" width="6" height="6" fill="#00008c" shape-rendering="crispEdges"/>
<rect x="458.65" y="105.7" width="9" height="9" fill="none" stroke="#00008c" stroke-width="0.9" stroke-dasharray="1.4,1.2" opacity="0.35"/>
<line x1="472.32" y1="125.28" x2="472.32" y2="137.72" stroke="#00008c" stroke-width="1.1" />
<line x1="469.12" y1="125.28" x2="475.52" y2="125.28" stroke="#00008c" stroke-width="1.1" />
<line x1="469.12" y1="137.72" x2="475.52" y2="137.72" stroke="#00008c" stroke-width="1.1" />
<line x1="467.74" y1="131.5" x2="476.91" y2="131.5" stroke="#00008c" stroke-width="1.1" />
<line x1="467.74" y1="128.5" x2="467.74" y2="134.5" stroke="#00008c" stroke-width="1.1" />
<line x1="476.91" y1="128.5" x2="476.91" y2="134.5" stroke="#00008c" stroke-width="1.1" />
<rect x="469.32" y="128.5" width="6" height="6" fill="#00008c" shape-rendering="crispEdges"/>
<rect x="467.82" y="127" width="9" height="9" fill="none" stroke="#00008c" stroke-width="0.9" stroke-dasharray="1.4,1.2" opacity="0.35"/>
<line x1="481.49" y1="125.28" x2="481.49" y2="137.72" stroke="#00008c" stroke-width="1.1" />
<line x1="478.29" y1="125.28" x2="484.69" y2="125.28" stroke="#00008c" stroke-width="1.1" />
<line x1="478.29" y1="137.72" x2="484.69" y2="137.72" stroke="#00008c" stroke-width="1.1" />
<line x1="476.91" y1="131.5" x2="486.07" y2="131.5" stroke="#00008c" stroke-width="1.1" />
<line x1="476.91" y1="128.5" x2="476.91" y2="134.5" stroke="#00008c" stroke-width="1.1" />
<line x1="486.07" y1="128.5" x2="486.07" y2="134.5" stroke="#00008c" stroke-width="1.1" />
<rect x="478.49" y="128.5" width="6" height="6" fill="#00008c" shape-rendering="crispEdges"/>
<rect x="476.99" y="127" width="9" height="9" fill="none" stroke="#00008c" stroke-width="0.9" stroke-dasharray="1.4,1.2" opacity="0.35"/>
<line x1="490.66" y1="130.24" x2="490.66" y2="141.76" stroke="#00008c" stroke-width="1.1" />
<line x1="487.46" y1="130.24" x2="493.86" y2="130.24" stroke="#00008c" stroke-width="1.1" />
<line x1="487.46" y1="141.76" x2="493.86" y2="141.76" stroke="#00008c" stroke-width="1.1" />
<line x1="486.08" y1="136" x2="495.25" y2="136" stroke="#00008c" stroke-width="1.1" />
<line x1="486.08" y1="133" x2="486.08" y2="139" stroke="#00008c" stroke-width="1.1" />
<line x1="495.25" y1="133" x2="495.25" y2="139" stroke="#00008c" stroke-width="1.1" />
<rect x="487.66" y="133" width="6" height="6" fill="#00008c" shape-rendering="crispEdges"/>
<rect x="486.16" y="131.5" width="9" height="9" fill="none" stroke="#00008c" stroke-width="0.9" stroke-dasharray="1.4,1.2" opacity="0.35"/>
<line x1="499.83" y1="143.71" x2="499.83" y2="152.29" stroke="#00008c" stroke-width="1.1" />
<line x1="496.63" y1="143.71" x2="503.03" y2="143.71" stroke="#00008c" stroke-width="1.1" />
<line x1="496.63" y1="152.29" x2="503.03" y2="152.29" stroke="#00008c" stroke-width="1.1" />
<line x1="495.25" y1="148" x2="504.42" y2="148" stroke="#00008c" stroke-width="1.1" />
<line x1="495.25" y1="145" x2="495.25" y2="151" stroke="#00008c" stroke-width="1.1" />
<line x1="504.42" y1="145" x2="504.42" y2="151" stroke="#00008c" stroke-width="1.1" />
<rect x="496.83" y="145" width="6" height="6" fill="#00008c" shape-rendering="crispEdges"/>
<rect x="495.33" y="143.5" width="9" height="9" fill="none" stroke="#00008c" stroke-width="0.9" stroke-dasharray="1.4,1.2" opacity="0.35"/>
<line x1="509" y1="145.08" x2="509" y2="153.32" stroke="#00008c" stroke-width="1.1" />
<line x1="505.8" y1="145.08" x2="512.2" y2="145.08" stroke="#00008c" stroke-width="1.1" />
<line x1="505.8" y1="153.32" x2="512.2" y2="153.32" stroke="#00008c" stroke-width="1.1" />
<line x1="504.42" y1="149.2" x2="513.59" y2="149.2" stroke="#00008c" stroke-width="1.1" />
<line x1="504.42" y1="146.2" x2="504.42" y2="152.2" stroke="#00008c" stroke-width="1.1" />
<line x1="513.59" y1="146.2" x2="513.59" y2="152.2" stroke="#00008c" stroke-width="1.1" />
<rect x="506" y="146.2" width="6" height="6" fill="#00008c" shape-rendering="crispEdges"/>
<rect x="504.5" y="144.7" width="9" height="9" fill="none" stroke="#00008c" stroke-width="0.9" stroke-dasharray="1.4,1.2" opacity="0.35"/>
<line x1="518.17" y1="152.1" x2="518.17" y2="158.3" stroke="#00008c" stroke-width="1.1" />
<line x1="514.97" y1="152.1" x2="521.37" y2="152.1" stroke="#00008c" stroke-width="1.1" />
<line x1="514.97" y1="158.3" x2="521.37" y2="158.3" stroke="#00008c" stroke-width="1.1" />
<line x1="513.59" y1="155.2" x2="522.76" y2="155.2" stroke="#00008c" stroke-width="1.1" />
<line x1="513.59" y1="152.2" x2="513.59" y2="158.2" stroke="#00008c" stroke-width="1.1" />
<line x1="522.76" y1="152.2" x2="522.76" y2="158.2" stroke="#00008c" stroke-width="1.1" />
<rect x="515.17" y="152.2" width="6" height="6" fill="#00008c" shape-rendering="crispEdges"/>
<rect x="513.67" y="150.7" width="9" height="9" fill="none" stroke="#00008c" stroke-width="0.9" stroke-dasharray="1.4,1.2" opacity="0.35"/>
<line x1="527.34" y1="153.31" x2="527.34" y2="159.09" stroke="#00008c" stroke-width="1.1" />
<line x1="524.14" y1="153.31" x2="530.54" y2="153.31" stroke="#00008c" stroke-width="1.1" />
<line x1="524.14" y1="159.09" x2="530.54" y2="159.09" stroke="#00008c" stroke-width="1.1" />
<line x1="522.75" y1="156.2" x2="531.93" y2="156.2" stroke="#00008c" stroke-width="1.1" />
<line x1="522.75" y1="153.2" x2="522.75" y2="159.2" stroke="#00008c" stroke-width="1.1" />
<line x1="531.93" y1="153.2" x2="531.93" y2="159.2" stroke="#00008c" stroke-width="1.1" />
<rect x="524.34" y="153.2" width="6" height="6" fill="#00008c" shape-rendering="crispEdges"/>
<rect x="522.84" y="151.7" width="9" height="9" fill="none" stroke="#00008c" stroke-width="0.9" stroke-dasharray="1.4,1.2" opacity="0.35"/>
<line x1="536.51" y1="154.53" x2="536.51" y2="159.87" stroke="#00008c" stroke-width="1.1" />
<line x1="533.31" y1="154.53" x2="539.71" y2="154.53" stroke="#00008c" stroke-width="1.1" />
<line x1="533.31" y1="159.87" x2="539.71" y2="159.87" stroke="#00008c" stroke-width="1.1" />
<line x1="531.92" y1="157.2" x2="541.1" y2="157.2" stroke="#00008c" stroke-width="1.1" />
<line x1="531.92" y1="154.2" x2="531.92" y2="160.2" stroke="#00008c" stroke-width="1.1" />
<line x1="541.1" y1="154.2" x2="541.1" y2="160.2" stroke="#00008c" stroke-width="1.1" />
<rect x="533.51" y="154.2" width="6" height="6" fill="#00008c" shape-rendering="crispEdges"/>
<rect x="532.01" y="152.7" width="9" height="9" fill="none" stroke="#00008c" stroke-width="0.9" stroke-dasharray="1.4,1.2" opacity="0.35"/>
<line x1="545.68" y1="155.9" x2="545.68" y2="160.7" stroke="#00008c" stroke-width="1.1" />
<line x1="542.48" y1="155.9" x2="548.88" y2="155.9" stroke="#00008c" stroke-width="1.1" />
<line x1="542.48" y1="160.7" x2="548.88" y2="160.7" stroke="#00008c" stroke-width="1.1" />
<line x1="541.1" y1="158.3" x2="550.27" y2="158.3" stroke="#00008c" stroke-width="1.1" />
<line x1="541.1" y1="155.3" x2="541.1" y2="161.3" stroke="#00008c" stroke-width="1.1" />
<line x1="550.27" y1="155.3" x2="550.27" y2="161.3" stroke="#00008c" stroke-width="1.1" />
<rect x="542.68" y="155.3" width="6" height="6" fill="#00008c" shape-rendering="crispEdges"/>
<rect x="541.18" y="153.8" width="9" height="9" fill="none" stroke="#00008c" stroke-width="0.9" stroke-dasharray="1.4,1.2" opacity="0.35"/>
<line x1="554.85" y1="158.3" x2="554.85" y2="162.3" stroke="#00008c" stroke-width="1.1" />
<line x1="551.65" y1="158.3" x2="558.05" y2="158.3" stroke="#00008c" stroke-width="1.1" />
<line x1="551.65" y1="162.3" x2="558.05" y2="162.3" stroke="#00008c" stroke-width="1.1" />
<line x1="550.26" y1="160.3" x2="559.44" y2="160.3" stroke="#00008c" stroke-width="1.1" />
<line x1="550.26" y1="157.3" x2="550.26" y2="163.3" stroke="#00008c" stroke-width="1.1" />
<line x1="559.44" y1="157.3" x2="559.44" y2="163.3" stroke="#00008c" stroke-width="1.1" />
<rect x="551.85" y="157.3" width="6" height="6" fill="#00008c" shape-rendering="crispEdges"/>
<rect x="550.35" y="155.8" width="9" height="9" fill="none" stroke="#00008c" stroke-width="0.9" stroke-dasharray="1.4,1.2" opacity="0.35"/>
<line x1="573.19" y1="158.3" x2="573.19" y2="162.3" stroke="#00008c" stroke-width="1.1" />
<line x1="569.99" y1="158.3" x2="576.39" y2="158.3" stroke="#00008c" stroke-width="1.1" />
<line x1="569.99" y1="162.3" x2="576.39" y2="162.3" stroke="#00008c" stroke-width="1.1" />
<line x1="568.61" y1="160.3" x2="577.78" y2="160.3" stroke="#00008c" stroke-width="1.1" />
<line x1="568.61" y1="157.3" x2="568.61" y2="163.3" stroke="#00008c" stroke-width="1.1" />
<line x1="577.78" y1="157.3" x2="577.78" y2="163.3" stroke="#00008c" stroke-width="1.1" />
<rect x="570.19" y="157.3" width="6" height="6" fill="#00008c" shape-rendering="crispEdges"/>
<rect x="568.69" y="155.8" width="9" height="9" fill="none" stroke="#00008c" stroke-width="0.9" stroke-dasharray="1.4,1.2" opacity="0.35"/>
<text x="355" y="181.9" font-size="11.6" text-anchor="middle" >1.0</text>
<text x="400.05" y="181.9" font-size="11.6" text-anchor="middle" >1.5</text>
<text x="445.1" y="181.9" font-size="11.6" text-anchor="middle" >2.0</text>
<text x="490.15" y="181.9" font-size="11.6" text-anchor="middle" >2.5</text>
<text x="535.2" y="181.9" font-size="11.6" text-anchor="middle" >3.0</text>
<text x="580.25" y="181.9" font-size="11.6" text-anchor="middle" >3.5</text>
<text x="362" y="19.3" font-size="12.8" text-anchor="middle" >(b)</text>
<text x="467.7" y="198" font-size="11.5" text-anchor="middle" >Log(E<tspan font-size="5.6" dy="2.2">peak</tspan><tspan dy="-2.2"> [keV])</tspan></text>
<rect x="86.6" y="364.4" width="4.8" height="4.6" fill="#f9df00" clip-path="url(#cc)"/>
<rect x="96.2" y="364.6" width="4.8" height="4.4" fill="#f9df00" clip-path="url(#cc)"/>
<rect x="105.8" y="365" width="4.8" height="4" fill="#f9df00" clip-path="url(#cc)"/>
<rect x="110.6" y="365" width="4.8" height="3" fill="#f9df00" clip-path="url(#cc)"/>
<rect x="115.4" y="349.6" width="4.8" height="17.9" fill="#f9df00" clip-path="url(#cc)"/>
<rect x="120.2" y="357.5" width="4.8" height="9.5" fill="#f9df00" clip-path="url(#cc)"/>
<rect x="125" y="360.5" width="4.8" height="6.5" fill="#f9df00" clip-path="url(#cc)"/>
<rect x="129.8" y="350.6" width="4.8" height="13.4" fill="#f9df00" clip-path="url(#cc)"/>
<rect x="134.6" y="347.6" width="4.8" height="16.4" fill="#f9df00" clip-path="url(#cc)"/>
<rect x="139.4" y="338.7" width="4.8" height="11.3" fill="#f9df00" clip-path="url(#cc)"/>
<rect x="144.2" y="337.7" width="4.8" height="12.3" fill="#f9df00" clip-path="url(#cc)"/>
<rect x="149" y="329.2" width="4.8" height="27.8" fill="#f9df00" clip-path="url(#cc)"/>
<rect x="153.8" y="334.7" width="4.8" height="13.3" fill="#f9df00" clip-path="url(#cc)"/>
<rect x="158.6" y="313.3" width="4.8" height="23.4" fill="#f9df00" clip-path="url(#cc)"/>
<rect x="163.4" y="304.3" width="4.8" height="22.3" fill="#f9df00" clip-path="url(#cc)"/>
<rect x="168.2" y="305" width="4.8" height="17.7" fill="#f9df00" clip-path="url(#cc)"/>
<rect x="173" y="307" width="4.8" height="14.7" fill="#f9df00" clip-path="url(#cc)"/>
<rect x="177.8" y="296" width="4.8" height="31.6" fill="#f9df00" clip-path="url(#cc)"/>
<rect x="182.6" y="293" width="4.8" height="27.7" fill="#f9df00" clip-path="url(#cc)"/>
<rect x="187.4" y="299.8" width="4.8" height="20.9" fill="#f9df00" clip-path="url(#cc)"/>
<rect x="192.2" y="299" width="4.8" height="17.7" fill="#f9df00" clip-path="url(#cc)"/>
<rect x="197" y="305" width="4.8" height="15" fill="#f9df00" clip-path="url(#cc)"/>
<rect x="201.8" y="314" width="4.8" height="12.6" fill="#f9df00" clip-path="url(#cc)"/>
<rect x="206.6" y="308" width="4.8" height="19" fill="#f9df00" clip-path="url(#cc)"/>
<rect x="211.4" y="309.4" width="4.8" height="18.6" fill="#f9df00" clip-path="url(#cc)"/>
<rect x="216.2" y="304.4" width="4.8" height="25.3" fill="#f9df00" clip-path="url(#cc)"/>
<rect x="221" y="318.8" width="4.8" height="18.9" fill="#f9df00" clip-path="url(#cc)"/>
<rect x="225.8" y="326.2" width="4.8" height="18.8" fill="#f9df00" clip-path="url(#cc)"/>
<rect x="230.6" y="333.2" width="4.8" height="12.4" fill="#f9df00" clip-path="url(#cc)"/>
<rect x="235.4" y="339.2" width="4.8" height="10.4" fill="#f9df00" clip-path="url(#cc)"/>
<rect x="240.2" y="347" width="4.8" height="13" fill="#f9df00" clip-path="url(#cc)"/>
<rect x="245" y="350" width="4.8" height="12" fill="#f9df00" clip-path="url(#cc)"/>
<rect x="249.8" y="357.5" width="4.8" height="4.5" fill="#f9df00" clip-path="url(#cc)"/>
<rect x="254.6" y="355" width="4.8" height="7" fill="#f9df00" clip-path="url(#cc)"/>
<rect x="259.4" y="360" width="4.8" height="7" fill="#f9df00" clip-path="url(#cc)"/>
<rect x="264.2" y="364" width="4.8" height="4" fill="#f9df00" clip-path="url(#cc)"/>
<path d="M67.4,369.4L67.4,369L72.2,369L72.2,369L77,369L77,369L81.8,369L81.8,368L86.6,368L86.6,366.5L91.4,366.5L91.4,368L96.2,368L96.2,366.5L101,366.5L101,368L105.8,368L105.8,367L110.6,367L110.6,366.5L115.4,366.5L115.4,358.5L120.2,358.5L120.2,362.5L125,362.5L125,364L129.8,364L129.8,357.5L134.6,357.5L134.6,356L139.4,356L139.4,344.6L144.2,344.6L144.2,344.1L149,344.1L149,343.6L153.8,343.6L153.8,341L158.6,341L158.6,327L163.4,327L163.4,312.2L168.2,312.2L168.2,314.7L173,314.7L173,314.7L177.8,314.7L177.8,306.8L182.6,306.8L182.6,306.8L187.4,306.8L187.4,318.7L192.2,318.7L192.2,307.8L197,307.8L197,314.7L201.8,314.7L201.8,322.7L206.6,322.7L206.6,317.7L211.4,317.7L211.4,318.7L216.2,318.7L216.2,318.8L221,318.8L221,322.8L225.8,322.8L225.8,336.7L230.6,336.7L230.6,339.7L235.4,339.7L235.4,348.6L240.2,348.6L240.2,354.5L245,354.5L245,357L249.8,357L249.8,359.5L254.6,359.5L254.6,358.5L259.4,358.5L259.4,363.5L264.2,363.5L264.2,366L269,366L269,367.5L273.8,367.5L273.8,368.5L278.6,368.5L278.6,369L283.4,369" stroke="#1a8c64" stroke-width="1.4" fill="none" clip-path="url(#cc)" stroke-linejoin="miter"/>
<path d="M67.4,368.49h4.8v1.01h-4.8zM72.2,368.48h4.8v1.02h-4.8zM77,368.47h4.8v1.02h-4.8zM81.8,368.44h4.8v1.04h-4.8zM86.6,368.4h4.8v1.07h-4.8zM91.4,368.35h4.8v1.11h-4.8zM96.2,368.23h4.8v1.18h-4.8zM101,368.05h4.8v1.31h-4.8zM105.8,367.9h4.8v1.43h-4.8zM110.6,367.6h4.8v1.58h-4.8zM115.4,366.98h4.8v2.23h-4.8zM120.2,366.73h4.8v2.33h-4.8zM125,366h4.8v2.77h-4.8zM129.8,364.75h4.8v3.89h-4.8zM134.6,364.24h4.8v3.98h-4.8zM139.4,362.33h4.8v5.32h-4.8zM144.2,359.39h4.8v7.56h-4.8zM149,358.24h4.8v8.21h-4.8zM153.8,355.41h4.8v11.65h-4.8zM158.6,351.93h4.8v12.63h-4.8zM163.4,349.14h4.8v14.5h-4.8zM168.2,348.74h4.8v15.51h-4.8zM173,347.93h4.8v14.66h-4.8zM177.8,346.09h4.8v18.44h-4.8zM182.6,343.28h4.8v20.37h-4.8zM187.4,340.87h4.8v23.03h-4.8zM192.2,342.5h4.8v20.66h-4.8zM197,341.37h4.8v20.52h-4.8zM201.8,342.17h4.8v16.96h-4.8zM206.6,338.53h4.8v24.8h-4.8zM211.4,342.56h4.8v20.05h-4.8zM216.2,343.61h4.8v20.54h-4.8zM221,342.89h4.8v17.96h-4.8zM225.8,347.7h4.8v16.05h-4.8zM230.6,352.11h4.8v13.66h-4.8zM235.4,353.45h4.8v12.39h-4.8zM240.2,354.26h4.8v12.43h-4.8zM245,359.04h4.8v6.58h-4.8zM249.8,359.79h4.8v7.88h-4.8zM254.6,361.62h4.8v6.59h-4.8zM259.4,363.23h4.8v4.36h-4.8zM264.2,364.19h4.8v4.08h-4.8zM269,365.77h4.8v3h-4.8zM273.8,366.58h4.8v2.23h-4.8zM278.6,367h4.8v2.01h-4.8z" fill="url(#hc2)" stroke="none" clip-path="url(#cc)" />
<line x1="48" y1="369.2" x2="67.4" y2="369.2" stroke="#1f6fff" stroke-width="2" />
<path d="M67.4,369.2L67.4,369.19L72.2,369.19L72.2,369.18L77,369.18L77,369.17L81.8,369.17L81.8,369.15L86.6,369.15L86.6,369.11L91.4,369.11L91.4,369.06L96.2,369.06L96.2,368.98L101,368.98L101,368.86L105.8,368.86L105.8,368.68L110.6,368.68L110.6,368.43L115.4,368.43L115.4,368.09L120.2,368.09L120.2,367.62L125,367.62L125,366.99L129.8,366.99L129.8,366.2L134.6,366.2L134.6,365.19L139.4,365.19L139.4,363.96L144.2,363.96L144.2,362.5L149,362.5L149,360.82L153.8,360.82L153.8,358.92L158.6,358.92L158.6,356.86L163.4,356.86L163.4,354.7L168.2,354.7L168.2,352.52L173,352.52L173,350.42L177.8,350.42L177.8,348.49L182.6,348.49L182.6,346.83L187.4,346.83L187.4,345.56L192.2,345.56L192.2,344.73L197,344.73L197,344.4L201.8,344.4L201.8,344.6L206.6,344.6L206.6,345.31L211.4,345.31L211.4,346.48L216.2,346.48L216.2,348.04L221,348.04L221,349.91L225.8,349.91L225.8,351.99L230.6,351.99L230.6,354.16L235.4,354.16L235.4,356.33L240.2,356.33L240.2,358.42L245,358.42L245,360.36L249.8,360.36L249.8,362.1L254.6,362.1L254.6,363.62L259.4,363.62L259.4,364.91L264.2,364.91L264.2,365.96L269,365.96L269,366.81L273.8,366.81L273.8,367.48L278.6,367.48L278.6,367.98L283.4,367.98" stroke="#1f6fff" stroke-width="1.4" fill="none" clip-path="url(#cc)" stroke-linejoin="miter"/>
<line x1="283.4" y1="369.2" x2="328" y2="369.2" stroke="#1f6fff" stroke-width="2" />
<line x1="122.6" y1="366" x2="122.6" y2="370" stroke="#ff2200" stroke-width="1.1" />
<line x1="119.2" y1="366" x2="126" y2="366" stroke="#ff2200" stroke-width="1.1" />
<line x1="119.2" y1="370" x2="126" y2="370" stroke="#ff2200" stroke-width="1.1" />
<line x1="120.2" y1="368" x2="125" y2="368" stroke="#ff2200" stroke-width="1.1" />
<line x1="120.2" y1="365.4" x2="120.2" y2="370.6" stroke="#ff2200" stroke-width="1.1" />
<line x1="125" y1="365.4" x2="125" y2="370.6" stroke="#ff2200" stroke-width="1.1" />
<rect x="120" y="365.4" width="5.2" height="5.2" fill="#ff2200" />
<line x1="127.4" y1="366" x2="127.4" y2="370" stroke="#ff2200" stroke-width="1.1" />
<line x1="124" y1="366" x2="130.8" y2="366" stroke="#ff2200" stroke-width="1.1" />
<line x1="124" y1="370" x2="130.8" y2="370" stroke="#ff2200" stroke-width="1.1" />
<line x1="125" y1="368" x2="129.8" y2="368" stroke="#ff2200" stroke-width="1.1" />
<line x1="125" y1="365.4" x2="125" y2="370.6" stroke="#ff2200" stroke-width="1.1" />
<line x1="129.8" y1="365.4" x2="129.8" y2="370.6" stroke="#ff2200" stroke-width="1.1" />
<rect x="124.8" y="365.4" width="5.2" height="5.2" fill="#ff2200" />
<line x1="132.2" y1="362.58" x2="132.2" y2="367.42" stroke="#ff2200" stroke-width="1.1" />
<line x1="128.8" y1="362.58" x2="135.6" y2="362.58" stroke="#ff2200" stroke-width="1.1" />
<line x1="128.8" y1="367.42" x2="135.6" y2="367.42" stroke="#ff2200" stroke-width="1.1" />
<line x1="129.8" y1="365" x2="134.6" y2="365" stroke="#ff2200" stroke-width="1.1" />
<line x1="129.8" y1="362.4" x2="129.8" y2="367.6" stroke="#ff2200" stroke-width="1.1" />
<line x1="134.6" y1="362.4" x2="134.6" y2="367.6" stroke="#ff2200" stroke-width="1.1" />
<rect x="129.6" y="362.4" width="5.2" height="5.2" fill="#ff2200" />
<line x1="137" y1="358.9" x2="137" y2="365.1" stroke="#ff2200" stroke-width="1.1" />
<line x1="133.6" y1="358.9" x2="140.4" y2="358.9" stroke="#ff2200" stroke-width="1.1" />
<line x1="133.6" y1="365.1" x2="140.4" y2="365.1" stroke="#ff2200" stroke-width="1.1" />
<line x1="134.6" y1="362" x2="139.4" y2="362" stroke="#ff2200" stroke-width="1.1" />
<line x1="134.6" y1="359.4" x2="134.6" y2="364.6" stroke="#ff2200" stroke-width="1.1" />
<line x1="139.4" y1="359.4" x2="139.4" y2="364.6" stroke="#ff2200" stroke-width="1.1" />
<rect x="134.4" y="359.4" width="5.2" height="5.2" fill="#ff2200" />
<line x1="141.8" y1="354.18" x2="141.8" y2="361.82" stroke="#ff2200" stroke-width="1.1" />
<line x1="138.4" y1="354.18" x2="145.2" y2="354.18" stroke="#ff2200" stroke-width="1.1" />
<line x1="138.4" y1="361.82" x2="145.2" y2="361.82" stroke="#ff2200" stroke-width="1.1" />
<line x1="139.4" y1="358" x2="144.2" y2="358" stroke="#ff2200" stroke-width="1.1" />
<line x1="139.4" y1="355.4" x2="139.4" y2="360.6" stroke="#ff2200" stroke-width="1.1" />
<line x1="144.2" y1="355.4" x2="144.2" y2="360.6" stroke="#ff2200" stroke-width="1.1" />
<rect x="139.2" y="355.4" width="5.2" height="5.2" fill="#ff2200" />
<line x1="146.6" y1="345.94" x2="146.6" y2="355.66" stroke="#ff2200" stroke-width="1.1" />
<line x1="143.2" y1="345.94" x2="150" y2="345.94" stroke="#ff2200" stroke-width="1.1" />
<line x1="143.2" y1="355.66" x2="150" y2="355.66" stroke="#ff2200" stroke-width="1.1" />
<line x1="144.2" y1="350.8" x2="149" y2="350.8" stroke="#ff2200" stroke-width="1.1" />
<line x1="144.2" y1="348.2" x2="144.2" y2="353.4" stroke="#ff2200" stroke-width="1.1" />
<line x1="149" y1="348.2" x2="149" y2="353.4" stroke="#ff2200" stroke-width="1.1" />
<rect x="144" y="348.2" width="5.2" height="5.2" fill="#ff2200" />
<line x1="151.4" y1="345.38" x2="151.4" y2="355.22" stroke="#ff2200" stroke-width="1.1" />
<line x1="148" y1="345.38" x2="154.8" y2="345.38" stroke="#ff2200" stroke-width="1.1" />
<line x1="148" y1="355.22" x2="154.8" y2="355.22" stroke="#ff2200" stroke-width="1.1" />
<line x1="149" y1="350.3" x2="153.8" y2="350.3" stroke="#ff2200" stroke-width="1.1" />
<line x1="149" y1="347.7" x2="149" y2="352.9" stroke="#ff2200" stroke-width="1.1" />
<line x1="153.8" y1="347.7" x2="153.8" y2="352.9" stroke="#ff2200" stroke-width="1.1" />
<rect x="148.8" y="347.7" width="5.2" height="5.2" fill="#ff2200" />
<line x1="156.2" y1="342.8" x2="156.2" y2="353.2" stroke="#ff2200" stroke-width="1.1" />
<line x1="152.8" y1="342.8" x2="159.6" y2="342.8" stroke="#ff2200" stroke-width="1.1" />
<line x1="152.8" y1="353.2" x2="159.6" y2="353.2" stroke="#ff2200" stroke-width="1.1" />
<line x1="153.8" y1="348" x2="158.6" y2="348" stroke="#ff2200" stroke-width="1.1" />
<line x1="153.8" y1="345.4" x2="153.8" y2="350.6" stroke="#ff2200" stroke-width="1.1" />
<line x1="158.6" y1="345.4" x2="158.6" y2="350.6" stroke="#ff2200" stroke-width="1.1" />
<rect x="153.6" y="345.4" width="5.2" height="5.2" fill="#ff2200" />
<line x1="161" y1="323.61" x2="161" y2="337.59" stroke="#ff2200" stroke-width="1.1" />
<line x1="157.6" y1="323.61" x2="164.4" y2="323.61" stroke="#ff2200" stroke-width="1.1" />
<line x1="157.6" y1="337.59" x2="164.4" y2="337.59" stroke="#ff2200" stroke-width="1.1" />
<line x1="158.6" y1="330.6" x2="163.4" y2="330.6" stroke="#ff2200" stroke-width="1.1" />
<line x1="158.6" y1="328" x2="158.6" y2="333.2" stroke="#ff2200" stroke-width="1.1" />
<line x1="163.4" y1="328" x2="163.4" y2="333.2" stroke="#ff2200" stroke-width="1.1" />
<rect x="158.4" y="328" width="5.2" height="5.2" fill="#ff2200" />
<line x1="165.8" y1="307.49" x2="165.8" y2="323.91" stroke="#ff2200" stroke-width="1.1" />
<line x1="162.4" y1="307.49" x2="169.2" y2="307.49" stroke="#ff2200" stroke-width="1.1" />
<line x1="162.4" y1="323.91" x2="169.2" y2="323.91" stroke="#ff2200" stroke-width="1.1" />
<line x1="163.4" y1="315.7" x2="168.2" y2="315.7" stroke="#ff2200" stroke-width="1.1" />
<line x1="163.4" y1="313.1" x2="163.4" y2="318.3" stroke="#ff2200" stroke-width="1.1" />
<line x1="168.2" y1="313.1" x2="168.2" y2="318.3" stroke="#ff2200" stroke-width="1.1" />
<rect x="163.2" y="313.1" width="5.2" height="5.2" fill="#ff2200" />
<line x1="170.6" y1="298.47" x2="170.6" y2="316.13" stroke="#ff2200" stroke-width="1.1" />
<line x1="167.2" y1="298.47" x2="174" y2="298.47" stroke="#ff2200" stroke-width="1.1" />
<line x1="167.2" y1="316.13" x2="174" y2="316.13" stroke="#ff2200" stroke-width="1.1" />
<line x1="168.2" y1="307.3" x2="173" y2="307.3" stroke="#ff2200" stroke-width="1.1" />
<line x1="168.2" y1="304.7" x2="168.2" y2="309.9" stroke="#ff2200" stroke-width="1.1" />
<line x1="173" y1="304.7" x2="173" y2="309.9" stroke="#ff2200" stroke-width="1.1" />
<rect x="168" y="304.7" width="5.2" height="5.2" fill="#ff2200" />
<line x1="175.4" y1="297.94" x2="175.4" y2="315.66" stroke="#ff2200" stroke-width="1.1" />
<line x1="172" y1="297.94" x2="178.8" y2="297.94" stroke="#ff2200" stroke-width="1.1" />
<line x1="172" y1="315.66" x2="178.8" y2="315.66" stroke="#ff2200" stroke-width="1.1" />
<line x1="173" y1="306.8" x2="177.8" y2="306.8" stroke="#ff2200" stroke-width="1.1" />
<line x1="173" y1="304.2" x2="173" y2="309.4" stroke="#ff2200" stroke-width="1.1" />
<line x1="177.8" y1="304.2" x2="177.8" y2="309.4" stroke="#ff2200" stroke-width="1.1" />
<rect x="172.8" y="304.2" width="5.2" height="5.2" fill="#ff2200" />
<line x1="180.2" y1="292.06" x2="180.2" y2="310.54" stroke="#ff2200" stroke-width="1.1" />
<line x1="176.8" y1="292.06" x2="183.6" y2="292.06" stroke="#ff2200" stroke-width="1.1" />
<line x1="176.8" y1="310.54" x2="183.6" y2="310.54" stroke="#ff2200" stroke-width="1.1" />
<line x1="177.8" y1="301.3" x2="182.6" y2="301.3" stroke="#ff2200" stroke-width="1.1" />
<line x1="177.8" y1="298.7" x2="177.8" y2="303.9" stroke="#ff2200" stroke-width="1.1" />
<line x1="182.6" y1="298.7" x2="182.6" y2="303.9" stroke="#ff2200" stroke-width="1.1" />
<rect x="177.6" y="298.7" width="5.2" height="5.2" fill="#ff2200" />
<line x1="185" y1="279.39" x2="185" y2="299.41" stroke="#ff2200" stroke-width="1.1" />
<line x1="181.6" y1="279.39" x2="188.4" y2="279.39" stroke="#ff2200" stroke-width="1.1" />
<line x1="181.6" y1="299.41" x2="188.4" y2="299.41" stroke="#ff2200" stroke-width="1.1" />
<line x1="182.6" y1="289.4" x2="187.4" y2="289.4" stroke="#ff2200" stroke-width="1.1" />
<line x1="182.6" y1="286.8" x2="182.6" y2="292" stroke="#ff2200" stroke-width="1.1" />
<line x1="187.4" y1="286.8" x2="187.4" y2="292" stroke="#ff2200" stroke-width="1.1" />
<rect x="182.4" y="286.8" width="5.2" height="5.2" fill="#ff2200" />
<line x1="189.8" y1="274.61" x2="189.8" y2="295.19" stroke="#ff2200" stroke-width="1.1" />
<line x1="186.4" y1="274.61" x2="193.2" y2="274.61" stroke="#ff2200" stroke-width="1.1" />
<line x1="186.4" y1="295.19" x2="193.2" y2="295.19" stroke="#ff2200" stroke-width="1.1" />
<line x1="187.4" y1="284.9" x2="192.2" y2="284.9" stroke="#ff2200" stroke-width="1.1" />
<line x1="187.4" y1="282.3" x2="187.4" y2="287.5" stroke="#ff2200" stroke-width="1.1" />
<line x1="192.2" y1="282.3" x2="192.2" y2="287.5" stroke="#ff2200" stroke-width="1.1" />
<rect x="187.2" y="282.3" width="5.2" height="5.2" fill="#ff2200" />
<line x1="194.6" y1="286.83" x2="194.6" y2="305.97" stroke="#ff2200" stroke-width="1.1" />
<line x1="191.2" y1="286.83" x2="198" y2="286.83" stroke="#ff2200" stroke-width="1.1" />
<line x1="191.2" y1="305.97" x2="198" y2="305.97" stroke="#ff2200" stroke-width="1.1" />
<line x1="192.2" y1="296.4" x2="197" y2="296.4" stroke="#ff2200" stroke-width="1.1" />
<line x1="192.2" y1="293.8" x2="192.2" y2="299" stroke="#ff2200" stroke-width="1.1" />
<line x1="197" y1="293.8" x2="197" y2="299" stroke="#ff2200" stroke-width="1.1" />
<rect x="192" y="293.8" width="5.2" height="5.2" fill="#ff2200" />
<line x1="199.4" y1="290.99" x2="199.4" y2="309.61" stroke="#ff2200" stroke-width="1.1" />
<line x1="196" y1="290.99" x2="202.8" y2="290.99" stroke="#ff2200" stroke-width="1.1" />
<line x1="196" y1="309.61" x2="202.8" y2="309.61" stroke="#ff2200" stroke-width="1.1" />
<line x1="197" y1="300.3" x2="201.8" y2="300.3" stroke="#ff2200" stroke-width="1.1" />
<line x1="197" y1="297.7" x2="197" y2="302.9" stroke="#ff2200" stroke-width="1.1" />
<line x1="201.8" y1="297.7" x2="201.8" y2="302.9" stroke="#ff2200" stroke-width="1.1" />
<rect x="196.8" y="297.7" width="5.2" height="5.2" fill="#ff2200" />
<line x1="204.2" y1="289.39" x2="204.2" y2="308.21" stroke="#ff2200" stroke-width="1.1" />
<line x1="200.8" y1="289.39" x2="207.6" y2="289.39" stroke="#ff2200" stroke-width="1.1" />
<line x1="200.8" y1="308.21" x2="207.6" y2="308.21" stroke="#ff2200" stroke-width="1.1" />
<line x1="201.8" y1="298.8" x2="206.6" y2="298.8" stroke="#ff2200" stroke-width="1.1" />
<line x1="201.8" y1="296.2" x2="201.8" y2="301.4" stroke="#ff2200" stroke-width="1.1" />
<line x1="206.6" y1="296.2" x2="206.6" y2="301.4" stroke="#ff2200" stroke-width="1.1" />
<rect x="201.6" y="296.2" width="5.2" height="5.2" fill="#ff2200" />
<line x1="209" y1="308.03" x2="209" y2="324.37" stroke="#ff2200" stroke-width="1.1" />
<line x1="205.6" y1="308.03" x2="212.4" y2="308.03" stroke="#ff2200" stroke-width="1.1" />
<line x1="205.6" y1="324.37" x2="212.4" y2="324.37" stroke="#ff2200" stroke-width="1.1" />
<line x1="206.6" y1="316.2" x2="211.4" y2="316.2" stroke="#ff2200" stroke-width="1.1" />
<line x1="206.6" y1="313.6" x2="206.6" y2="318.8" stroke="#ff2200" stroke-width="1.1" />
<line x1="211.4" y1="313.6" x2="211.4" y2="318.8" stroke="#ff2200" stroke-width="1.1" />
<rect x="206.4" y="313.6" width="5.2" height="5.2" fill="#ff2200" />
<line x1="213.8" y1="315.15" x2="213.8" y2="330.45" stroke="#ff2200" stroke-width="1.1" />
<line x1="210.4" y1="315.15" x2="217.2" y2="315.15" stroke="#ff2200" stroke-width="1.1" />
<line x1="210.4" y1="330.45" x2="217.2" y2="330.45" stroke="#ff2200" stroke-width="1.1" />
<line x1="211.4" y1="322.8" x2="216.2" y2="322.8" stroke="#ff2200" stroke-width="1.1" />
<line x1="211.4" y1="320.2" x2="211.4" y2="325.4" stroke="#ff2200" stroke-width="1.1" />
<line x1="216.2" y1="320.2" x2="216.2" y2="325.4" stroke="#ff2200" stroke-width="1.1" />
<rect x="211.2" y="320.2" width="5.2" height="5.2" fill="#ff2200" />
<line x1="218.6" y1="329.08" x2="218.6" y2="342.12" stroke="#ff2200" stroke-width="1.1" />
<line x1="215.2" y1="329.08" x2="222" y2="329.08" stroke="#ff2200" stroke-width="1.1" />
<line x1="215.2" y1="342.12" x2="222" y2="342.12" stroke="#ff2200" stroke-width="1.1" />
<line x1="216.2" y1="335.6" x2="221" y2="335.6" stroke="#ff2200" stroke-width="1.1" />
<line x1="216.2" y1="333" x2="216.2" y2="338.2" stroke="#ff2200" stroke-width="1.1" />
<line x1="221" y1="333" x2="221" y2="338.2" stroke="#ff2200" stroke-width="1.1" />
<rect x="216" y="333" width="5.2" height="5.2" fill="#ff2200" />
<line x1="223.4" y1="319.37" x2="223.4" y2="334.03" stroke="#ff2200" stroke-width="1.1" />
<line x1="220" y1="319.37" x2="226.8" y2="319.37" stroke="#ff2200" stroke-width="1.1" />
<line x1="220" y1="334.03" x2="226.8" y2="334.03" stroke="#ff2200" stroke-width="1.1" />
<line x1="221" y1="326.7" x2="225.8" y2="326.7" stroke="#ff2200" stroke-width="1.1" />
<line x1="221" y1="324.1" x2="221" y2="329.3" stroke="#ff2200" stroke-width="1.1" />
<line x1="225.8" y1="324.1" x2="225.8" y2="329.3" stroke="#ff2200" stroke-width="1.1" />
<rect x="220.8" y="324.1" width="5.2" height="5.2" fill="#ff2200" />
<line x1="228.2" y1="337.89" x2="228.2" y2="349.31" stroke="#ff2200" stroke-width="1.1" />
<line x1="224.8" y1="337.89" x2="231.6" y2="337.89" stroke="#ff2200" stroke-width="1.1" />
<line x1="224.8" y1="349.31" x2="231.6" y2="349.31" stroke="#ff2200" stroke-width="1.1" />
<line x1="225.8" y1="343.6" x2="230.6" y2="343.6" stroke="#ff2200" stroke-width="1.1" />
<line x1="225.8" y1="341" x2="225.8" y2="346.2" stroke="#ff2200" stroke-width="1.1" />
<line x1="230.6" y1="341" x2="230.6" y2="346.2" stroke="#ff2200" stroke-width="1.1" />
<rect x="225.6" y="341" width="5.2" height="5.2" fill="#ff2200" />
<line x1="233" y1="340.12" x2="233" y2="351.08" stroke="#ff2200" stroke-width="1.1" />
<line x1="229.6" y1="340.12" x2="236.4" y2="340.12" stroke="#ff2200" stroke-width="1.1" />
<line x1="229.6" y1="351.08" x2="236.4" y2="351.08" stroke="#ff2200" stroke-width="1.1" />
<line x1="230.6" y1="345.6" x2="235.4" y2="345.6" stroke="#ff2200" stroke-width="1.1" />
<line x1="230.6" y1="343" x2="230.6" y2="348.2" stroke="#ff2200" stroke-width="1.1" />
<line x1="235.4" y1="343" x2="235.4" y2="348.2" stroke="#ff2200" stroke-width="1.1" />
<rect x="230.4" y="343" width="5.2" height="5.2" fill="#ff2200" />
<line x1="237.8" y1="349.12" x2="237.8" y2="358.08" stroke="#ff2200" stroke-width="1.1" />
<line x1="234.4" y1="349.12" x2="241.2" y2="349.12" stroke="#ff2200" stroke-width="1.1" />
<line x1="234.4" y1="358.08" x2="241.2" y2="358.08" stroke="#ff2200" stroke-width="1.1" />
<line x1="235.4" y1="353.6" x2="240.2" y2="353.6" stroke="#ff2200" stroke-width="1.1" />
<line x1="235.4" y1="351" x2="235.4" y2="356.2" stroke="#ff2200" stroke-width="1.1" />
<line x1="240.2" y1="351" x2="240.2" y2="356.2" stroke="#ff2200" stroke-width="1.1" />
<rect x="235.2" y="351" width="5.2" height="5.2" fill="#ff2200" />
<line x1="242.6" y1="353.6" x2="242.6" y2="361.4" stroke="#ff2200" stroke-width="1.1" />
<line x1="239.2" y1="353.6" x2="246" y2="353.6" stroke="#ff2200" stroke-width="1.1" />
<line x1="239.2" y1="361.4" x2="246" y2="361.4" stroke="#ff2200" stroke-width="1.1" />
<line x1="240.2" y1="357.5" x2="245" y2="357.5" stroke="#ff2200" stroke-width="1.1" />
<line x1="240.2" y1="354.9" x2="240.2" y2="360.1" stroke="#ff2200" stroke-width="1.1" />
<line x1="245" y1="354.9" x2="245" y2="360.1" stroke="#ff2200" stroke-width="1.1" />
<rect x="240" y="354.9" width="5.2" height="5.2" fill="#ff2200" />
<line x1="247.4" y1="348.43" x2="247.4" y2="357.57" stroke="#ff2200" stroke-width="1.1" />
<line x1="244" y1="348.43" x2="250.8" y2="348.43" stroke="#ff2200" stroke-width="1.1" />
<line x1="244" y1="357.57" x2="250.8" y2="357.57" stroke="#ff2200" stroke-width="1.1" />
<line x1="245" y1="353" x2="249.8" y2="353" stroke="#ff2200" stroke-width="1.1" />
<line x1="245" y1="350.4" x2="245" y2="355.6" stroke="#ff2200" stroke-width="1.1" />
<line x1="249.8" y1="350.4" x2="249.8" y2="355.6" stroke="#ff2200" stroke-width="1.1" />
<rect x="244.8" y="350.4" width="5.2" height="5.2" fill="#ff2200" />
<line x1="252.2" y1="359.5" x2="252.2" y2="365.5" stroke="#ff2200" stroke-width="1.1" />
<line x1="248.8" y1="359.5" x2="255.6" y2="359.5" stroke="#ff2200" stroke-width="1.1" />
<line x1="248.8" y1="365.5" x2="255.6" y2="365.5" stroke="#ff2200" stroke-width="1.1" />
<line x1="249.8" y1="362.5" x2="254.6" y2="362.5" stroke="#ff2200" stroke-width="1.1" />
<line x1="249.8" y1="359.9" x2="249.8" y2="365.1" stroke="#ff2200" stroke-width="1.1" />
<line x1="254.6" y1="359.9" x2="254.6" y2="365.1" stroke="#ff2200" stroke-width="1.1" />
<rect x="249.6" y="359.9" width="5.2" height="5.2" fill="#ff2200" />
<line x1="257" y1="361.33" x2="257" y2="366.67" stroke="#ff2200" stroke-width="1.1" />
<line x1="253.6" y1="361.33" x2="260.4" y2="361.33" stroke="#ff2200" stroke-width="1.1" />
<line x1="253.6" y1="366.67" x2="260.4" y2="366.67" stroke="#ff2200" stroke-width="1.1" />
<line x1="254.6" y1="364" x2="259.4" y2="364" stroke="#ff2200" stroke-width="1.1" />
<line x1="254.6" y1="361.4" x2="254.6" y2="366.6" stroke="#ff2200" stroke-width="1.1" />
<line x1="259.4" y1="361.4" x2="259.4" y2="366.6" stroke="#ff2200" stroke-width="1.1" />
<rect x="254.4" y="361.4" width="5.2" height="5.2" fill="#ff2200" />
<line x1="271.4" y1="366.5" x2="271.4" y2="370.5" stroke="#ff2200" stroke-width="1.1" />
<line x1="268" y1="366.5" x2="274.8" y2="366.5" stroke="#ff2200" stroke-width="1.1" />
<line x1="268" y1="370.5" x2="274.8" y2="370.5" stroke="#ff2200" stroke-width="1.1" />
<line x1="269" y1="368.5" x2="273.8" y2="368.5" stroke="#ff2200" stroke-width="1.1" />
<line x1="269" y1="365.9" x2="269" y2="371.1" stroke="#ff2200" stroke-width="1.1" />
<line x1="273.8" y1="365.9" x2="273.8" y2="371.1" stroke="#ff2200" stroke-width="1.1" />
<rect x="268.8" y="365.9" width="5.2" height="5.2" fill="#ff2200" />
<line x1="276.2" y1="366.5" x2="276.2" y2="370.5" stroke="#ff2200" stroke-width="1.1" />
<line x1="272.8" y1="366.5" x2="279.6" y2="366.5" stroke="#ff2200" stroke-width="1.1" />
<line x1="272.8" y1="370.5" x2="279.6" y2="370.5" stroke="#ff2200" stroke-width="1.1" />
<line x1="273.8" y1="368.5" x2="278.6" y2="368.5" stroke="#ff2200" stroke-width="1.1" />
<line x1="273.8" y1="365.9" x2="273.8" y2="371.1" stroke="#ff2200" stroke-width="1.1" />
<line x1="278.6" y1="365.9" x2="278.6" y2="371.1" stroke="#ff2200" stroke-width="1.1" />
<rect x="273.6" y="365.9" width="5.2" height="5.2" fill="#ff2200" />
<line x1="132.2" y1="366" x2="132.2" y2="370" stroke="#00008c" stroke-width="1.1" />
<line x1="129" y1="366" x2="135.4" y2="366" stroke="#00008c" stroke-width="1.1" />
<line x1="129" y1="370" x2="135.4" y2="370" stroke="#00008c" stroke-width="1.1" />
<line x1="129.8" y1="368" x2="134.6" y2="368" stroke="#00008c" stroke-width="1.1" />
<line x1="129.8" y1="365" x2="129.8" y2="371" stroke="#00008c" stroke-width="1.1" />
<line x1="134.6" y1="365" x2="134.6" y2="371" stroke="#00008c" stroke-width="1.1" />
<rect x="129.5" y="365.3" width="5.4" height="5.4" fill="#00008c" shape-rendering="crispEdges"/>
<rect x="128" y="363.8" width="8.4" height="8.4" fill="none" stroke="#00008c" stroke-width="0.9" stroke-dasharray="1.4,1.2" opacity="0.35"/>
<line x1="137" y1="365.5" x2="137" y2="369.5" stroke="#00008c" stroke-width="1.1" />
<line x1="133.8" y1="365.5" x2="140.2" y2="365.5" stroke="#00008c" stroke-width="1.1" />
<line x1="133.8" y1="369.5" x2="140.2" y2="369.5" stroke="#00008c" stroke-width="1.1" />
<line x1="134.6" y1="367.5" x2="139.4" y2="367.5" stroke="#00008c" stroke-width="1.1" />
<line x1="134.6" y1="364.5" x2="134.6" y2="370.5" stroke="#00008c" stroke-width="1.1" />
<line x1="139.4" y1="364.5" x2="139.4" y2="370.5" stroke="#00008c" stroke-width="1.1" />
<rect x="134.3" y="364.8" width="5.4" height="5.4" fill="#00008c" shape-rendering="crispEdges"/>
<rect x="132.8" y="363.3" width="8.4" height="8.4" fill="none" stroke="#00008c" stroke-width="0.9" stroke-dasharray="1.4,1.2" opacity="0.35"/>
<line x1="141.8" y1="365" x2="141.8" y2="369" stroke="#00008c" stroke-width="1.1" />
<line x1="138.6" y1="365" x2="145" y2="365" stroke="#00008c" stroke-width="1.1" />
<line x1="138.6" y1="369" x2="145" y2="369" stroke="#00008c" stroke-width="1.1" />
<line x1="139.4" y1="367" x2="144.2" y2="367" stroke="#00008c" stroke-width="1.1" />
<line x1="139.4" y1="364" x2="139.4" y2="370" stroke="#00008c" stroke-width="1.1" />
<line x1="144.2" y1="364" x2="144.2" y2="370" stroke="#00008c" stroke-width="1.1" />
<rect x="139.1" y="364.3" width="5.4" height="5.4" fill="#00008c" shape-rendering="crispEdges"/>
<rect x="137.6" y="362.8" width="8.4" height="8.4" fill="none" stroke="#00008c" stroke-width="0.9" stroke-dasharray="1.4,1.2" opacity="0.35"/>
<line x1="146.6" y1="363.21" x2="146.6" y2="367.79" stroke="#00008c" stroke-width="1.1" />
<line x1="143.4" y1="363.21" x2="149.8" y2="363.21" stroke="#00008c" stroke-width="1.1" />
<line x1="143.4" y1="367.79" x2="149.8" y2="367.79" stroke="#00008c" stroke-width="1.1" />
<line x1="144.2" y1="365.5" x2="149" y2="365.5" stroke="#00008c" stroke-width="1.1" />
<line x1="144.2" y1="362.5" x2="144.2" y2="368.5" stroke="#00008c" stroke-width="1.1" />
<line x1="149" y1="362.5" x2="149" y2="368.5" stroke="#00008c" stroke-width="1.1" />
<rect x="143.9" y="362.8" width="5.4" height="5.4" fill="#00008c" shape-rendering="crispEdges"/>
<rect x="142.4" y="361.3" width="8.4" height="8.4" fill="none" stroke="#00008c" stroke-width="0.9" stroke-dasharray="1.4,1.2" opacity="0.35"/>
<line x1="151.4" y1="361.09" x2="151.4" y2="366.51" stroke="#00008c" stroke-width="1.1" />
<line x1="148.2" y1="361.09" x2="154.6" y2="361.09" stroke="#00008c" stroke-width="1.1" />
<line x1="148.2" y1="366.51" x2="154.6" y2="366.51" stroke="#00008c" stroke-width="1.1" />
<line x1="149" y1="363.8" x2="153.8" y2="363.8" stroke="#00008c" stroke-width="1.1" />
<line x1="149" y1="360.8" x2="149" y2="366.8" stroke="#00008c" stroke-width="1.1" />
<line x1="153.8" y1="360.8" x2="153.8" y2="366.8" stroke="#00008c" stroke-width="1.1" />
<rect x="148.7" y="361.1" width="5.4" height="5.4" fill="#00008c" shape-rendering="crispEdges"/>
<rect x="147.2" y="359.6" width="8.4" height="8.4" fill="none" stroke="#00008c" stroke-width="0.9" stroke-dasharray="1.4,1.2" opacity="0.35"/>
<line x1="156.2" y1="359.14" x2="156.2" y2="365.26" stroke="#00008c" stroke-width="1.1" />
<line x1="153" y1="359.14" x2="159.4" y2="359.14" stroke="#00008c" stroke-width="1.1" />
<line x1="153" y1="365.26" x2="159.4" y2="365.26" stroke="#00008c" stroke-width="1.1" />
<line x1="153.8" y1="362.2" x2="158.6" y2="362.2" stroke="#00008c" stroke-width="1.1" />
<line x1="153.8" y1="359.2" x2="153.8" y2="365.2" stroke="#00008c" stroke-width="1.1" />
<line x1="158.6" y1="359.2" x2="158.6" y2="365.2" stroke="#00008c" stroke-width="1.1" />
<rect x="153.5" y="359.5" width="5.4" height="5.4" fill="#00008c" shape-rendering="crispEdges"/>
<rect x="152" y="358" width="8.4" height="8.4" fill="none" stroke="#00008c" stroke-width="0.9" stroke-dasharray="1.4,1.2" opacity="0.35"/>
<line x1="161" y1="357.11" x2="161" y2="363.89" stroke="#00008c" stroke-width="1.1" />
<line x1="157.8" y1="357.11" x2="164.2" y2="357.11" stroke="#00008c" stroke-width="1.1" />
<line x1="157.8" y1="363.89" x2="164.2" y2="363.89" stroke="#00008c" stroke-width="1.1" />
<line x1="158.6" y1="360.5" x2="163.4" y2="360.5" stroke="#00008c" stroke-width="1.1" />
<line x1="158.6" y1="357.5" x2="158.6" y2="363.5" stroke="#00008c" stroke-width="1.1" />
<line x1="163.4" y1="357.5" x2="163.4" y2="363.5" stroke="#00008c" stroke-width="1.1" />
<rect x="158.3" y="357.8" width="5.4" height="5.4" fill="#00008c" shape-rendering="crispEdges"/>
<rect x="156.8" y="356.3" width="8.4" height="8.4" fill="none" stroke="#00008c" stroke-width="0.9" stroke-dasharray="1.4,1.2" opacity="0.35"/>
<line x1="165.8" y1="354.29" x2="165.8" y2="361.91" stroke="#00008c" stroke-width="1.1" />
<line x1="162.6" y1="354.29" x2="169" y2="354.29" stroke="#00008c" stroke-width="1.1" />
<line x1="162.6" y1="361.91" x2="169" y2="361.91" stroke="#00008c" stroke-width="1.1" />
<line x1="163.4" y1="358.1" x2="168.2" y2="358.1" stroke="#00008c" stroke-width="1.1" />
<line x1="163.4" y1="355.1" x2="163.4" y2="361.1" stroke="#00008c" stroke-width="1.1" />
<line x1="168.2" y1="355.1" x2="168.2" y2="361.1" stroke="#00008c" stroke-width="1.1" />
<rect x="163.1" y="355.4" width="5.4" height="5.4" fill="#00008c" shape-rendering="crispEdges"/>
<rect x="161.6" y="353.9" width="8.4" height="8.4" fill="none" stroke="#00008c" stroke-width="0.9" stroke-dasharray="1.4,1.2" opacity="0.35"/>
<line x1="170.6" y1="349.34" x2="170.6" y2="358.26" stroke="#00008c" stroke-width="1.1" />
<line x1="167.4" y1="349.34" x2="173.8" y2="349.34" stroke="#00008c" stroke-width="1.1" />
<line x1="167.4" y1="358.26" x2="173.8" y2="358.26" stroke="#00008c" stroke-width="1.1" />
<line x1="168.2" y1="353.8" x2="173" y2="353.8" stroke="#00008c" stroke-width="1.1" />
<line x1="168.2" y1="350.8" x2="168.2" y2="356.8" stroke="#00008c" stroke-width="1.1" />
<line x1="173" y1="350.8" x2="173" y2="356.8" stroke="#00008c" stroke-width="1.1" />
<rect x="167.9" y="351.1" width="5.4" height="5.4" fill="#00008c" shape-rendering="crispEdges"/>
<rect x="166.4" y="349.6" width="8.4" height="8.4" fill="none" stroke="#00008c" stroke-width="0.9" stroke-dasharray="1.4,1.2" opacity="0.35"/>
<line x1="175.4" y1="344.7" x2="175.4" y2="354.7" stroke="#00008c" stroke-width="1.1" />
<line x1="172.2" y1="344.7" x2="178.6" y2="344.7" stroke="#00008c" stroke-width="1.1" />
<line x1="172.2" y1="354.7" x2="178.6" y2="354.7" stroke="#00008c" stroke-width="1.1" />
<line x1="173" y1="349.7" x2="177.8" y2="349.7" stroke="#00008c" stroke-width="1.1" />
<line x1="173" y1="346.7" x2="173" y2="352.7" stroke="#00008c" stroke-width="1.1" />
<line x1="177.8" y1="346.7" x2="177.8" y2="352.7" stroke="#00008c" stroke-width="1.1" />
<rect x="172.7" y="347" width="5.4" height="5.4" fill="#00008c" shape-rendering="crispEdges"/>
<rect x="171.2" y="345.5" width="8.4" height="8.4" fill="none" stroke="#00008c" stroke-width="0.9" stroke-dasharray="1.4,1.2" opacity="0.35"/>
<line x1="180.2" y1="338.78" x2="180.2" y2="350.02" stroke="#00008c" stroke-width="1.1" />
<line x1="177" y1="338.78" x2="183.4" y2="338.78" stroke="#00008c" stroke-width="1.1" />
<line x1="177" y1="350.02" x2="183.4" y2="350.02" stroke="#00008c" stroke-width="1.1" />
<line x1="177.8" y1="344.4" x2="182.6" y2="344.4" stroke="#00008c" stroke-width="1.1" />
<line x1="177.8" y1="341.4" x2="177.8" y2="347.4" stroke="#00008c" stroke-width="1.1" />
<line x1="182.6" y1="341.4" x2="182.6" y2="347.4" stroke="#00008c" stroke-width="1.1" />
<rect x="177.5" y="341.7" width="5.4" height="5.4" fill="#00008c" shape-rendering="crispEdges"/>
<rect x="176" y="340.2" width="8.4" height="8.4" fill="none" stroke="#00008c" stroke-width="0.9" stroke-dasharray="1.4,1.2" opacity="0.35"/>
<line x1="185" y1="321.55" x2="185" y2="335.85" stroke="#00008c" stroke-width="1.1" />
<line x1="181.8" y1="321.55" x2="188.2" y2="321.55" stroke="#00008c" stroke-width="1.1" />
<line x1="181.8" y1="335.85" x2="188.2" y2="335.85" stroke="#00008c" stroke-width="1.1" />
<line x1="182.6" y1="328.7" x2="187.4" y2="328.7" stroke="#00008c" stroke-width="1.1" />
<line x1="182.6" y1="325.7" x2="182.6" y2="331.7" stroke="#00008c" stroke-width="1.1" />
<line x1="187.4" y1="325.7" x2="187.4" y2="331.7" stroke="#00008c" stroke-width="1.1" />
<rect x="182.3" y="326" width="5.4" height="5.4" fill="#00008c" shape-rendering="crispEdges"/>
<rect x="180.8" y="324.5" width="8.4" height="8.4" fill="none" stroke="#00008c" stroke-width="0.9" stroke-dasharray="1.4,1.2" opacity="0.35"/>
<line x1="189.8" y1="334.68" x2="189.8" y2="346.72" stroke="#00008c" stroke-width="1.1" />
<line x1="186.6" y1="334.68" x2="193" y2="334.68" stroke="#00008c" stroke-width="1.1" />
<line x1="186.6" y1="346.72" x2="193" y2="346.72" stroke="#00008c" stroke-width="1.1" />
<line x1="187.4" y1="340.7" x2="192.2" y2="340.7" stroke="#00008c" stroke-width="1.1" />
<line x1="187.4" y1="337.7" x2="187.4" y2="343.7" stroke="#00008c" stroke-width="1.1" />
<line x1="192.2" y1="337.7" x2="192.2" y2="343.7" stroke="#00008c" stroke-width="1.1" />
<rect x="187.1" y="338" width="5.4" height="5.4" fill="#00008c" shape-rendering="crispEdges"/>
<rect x="185.6" y="336.5" width="8.4" height="8.4" fill="none" stroke="#00008c" stroke-width="0.9" stroke-dasharray="1.4,1.2" opacity="0.35"/>
<line x1="194.6" y1="330.61" x2="194.6" y2="343.39" stroke="#00008c" stroke-width="1.1" />
<line x1="191.4" y1="330.61" x2="197.8" y2="330.61" stroke="#00008c" stroke-width="1.1" />
<line x1="191.4" y1="343.39" x2="197.8" y2="343.39" stroke="#00008c" stroke-width="1.1" />
<line x1="192.2" y1="337" x2="197" y2="337" stroke="#00008c" stroke-width="1.1" />
<line x1="192.2" y1="334" x2="192.2" y2="340" stroke="#00008c" stroke-width="1.1" />
<line x1="197" y1="334" x2="197" y2="340" stroke="#00008c" stroke-width="1.1" />
<rect x="191.9" y="334.3" width="5.4" height="5.4" fill="#00008c" shape-rendering="crispEdges"/>
<rect x="190.4" y="332.8" width="8.4" height="8.4" fill="none" stroke="#00008c" stroke-width="0.9" stroke-dasharray="1.4,1.2" opacity="0.35"/>
<line x1="199.4" y1="323.94" x2="199.4" y2="337.86" stroke="#00008c" stroke-width="1.1" />
<line x1="196.2" y1="323.94" x2="202.6" y2="323.94" stroke="#00008c" stroke-width="1.1" />
<line x1="196.2" y1="337.86" x2="202.6" y2="337.86" stroke="#00008c" stroke-width="1.1" />
<line x1="197" y1="330.9" x2="201.8" y2="330.9" stroke="#00008c" stroke-width="1.1" />
<line x1="197" y1="327.9" x2="197" y2="333.9" stroke="#00008c" stroke-width="1.1" />
<line x1="201.8" y1="327.9" x2="201.8" y2="333.9" stroke="#00008c" stroke-width="1.1" />
<rect x="196.7" y="328.2" width="5.4" height="5.4" fill="#00008c" shape-rendering="crispEdges"/>
<rect x="195.2" y="326.7" width="8.4" height="8.4" fill="none" stroke="#00008c" stroke-width="0.9" stroke-dasharray="1.4,1.2" opacity="0.35"/>
<line x1="204.2" y1="336.34" x2="204.2" y2="348.06" stroke="#00008c" stroke-width="1.1" />
<line x1="201" y1="336.34" x2="207.4" y2="336.34" stroke="#00008c" stroke-width="1.1" />
<line x1="201" y1="348.06" x2="207.4" y2="348.06" stroke="#00008c" stroke-width="1.1" />
<line x1="201.8" y1="342.2" x2="206.6" y2="342.2" stroke="#00008c" stroke-width="1.1" />
<line x1="201.8" y1="339.2" x2="201.8" y2="345.2" stroke="#00008c" stroke-width="1.1" />
<line x1="206.6" y1="339.2" x2="206.6" y2="345.2" stroke="#00008c" stroke-width="1.1" />
<rect x="201.5" y="339.5" width="5.4" height="5.4" fill="#00008c" shape-rendering="crispEdges"/>
<rect x="200" y="338" width="8.4" height="8.4" fill="none" stroke="#00008c" stroke-width="0.9" stroke-dasharray="1.4,1.2" opacity="0.35"/>
<line x1="209" y1="328.42" x2="209" y2="341.58" stroke="#00008c" stroke-width="1.1" />
<line x1="205.8" y1="328.42" x2="212.2" y2="328.42" stroke="#00008c" stroke-width="1.1" />
<line x1="205.8" y1="341.58" x2="212.2" y2="341.58" stroke="#00008c" stroke-width="1.1" />
<line x1="206.6" y1="335" x2="211.4" y2="335" stroke="#00008c" stroke-width="1.1" />
<line x1="206.6" y1="332" x2="206.6" y2="338" stroke="#00008c" stroke-width="1.1" />
<line x1="211.4" y1="332" x2="211.4" y2="338" stroke="#00008c" stroke-width="1.1" />
<rect x="206.3" y="332.3" width="5.4" height="5.4" fill="#00008c" shape-rendering="crispEdges"/>
<rect x="204.8" y="330.8" width="8.4" height="8.4" fill="none" stroke="#00008c" stroke-width="0.9" stroke-dasharray="1.4,1.2" opacity="0.35"/>
<line x1="213.8" y1="338.78" x2="213.8" y2="350.02" stroke="#00008c" stroke-width="1.1" />
<line x1="210.6" y1="338.78" x2="217" y2="338.78" stroke="#00008c" stroke-width="1.1" />
<line x1="210.6" y1="350.02" x2="217" y2="350.02" stroke="#00008c" stroke-width="1.1" />
<line x1="211.4" y1="344.4" x2="216.2" y2="344.4" stroke="#00008c" stroke-width="1.1" />
<line x1="211.4" y1="341.4" x2="211.4" y2="347.4" stroke="#00008c" stroke-width="1.1" />
<line x1="216.2" y1="341.4" x2="216.2" y2="347.4" stroke="#00008c" stroke-width="1.1" />
<rect x="211.1" y="341.7" width="5.4" height="5.4" fill="#00008c" shape-rendering="crispEdges"/>
<rect x="209.6" y="340.2" width="8.4" height="8.4" fill="none" stroke="#00008c" stroke-width="0.9" stroke-dasharray="1.4,1.2" opacity="0.35"/>
<line x1="218.6" y1="341.9" x2="218.6" y2="352.5" stroke="#00008c" stroke-width="1.1" />
<line x1="215.4" y1="341.9" x2="221.8" y2="341.9" stroke="#00008c" stroke-width="1.1" />
<line x1="215.4" y1="352.5" x2="221.8" y2="352.5" stroke="#00008c" stroke-width="1.1" />
<line x1="216.2" y1="347.2" x2="221" y2="347.2" stroke="#00008c" stroke-width="1.1" />
<line x1="216.2" y1="344.2" x2="216.2" y2="350.2" stroke="#00008c" stroke-width="1.1" />
<line x1="221" y1="344.2" x2="221" y2="350.2" stroke="#00008c" stroke-width="1.1" />
<rect x="215.9" y="344.5" width="5.4" height="5.4" fill="#00008c" shape-rendering="crispEdges"/>
<rect x="214.4" y="343" width="8.4" height="8.4" fill="none" stroke="#00008c" stroke-width="0.9" stroke-dasharray="1.4,1.2" opacity="0.35"/>
<line x1="223.4" y1="339.67" x2="223.4" y2="350.73" stroke="#00008c" stroke-width="1.1" />
<line x1="220.2" y1="339.67" x2="226.6" y2="339.67" stroke="#00008c" stroke-width="1.1" />
<line x1="220.2" y1="350.73" x2="226.6" y2="350.73" stroke="#00008c" stroke-width="1.1" />
<line x1="221" y1="345.2" x2="225.8" y2="345.2" stroke="#00008c" stroke-width="1.1" />
<line x1="221" y1="342.2" x2="221" y2="348.2" stroke="#00008c" stroke-width="1.1" />
<line x1="225.8" y1="342.2" x2="225.8" y2="348.2" stroke="#00008c" stroke-width="1.1" />
<rect x="220.7" y="342.5" width="5.4" height="5.4" fill="#00008c" shape-rendering="crispEdges"/>
<rect x="219.2" y="341" width="8.4" height="8.4" fill="none" stroke="#00008c" stroke-width="0.9" stroke-dasharray="1.4,1.2" opacity="0.35"/>
<line x1="228.2" y1="349.8" x2="228.2" y2="358.6" stroke="#00008c" stroke-width="1.1" />
<line x1="225" y1="349.8" x2="231.4" y2="349.8" stroke="#00008c" stroke-width="1.1" />
<line x1="225" y1="358.6" x2="231.4" y2="358.6" stroke="#00008c" stroke-width="1.1" />
<line x1="225.8" y1="354.2" x2="230.6" y2="354.2" stroke="#00008c" stroke-width="1.1" />
<line x1="225.8" y1="351.2" x2="225.8" y2="357.2" stroke="#00008c" stroke-width="1.1" />
<line x1="230.6" y1="351.2" x2="230.6" y2="357.2" stroke="#00008c" stroke-width="1.1" />
<rect x="225.5" y="351.5" width="5.4" height="5.4" fill="#00008c" shape-rendering="crispEdges"/>
<rect x="224" y="350" width="8.4" height="8.4" fill="none" stroke="#00008c" stroke-width="0.9" stroke-dasharray="1.4,1.2" opacity="0.35"/>
<line x1="233" y1="349.57" x2="233" y2="358.43" stroke="#00008c" stroke-width="1.1" />
<line x1="229.8" y1="349.57" x2="236.2" y2="349.57" stroke="#00008c" stroke-width="1.1" />
<line x1="229.8" y1="358.43" x2="236.2" y2="358.43" stroke="#00008c" stroke-width="1.1" />
<line x1="230.6" y1="354" x2="235.4" y2="354" stroke="#00008c" stroke-width="1.1" />
<line x1="230.6" y1="351" x2="230.6" y2="357" stroke="#00008c" stroke-width="1.1" />
<line x1="235.4" y1="351" x2="235.4" y2="357" stroke="#00008c" stroke-width="1.1" />
<rect x="230.3" y="351.3" width="5.4" height="5.4" fill="#00008c" shape-rendering="crispEdges"/>
<rect x="228.8" y="349.8" width="8.4" height="8.4" fill="none" stroke="#00008c" stroke-width="0.9" stroke-dasharray="1.4,1.2" opacity="0.35"/>
<line x1="237.8" y1="362.58" x2="237.8" y2="367.42" stroke="#00008c" stroke-width="1.1" />
<line x1="234.6" y1="362.58" x2="241" y2="362.58" stroke="#00008c" stroke-width="1.1" />
<line x1="234.6" y1="367.42" x2="241" y2="367.42" stroke="#00008c" stroke-width="1.1" />
<line x1="235.4" y1="365" x2="240.2" y2="365" stroke="#00008c" stroke-width="1.1" />
<line x1="235.4" y1="362" x2="235.4" y2="368" stroke="#00008c" stroke-width="1.1" />
<line x1="240.2" y1="362" x2="240.2" y2="368" stroke="#00008c" stroke-width="1.1" />
<rect x="235.1" y="362.3" width="5.4" height="5.4" fill="#00008c" shape-rendering="crispEdges"/>
<rect x="233.6" y="360.8" width="8.4" height="8.4" fill="none" stroke="#00008c" stroke-width="0.9" stroke-dasharray="1.4,1.2" opacity="0.35"/>
<line x1="242.6" y1="361.83" x2="242.6" y2="366.97" stroke="#00008c" stroke-width="1.1" />
<line x1="239.4" y1="361.83" x2="245.8" y2="361.83" stroke="#00008c" stroke-width="1.1" />
<line x1="239.4" y1="366.97" x2="245.8" y2="366.97" stroke="#00008c" stroke-width="1.1" />
<line x1="240.2" y1="364.4" x2="245" y2="364.4" stroke="#00008c" stroke-width="1.1" />
<line x1="240.2" y1="361.4" x2="240.2" y2="367.4" stroke="#00008c" stroke-width="1.1" />
<line x1="245" y1="361.4" x2="245" y2="367.4" stroke="#00008c" stroke-width="1.1" />
<rect x="239.9" y="361.7" width="5.4" height="5.4" fill="#00008c" shape-rendering="crispEdges"/>
<rect x="238.4" y="360.2" width="8.4" height="8.4" fill="none" stroke="#00008c" stroke-width="0.9" stroke-dasharray="1.4,1.2" opacity="0.35"/>
<line x1="247.4" y1="356.99" x2="247.4" y2="363.81" stroke="#00008c" stroke-width="1.1" />
<line x1="244.2" y1="356.99" x2="250.6" y2="356.99" stroke="#00008c" stroke-width="1.1" />
<line x1="244.2" y1="363.81" x2="250.6" y2="363.81" stroke="#00008c" stroke-width="1.1" />
<line x1="245" y1="360.4" x2="249.8" y2="360.4" stroke="#00008c" stroke-width="1.1" />
<line x1="245" y1="357.4" x2="245" y2="363.4" stroke="#00008c" stroke-width="1.1" />
<line x1="249.8" y1="357.4" x2="249.8" y2="363.4" stroke="#00008c" stroke-width="1.1" />
<rect x="244.7" y="357.7" width="5.4" height="5.4" fill="#00008c" shape-rendering="crispEdges"/>
<rect x="243.2" y="356.2" width="8.4" height="8.4" fill="none" stroke="#00008c" stroke-width="0.9" stroke-dasharray="1.4,1.2" opacity="0.35"/>
<line x1="252.2" y1="363.47" x2="252.2" y2="367.93" stroke="#00008c" stroke-width="1.1" />
<line x1="249" y1="363.47" x2="255.4" y2="363.47" stroke="#00008c" stroke-width="1.1" />
<line x1="249" y1="367.93" x2="255.4" y2="367.93" stroke="#00008c" stroke-width="1.1" />
<line x1="249.8" y1="365.7" x2="254.6" y2="365.7" stroke="#00008c" stroke-width="1.1" />
<line x1="249.8" y1="362.7" x2="249.8" y2="368.7" stroke="#00008c" stroke-width="1.1" />
<line x1="254.6" y1="362.7" x2="254.6" y2="368.7" stroke="#00008c" stroke-width="1.1" />
<rect x="249.5" y="363" width="5.4" height="5.4" fill="#00008c" shape-rendering="crispEdges"/>
<rect x="248" y="361.5" width="8.4" height="8.4" fill="none" stroke="#00008c" stroke-width="0.9" stroke-dasharray="1.4,1.2" opacity="0.35"/>
<line x1="257" y1="364.37" x2="257" y2="368.43" stroke="#00008c" stroke-width="1.1" />
<line x1="253.8" y1="364.37" x2="260.2" y2="364.37" stroke="#00008c" stroke-width="1.1" />
<line x1="253.8" y1="368.43" x2="260.2" y2="368.43" stroke="#00008c" stroke-width="1.1" />
<line x1="254.6" y1="366.4" x2="259.4" y2="366.4" stroke="#00008c" stroke-width="1.1" />
<line x1="254.6" y1="363.4" x2="254.6" y2="369.4" stroke="#00008c" stroke-width="1.1" />
<line x1="259.4" y1="363.4" x2="259.4" y2="369.4" stroke="#00008c" stroke-width="1.1" />
<rect x="254.3" y="363.7" width="5.4" height="5.4" fill="#00008c" shape-rendering="crispEdges"/>
<rect x="252.8" y="362.2" width="8.4" height="8.4" fill="none" stroke="#00008c" stroke-width="0.9" stroke-dasharray="1.4,1.2" opacity="0.35"/>
<line x1="261.8" y1="363.47" x2="261.8" y2="367.93" stroke="#00008c" stroke-width="1.1" />
<line x1="258.6" y1="363.47" x2="265" y2="363.47" stroke="#00008c" stroke-width="1.1" />
<line x1="258.6" y1="367.93" x2="265" y2="367.93" stroke="#00008c" stroke-width="1.1" />
<line x1="259.4" y1="365.7" x2="264.2" y2="365.7" stroke="#00008c" stroke-width="1.1" />
<line x1="259.4" y1="362.7" x2="259.4" y2="368.7" stroke="#00008c" stroke-width="1.1" />
<line x1="264.2" y1="362.7" x2="264.2" y2="368.7" stroke="#00008c" stroke-width="1.1" />
<rect x="259.1" y="363" width="5.4" height="5.4" fill="#00008c" shape-rendering="crispEdges"/>
<rect x="257.6" y="361.5" width="8.4" height="8.4" fill="none" stroke="#00008c" stroke-width="0.9" stroke-dasharray="1.4,1.2" opacity="0.35"/>
<rect x="288" y="365" width="6.6" height="4.6" fill="#ff2200" clip-path="url(#cc)"/>
<rect x="298.3" y="366" width="5.2" height="3.6" fill="#f9df00" clip-path="url(#cc)"/>
<line x1="298.3" y1="367.5" x2="303.5" y2="367.5" stroke="#1a8c64" stroke-width="1.2" />
<text x="43.3" y="217.2" font-size="11.6" text-anchor="end" >140</text>
<text x="43.3" y="236.8" font-size="11.6" text-anchor="end" >120</text>
<text x="43.3" y="260.1" font-size="11.6" text-anchor="end" >100</text>
<text x="43.3" y="283.2" font-size="11.6" text-anchor="end" >80</text>
<text x="43.3" y="305.2" font-size="11.6" text-anchor="end" >60</text>
<text x="43.3" y="328.4" font-size="11.6" text-anchor="end" >40</text>
<text x="43.3" y="351.7" font-size="11.6" text-anchor="end" >20</text>
<text x="43.3" y="369.9" font-size="11.6" text-anchor="end" >0</text>
<text x="47.2" y="389.8" font-size="11.6" text-anchor="middle" >-8</text>
<text x="94.65" y="389.8" font-size="11.6" text-anchor="middle" >-7</text>
<text x="142.1" y="389.8" font-size="11.6" text-anchor="middle" >-6</text>
<text x="189.55" y="389.8" font-size="11.6" text-anchor="middle" >-5</text>
<text x="237" y="389.8" font-size="11.6" text-anchor="middle" >-4</text>
<text x="284.45" y="389.8" font-size="11.6" text-anchor="middle" >-3</text>
<text x="69" y="232.2" font-size="12.8" text-anchor="middle" >(c)</text>
<text x="187.4" y="405.4" font-size="11.5" text-anchor="middle" >Log(Fluence [erg/cm<tspan font-size="6.5" dy="-4">2</tspan><tspan dy="4">])</tspan></text>
<text x="0" y="0" font-size="11.6" text-anchor="middle" transform="translate(15.3,288.9) rotate(-90)">Number</text>
<path d="M338.77,364.3h8.83v6h-8.83zM347.6,366.5h8.83v3h-8.83zM356.44,366.5h8.83v3h-8.83zM365.26,364.5h8.83v4h-8.83zM374.09,362h8.83v6h-8.83zM382.92,357.7h8.83v7.4h-8.83zM391.75,335.3h8.83v15.4h-8.83zM400.58,321.4h8.83v16.8h-8.83zM409.41,331.6h8.83v28h-8.83zM418.25,321.7h8.83v13.6h-8.83zM427.07,295.4h8.83v16h-8.83zM435.9,275.4h8.83v24h-8.83zM444.74,241.9h8.83v27h-8.83zM453.56,245.7h8.83v19.4h-8.83zM462.39,245.6h8.83v26.4h-8.83zM471.22,249.7h8.83v36.6h-8.83zM480.05,280.5h8.83v18.4h-8.83zM488.88,285h8.83v32h-8.83zM497.71,317.5h8.83v19.6h-8.83zM506.54,316.7h8.83v19h-8.83zM515.38,334.8h8.83v14.8h-8.83zM524.2,357.1h8.83v11.2h-8.83zM533.03,360h8.83v8h-8.83zM541.87,363h8.83v6h-8.83zM550.69,365h8.83v4h-8.83zM559.52,366h8.83v4h-8.83z" fill="#f9df00" stroke="none" clip-path="url(#cd)" />
<path d="M338.77,369.2L338.77,367.3L347.6,367.3L347.6,368L356.43,368L356.44,368L365.26,368L365.26,366.5L374.09,366.5L374.09,365L382.92,365L382.92,361.4L391.75,361.4L391.75,343L400.58,343L400.58,329.8L409.41,329.8L409.41,345.6L418.24,345.6L418.25,328.5L427.07,328.5L427.07,303.4L435.9,303.4L435.9,287.4L444.73,287.4L444.74,255.4L453.56,255.4L453.56,255.4L462.39,255.4L462.39,258.8L471.22,258.8L471.22,268L480.05,268L480.05,289.7L488.88,289.7L488.88,301L497.71,301L497.71,327.3L506.54,327.3L506.54,326.2L515.38,326.2L515.38,342.2L524.21,342.2L524.2,362.7L533.03,362.7L533.03,364L541.87,364L541.87,366L550.7,366L550.69,367L559.52,367L559.52,368L568.36,368" stroke="#1a8c64" stroke-width="1.6" fill="none" clip-path="url(#cd)" stroke-linejoin="miter"/>
<path d="M338.77,368.5h8.83v1h-8.83zM347.6,368.5h8.83v1h-8.83zM356.44,368.5h8.83v1h-8.83zM365.26,368.5h8.83v1h-8.83zM374.09,367.5h8.83v2h-8.83zM382.92,365.5h8.83v4h-8.83zM391.75,362h8.83v6h-8.83zM400.58,355.3h8.83v8h-8.83zM409.41,353h8.83v10h-8.83zM418.25,347.6h8.83v12h-8.83zM427.07,342h8.83v16h-8.83zM435.9,324.2h8.83v20h-8.83zM444.74,317.3h8.83v20h-8.83zM453.56,315h8.83v20h-8.83zM462.39,313.9h8.83v20h-8.83zM471.22,317.3h8.83v20h-8.83zM480.05,321.9h8.83v20h-8.83zM488.88,335.5h8.83v18h-8.83zM497.71,346.7h8.83v16h-8.83zM506.54,351h8.83v12h-8.83zM515.38,357h8.83v10h-8.83zM524.2,362h8.83v8h-8.83zM533.03,365h8.83v6h-8.83zM541.87,368h8.83v2h-8.83zM550.69,368h8.83v2h-8.83zM559.52,368h8.83v2h-8.83z" fill="url(#hc)" stroke="none" clip-path="url(#cd)" />
<line x1="328" y1="369.2" x2="338.77" y2="369.2" stroke="#1f6fff" stroke-width="2" />
<path d="M338.77,369.2L338.77,369L347.6,369L347.6,369L356.43,369L356.44,369L365.26,369L365.26,369L374.09,369L374.09,368.5L382.92,368.5L382.92,367.5L391.75,367.5L391.75,365L400.58,365L400.58,359.3L409.41,359.3L409.41,358L418.24,358L418.25,353.6L427.07,353.6L427.07,350L435.9,350L435.9,334.2L444.73,334.2L444.74,327.3L453.56,327.3L453.56,325L462.39,325L462.39,323.9L471.22,323.9L471.22,327.3L480.05,327.3L480.05,331.9L488.88,331.9L488.88,344.5L497.71,344.5L497.71,354.7L506.54,354.7L506.54,357L515.38,357L515.38,362L524.21,362L524.2,366L533.03,366L533.03,368L541.87,368L541.87,369L550.7,369L550.69,369L559.52,369L559.52,369L568.36,369" stroke="#1f6fff" stroke-width="1.6" fill="none" clip-path="url(#cd)" stroke-linejoin="miter"/>
<line x1="568.36" y1="369.2" x2="608" y2="369.2" stroke="#1f6fff" stroke-width="2" />
<line x1="378.51" y1="366" x2="378.51" y2="370" stroke="#ff2200" stroke-width="1.1" />
<line x1="375.11" y1="366" x2="381.91" y2="366" stroke="#ff2200" stroke-width="1.1" />
<line x1="375.11" y1="370" x2="381.91" y2="370" stroke="#ff2200" stroke-width="1.1" />
<line x1="374.09" y1="368" x2="382.93" y2="368" stroke="#ff2200" stroke-width="1.1" />
<line x1="374.09" y1="365.4" x2="374.09" y2="370.6" stroke="#ff2200" stroke-width="1.1" />
<line x1="382.93" y1="365.4" x2="382.93" y2="370.6" stroke="#ff2200" stroke-width="1.1" />
<circle cx="378.51" cy="368" r="3.3" fill="#ff2200" stroke="none" stroke-width="0"/>
<line x1="387.34" y1="364.5" x2="387.34" y2="368.5" stroke="#ff2200" stroke-width="1.1" />
<line x1="383.94" y1="364.5" x2="390.74" y2="364.5" stroke="#ff2200" stroke-width="1.1" />
<line x1="383.94" y1="368.5" x2="390.74" y2="368.5" stroke="#ff2200" stroke-width="1.1" />
<line x1="382.92" y1="366.5" x2="391.75" y2="366.5" stroke="#ff2200" stroke-width="1.1" />
<line x1="382.92" y1="363.9" x2="382.92" y2="369.1" stroke="#ff2200" stroke-width="1.1" />
<line x1="391.75" y1="363.9" x2="391.75" y2="369.1" stroke="#ff2200" stroke-width="1.1" />
<circle cx="387.34" cy="366.5" r="3.3" fill="#ff2200" stroke="none" stroke-width="0"/>
<line x1="396.17" y1="353.02" x2="396.17" y2="360.98" stroke="#ff2200" stroke-width="1.1" />
<line x1="392.77" y1="353.02" x2="399.57" y2="353.02" stroke="#ff2200" stroke-width="1.1" />
<line x1="392.77" y1="360.98" x2="399.57" y2="360.98" stroke="#ff2200" stroke-width="1.1" />
<line x1="391.75" y1="357" x2="400.58" y2="357" stroke="#ff2200" stroke-width="1.1" />
<line x1="391.75" y1="354.4" x2="391.75" y2="359.6" stroke="#ff2200" stroke-width="1.1" />
<line x1="400.58" y1="354.4" x2="400.58" y2="359.6" stroke="#ff2200" stroke-width="1.1" />
<circle cx="396.17" cy="357" r="3.3" fill="#ff2200" stroke="none" stroke-width="0"/>
<line x1="405" y1="335.68" x2="405" y2="347.52" stroke="#ff2200" stroke-width="1.1" />
<line x1="401.6" y1="335.68" x2="408.4" y2="335.68" stroke="#ff2200" stroke-width="1.1" />
<line x1="401.6" y1="347.52" x2="408.4" y2="347.52" stroke="#ff2200" stroke-width="1.1" />
<line x1="400.58" y1="341.6" x2="409.42" y2="341.6" stroke="#ff2200" stroke-width="1.1" />
<line x1="400.58" y1="339" x2="400.58" y2="344.2" stroke="#ff2200" stroke-width="1.1" />
<line x1="409.42" y1="339" x2="409.42" y2="344.2" stroke="#ff2200" stroke-width="1.1" />
<circle cx="405" cy="341.6" r="3.3" fill="#ff2200" stroke="none" stroke-width="0"/>
<line x1="413.83" y1="330.06" x2="413.83" y2="342.94" stroke="#ff2200" stroke-width="1.1" />
<line x1="410.43" y1="330.06" x2="417.23" y2="330.06" stroke="#ff2200" stroke-width="1.1" />
<line x1="410.43" y1="342.94" x2="417.23" y2="342.94" stroke="#ff2200" stroke-width="1.1" />
<line x1="409.41" y1="336.5" x2="418.25" y2="336.5" stroke="#ff2200" stroke-width="1.1" />
<line x1="409.41" y1="333.9" x2="409.41" y2="339.1" stroke="#ff2200" stroke-width="1.1" />
<line x1="418.25" y1="333.9" x2="418.25" y2="339.1" stroke="#ff2200" stroke-width="1.1" />
<circle cx="413.83" cy="336.5" r="3.3" fill="#ff2200" stroke="none" stroke-width="0"/>
<line x1="422.66" y1="304.05" x2="422.66" y2="320.95" stroke="#ff2200" stroke-width="1.1" />
<line x1="419.26" y1="304.05" x2="426.06" y2="304.05" stroke="#ff2200" stroke-width="1.1" />
<line x1="419.26" y1="320.95" x2="426.06" y2="320.95" stroke="#ff2200" stroke-width="1.1" />
<line x1="418.24" y1="312.5" x2="427.07" y2="312.5" stroke="#ff2200" stroke-width="1.1" />
<line x1="418.24" y1="309.9" x2="418.24" y2="315.1" stroke="#ff2200" stroke-width="1.1" />
<line x1="427.07" y1="309.9" x2="427.07" y2="315.1" stroke="#ff2200" stroke-width="1.1" />
<circle cx="422.66" cy="312.5" r="3.3" fill="#ff2200" stroke="none" stroke-width="0"/>
<line x1="431.49" y1="285.24" x2="431.49" y2="304.56" stroke="#ff2200" stroke-width="1.1" />
<line x1="428.09" y1="285.24" x2="434.89" y2="285.24" stroke="#ff2200" stroke-width="1.1" />
<line x1="428.09" y1="304.56" x2="434.89" y2="304.56" stroke="#ff2200" stroke-width="1.1" />
<line x1="427.07" y1="294.9" x2="435.91" y2="294.9" stroke="#ff2200" stroke-width="1.1" />
<line x1="427.07" y1="292.3" x2="427.07" y2="297.5" stroke="#ff2200" stroke-width="1.1" />
<line x1="435.91" y1="292.3" x2="435.91" y2="297.5" stroke="#ff2200" stroke-width="1.1" />
<circle cx="431.49" cy="294.9" r="3.3" fill="#ff2200" stroke="none" stroke-width="0"/>
<line x1="440.32" y1="257.16" x2="440.32" y2="279.64" stroke="#ff2200" stroke-width="1.1" />
<line x1="436.92" y1="257.16" x2="443.72" y2="257.16" stroke="#ff2200" stroke-width="1.1" />
<line x1="436.92" y1="279.64" x2="443.72" y2="279.64" stroke="#ff2200" stroke-width="1.1" />
<line x1="435.9" y1="268.4" x2="444.74" y2="268.4" stroke="#ff2200" stroke-width="1.1" />
<line x1="435.9" y1="265.8" x2="435.9" y2="271" stroke="#ff2200" stroke-width="1.1" />
<line x1="444.74" y1="265.8" x2="444.74" y2="271" stroke="#ff2200" stroke-width="1.1" />
<circle cx="440.32" cy="268.4" r="3.3" fill="#ff2200" stroke="none" stroke-width="0"/>
<line x1="449.15" y1="250.62" x2="449.15" y2="273.78" stroke="#ff2200" stroke-width="1.1" />
<line x1="445.75" y1="250.62" x2="452.55" y2="250.62" stroke="#ff2200" stroke-width="1.1" />
<line x1="445.75" y1="273.78" x2="452.55" y2="273.78" stroke="#ff2200" stroke-width="1.1" />
<line x1="444.73" y1="262.2" x2="453.56" y2="262.2" stroke="#ff2200" stroke-width="1.1" />
<line x1="444.73" y1="259.6" x2="444.73" y2="264.8" stroke="#ff2200" stroke-width="1.1" />
<line x1="453.56" y1="259.6" x2="453.56" y2="264.8" stroke="#ff2200" stroke-width="1.1" />
<circle cx="449.15" cy="262.2" r="3.3" fill="#ff2200" stroke="none" stroke-width="0"/>
<line x1="457.98" y1="219.52" x2="457.98" y2="245.68" stroke="#ff2200" stroke-width="1.1" />
<line x1="454.58" y1="219.52" x2="461.38" y2="219.52" stroke="#ff2200" stroke-width="1.1" />
<line x1="454.58" y1="245.68" x2="461.38" y2="245.68" stroke="#ff2200" stroke-width="1.1" />
<line x1="453.56" y1="232.6" x2="462.39" y2="232.6" stroke="#ff2200" stroke-width="1.1" />
<line x1="453.56" y1="230" x2="453.56" y2="235.2" stroke="#ff2200" stroke-width="1.1" />
<line x1="462.39" y1="230" x2="462.39" y2="235.2" stroke="#ff2200" stroke-width="1.1" />
<circle cx="457.98" cy="232.6" r="3.3" fill="#ff2200" stroke="none" stroke-width="0"/>
<line x1="466.81" y1="247.03" x2="466.81" y2="270.57" stroke="#ff2200" stroke-width="1.1" />
<line x1="463.41" y1="247.03" x2="470.21" y2="247.03" stroke="#ff2200" stroke-width="1.1" />
<line x1="463.41" y1="270.57" x2="470.21" y2="270.57" stroke="#ff2200" stroke-width="1.1" />
<line x1="462.39" y1="258.8" x2="471.22" y2="258.8" stroke="#ff2200" stroke-width="1.1" />
<line x1="462.39" y1="256.2" x2="462.39" y2="261.4" stroke="#ff2200" stroke-width="1.1" />
<line x1="471.22" y1="256.2" x2="471.22" y2="261.4" stroke="#ff2200" stroke-width="1.1" />
<circle cx="466.81" cy="258.8" r="3.3" fill="#ff2200" stroke="none" stroke-width="0"/>
<line x1="475.64" y1="251.35" x2="475.64" y2="274.45" stroke="#ff2200" stroke-width="1.1" />
<line x1="472.24" y1="251.35" x2="479.04" y2="251.35" stroke="#ff2200" stroke-width="1.1" />
<line x1="472.24" y1="274.45" x2="479.04" y2="274.45" stroke="#ff2200" stroke-width="1.1" />
<line x1="471.22" y1="262.9" x2="480.06" y2="262.9" stroke="#ff2200" stroke-width="1.1" />
<line x1="471.22" y1="260.3" x2="471.22" y2="265.5" stroke="#ff2200" stroke-width="1.1" />
<line x1="480.06" y1="260.3" x2="480.06" y2="265.5" stroke="#ff2200" stroke-width="1.1" />
<circle cx="475.64" cy="262.9" r="3.3" fill="#ff2200" stroke="none" stroke-width="0"/>
<line x1="484.47" y1="262.01" x2="484.47" y2="283.99" stroke="#ff2200" stroke-width="1.1" />
<line x1="481.07" y1="262.01" x2="487.87" y2="262.01" stroke="#ff2200" stroke-width="1.1" />
<line x1="481.07" y1="283.99" x2="487.87" y2="283.99" stroke="#ff2200" stroke-width="1.1" />
<line x1="480.05" y1="273" x2="488.88" y2="273" stroke="#ff2200" stroke-width="1.1" />
<line x1="480.05" y1="270.4" x2="480.05" y2="275.6" stroke="#ff2200" stroke-width="1.1" />
<line x1="488.88" y1="270.4" x2="488.88" y2="275.6" stroke="#ff2200" stroke-width="1.1" />
<circle cx="484.47" cy="273" r="3.3" fill="#ff2200" stroke="none" stroke-width="0"/>
<line x1="493.3" y1="286.94" x2="493.3" y2="306.06" stroke="#ff2200" stroke-width="1.1" />
<line x1="489.9" y1="286.94" x2="496.7" y2="286.94" stroke="#ff2200" stroke-width="1.1" />
<line x1="489.9" y1="306.06" x2="496.7" y2="306.06" stroke="#ff2200" stroke-width="1.1" />
<line x1="488.88" y1="296.5" x2="497.71" y2="296.5" stroke="#ff2200" stroke-width="1.1" />
<line x1="488.88" y1="293.9" x2="488.88" y2="299.1" stroke="#ff2200" stroke-width="1.1" />
<line x1="497.71" y1="293.9" x2="497.71" y2="299.1" stroke="#ff2200" stroke-width="1.1" />
<circle cx="493.3" cy="296.5" r="3.3" fill="#ff2200" stroke="none" stroke-width="0"/>
<line x1="502.13" y1="311.91" x2="502.13" y2="327.69" stroke="#ff2200" stroke-width="1.1" />
<line x1="498.73" y1="311.91" x2="505.53" y2="311.91" stroke="#ff2200" stroke-width="1.1" />
<line x1="498.73" y1="327.69" x2="505.53" y2="327.69" stroke="#ff2200" stroke-width="1.1" />
<line x1="497.71" y1="319.8" x2="506.55" y2="319.8" stroke="#ff2200" stroke-width="1.1" />
<line x1="497.71" y1="317.2" x2="497.71" y2="322.4" stroke="#ff2200" stroke-width="1.1" />
<line x1="506.55" y1="317.2" x2="506.55" y2="322.4" stroke="#ff2200" stroke-width="1.1" />
<circle cx="502.13" cy="319.8" r="3.3" fill="#ff2200" stroke="none" stroke-width="0"/>
<line x1="510.96" y1="347.75" x2="510.96" y2="357.05" stroke="#ff2200" stroke-width="1.1" />
<line x1="507.56" y1="347.75" x2="514.36" y2="347.75" stroke="#ff2200" stroke-width="1.1" />
<line x1="507.56" y1="357.05" x2="514.36" y2="357.05" stroke="#ff2200" stroke-width="1.1" />
<line x1="506.54" y1="352.4" x2="515.38" y2="352.4" stroke="#ff2200" stroke-width="1.1" />
<line x1="506.54" y1="349.8" x2="506.54" y2="355" stroke="#ff2200" stroke-width="1.1" />
<line x1="515.38" y1="349.8" x2="515.38" y2="355" stroke="#ff2200" stroke-width="1.1" />
<circle cx="510.96" cy="352.4" r="3.3" fill="#ff2200" stroke="none" stroke-width="0"/>
<line x1="519.79" y1="353.83" x2="519.79" y2="361.57" stroke="#ff2200" stroke-width="1.1" />
<line x1="516.39" y1="353.83" x2="523.19" y2="353.83" stroke="#ff2200" stroke-width="1.1" />
<line x1="516.39" y1="361.57" x2="523.19" y2="361.57" stroke="#ff2200" stroke-width="1.1" />
<line x1="515.38" y1="357.7" x2="524.2" y2="357.7" stroke="#ff2200" stroke-width="1.1" />
<line x1="515.38" y1="355.1" x2="515.38" y2="360.3" stroke="#ff2200" stroke-width="1.1" />
<line x1="524.2" y1="355.1" x2="524.2" y2="360.3" stroke="#ff2200" stroke-width="1.1" />
<circle cx="519.79" cy="357.7" r="3.3" fill="#ff2200" stroke="none" stroke-width="0"/>
<line x1="528.62" y1="358.9" x2="528.62" y2="365.1" stroke="#ff2200" stroke-width="1.1" />
<line x1="525.22" y1="358.9" x2="532.02" y2="358.9" stroke="#ff2200" stroke-width="1.1" />
<line x1="525.22" y1="365.1" x2="532.02" y2="365.1" stroke="#ff2200" stroke-width="1.1" />
<line x1="524.21" y1="362" x2="533.03" y2="362" stroke="#ff2200" stroke-width="1.1" />
<line x1="524.21" y1="359.4" x2="524.21" y2="364.6" stroke="#ff2200" stroke-width="1.1" />
<line x1="533.03" y1="359.4" x2="533.03" y2="364.6" stroke="#ff2200" stroke-width="1.1" />
<circle cx="528.62" cy="362" r="3.3" fill="#ff2200" stroke="none" stroke-width="0"/>
<line x1="537.45" y1="363.85" x2="537.45" y2="368.15" stroke="#ff2200" stroke-width="1.1" />
<line x1="534.05" y1="363.85" x2="540.85" y2="363.85" stroke="#ff2200" stroke-width="1.1" />
<line x1="534.05" y1="368.15" x2="540.85" y2="368.15" stroke="#ff2200" stroke-width="1.1" />
<line x1="533.04" y1="366" x2="541.87" y2="366" stroke="#ff2200" stroke-width="1.1" />
<line x1="533.04" y1="363.4" x2="533.04" y2="368.6" stroke="#ff2200" stroke-width="1.1" />
<line x1="541.87" y1="363.4" x2="541.87" y2="368.6" stroke="#ff2200" stroke-width="1.1" />
<circle cx="537.45" cy="366" r="3.3" fill="#ff2200" stroke="none" stroke-width="0"/>
<line x1="546.28" y1="366" x2="546.28" y2="370" stroke="#ff2200" stroke-width="1.1" />
<line x1="542.88" y1="366" x2="549.68" y2="366" stroke="#ff2200" stroke-width="1.1" />
<line x1="542.88" y1="370" x2="549.68" y2="370" stroke="#ff2200" stroke-width="1.1" />
<line x1="541.87" y1="368" x2="550.69" y2="368" stroke="#ff2200" stroke-width="1.1" />
<line x1="541.87" y1="365.4" x2="541.87" y2="370.6" stroke="#ff2200" stroke-width="1.1" />
<line x1="550.69" y1="365.4" x2="550.69" y2="370.6" stroke="#ff2200" stroke-width="1.1" />
<circle cx="546.28" cy="368" r="3.3" fill="#ff2200" stroke="none" stroke-width="0"/>
<line x1="396.17" y1="365.3" x2="396.17" y2="369.3" stroke="#00008c" stroke-width="1.1" />
<line x1="392.97" y1="365.3" x2="399.37" y2="365.3" stroke="#00008c" stroke-width="1.1" />
<line x1="392.97" y1="369.3" x2="399.37" y2="369.3" stroke="#00008c" stroke-width="1.1" />
<line x1="391.75" y1="367.3" x2="400.58" y2="367.3" stroke="#00008c" stroke-width="1.1" />
<line x1="391.75" y1="364.3" x2="391.75" y2="370.3" stroke="#00008c" stroke-width="1.1" />
<line x1="400.58" y1="364.3" x2="400.58" y2="370.3" stroke="#00008c" stroke-width="1.1" />
<rect x="393.17" y="364.3" width="6" height="6" fill="#00008c" shape-rendering="crispEdges"/>
<rect x="391.67" y="362.8" width="9" height="9" fill="none" stroke="#00008c" stroke-width="0.9" stroke-dasharray="1.4,1.2" opacity="0.35"/>
<line x1="405" y1="351.29" x2="405" y2="359.71" stroke="#00008c" stroke-width="1.1" />
<line x1="401.8" y1="351.29" x2="408.2" y2="351.29" stroke="#00008c" stroke-width="1.1" />
<line x1="401.8" y1="359.71" x2="408.2" y2="359.71" stroke="#00008c" stroke-width="1.1" />
<line x1="400.58" y1="355.5" x2="409.42" y2="355.5" stroke="#00008c" stroke-width="1.1" />
<line x1="400.58" y1="352.5" x2="400.58" y2="358.5" stroke="#00008c" stroke-width="1.1" />
<line x1="409.42" y1="352.5" x2="409.42" y2="358.5" stroke="#00008c" stroke-width="1.1" />
<rect x="402" y="352.5" width="6" height="6" fill="#00008c" shape-rendering="crispEdges"/>
<rect x="400.5" y="351" width="9" height="9" fill="none" stroke="#00008c" stroke-width="0.9" stroke-dasharray="1.4,1.2" opacity="0.35"/>
<line x1="413.83" y1="351.29" x2="413.83" y2="359.71" stroke="#00008c" stroke-width="1.1" />
<line x1="410.63" y1="351.29" x2="417.03" y2="351.29" stroke="#00008c" stroke-width="1.1" />
<line x1="410.63" y1="359.71" x2="417.03" y2="359.71" stroke="#00008c" stroke-width="1.1" />
<line x1="409.41" y1="355.5" x2="418.25" y2="355.5" stroke="#00008c" stroke-width="1.1" />
<line x1="409.41" y1="352.5" x2="409.41" y2="358.5" stroke="#00008c" stroke-width="1.1" />
<line x1="418.25" y1="352.5" x2="418.25" y2="358.5" stroke="#00008c" stroke-width="1.1" />
<rect x="410.83" y="352.5" width="6" height="6" fill="#00008c" shape-rendering="crispEdges"/>
<rect x="409.33" y="351" width="9" height="9" fill="none" stroke="#00008c" stroke-width="0.9" stroke-dasharray="1.4,1.2" opacity="0.35"/>
<line x1="422.66" y1="340.9" x2="422.66" y2="351.7" stroke="#00008c" stroke-width="1.1" />
<line x1="419.46" y1="340.9" x2="425.86" y2="340.9" stroke="#00008c" stroke-width="1.1" />
<line x1="419.46" y1="351.7" x2="425.86" y2="351.7" stroke="#00008c" stroke-width="1.1" />
<line x1="418.24" y1="346.3" x2="427.07" y2="346.3" stroke="#00008c" stroke-width="1.1" />
<line x1="418.24" y1="343.3" x2="418.24" y2="349.3" stroke="#00008c" stroke-width="1.1" />
<line x1="427.07" y1="343.3" x2="427.07" y2="349.3" stroke="#00008c" stroke-width="1.1" />
<rect x="419.66" y="343.3" width="6" height="6" fill="#00008c" shape-rendering="crispEdges"/>
<rect x="418.16" y="341.8" width="9" height="9" fill="none" stroke="#00008c" stroke-width="0.9" stroke-dasharray="1.4,1.2" opacity="0.35"/>
<line x1="431.49" y1="347.75" x2="431.49" y2="357.05" stroke="#00008c" stroke-width="1.1" />
<line x1="428.29" y1="347.75" x2="434.69" y2="347.75" stroke="#00008c" stroke-width="1.1" />
<line x1="428.29" y1="357.05" x2="434.69" y2="357.05" stroke="#00008c" stroke-width="1.1" />
<line x1="427.07" y1="352.4" x2="435.91" y2="352.4" stroke="#00008c" stroke-width="1.1" />
<line x1="427.07" y1="349.4" x2="427.07" y2="355.4" stroke="#00008c" stroke-width="1.1" />
<line x1="435.91" y1="349.4" x2="435.91" y2="355.4" stroke="#00008c" stroke-width="1.1" />
<rect x="428.49" y="349.4" width="6" height="6" fill="#00008c" shape-rendering="crispEdges"/>
<rect x="426.99" y="347.9" width="9" height="9" fill="none" stroke="#00008c" stroke-width="0.9" stroke-dasharray="1.4,1.2" opacity="0.35"/>
<line x1="440.32" y1="338.89" x2="440.32" y2="350.11" stroke="#00008c" stroke-width="1.1" />
<line x1="437.12" y1="338.89" x2="443.52" y2="338.89" stroke="#00008c" stroke-width="1.1" />
<line x1="437.12" y1="350.11" x2="443.52" y2="350.11" stroke="#00008c" stroke-width="1.1" />
<line x1="435.9" y1="344.5" x2="444.74" y2="344.5" stroke="#00008c" stroke-width="1.1" />
<line x1="435.9" y1="341.5" x2="435.9" y2="347.5" stroke="#00008c" stroke-width="1.1" />
<line x1="444.74" y1="341.5" x2="444.74" y2="347.5" stroke="#00008c" stroke-width="1.1" />
<rect x="437.32" y="341.5" width="6" height="6" fill="#00008c" shape-rendering="crispEdges"/>
<rect x="435.82" y="340" width="9" height="9" fill="none" stroke="#00008c" stroke-width="0.9" stroke-dasharray="1.4,1.2" opacity="0.35"/>
<line x1="449.15" y1="313.85" x2="449.15" y2="329.35" stroke="#00008c" stroke-width="1.1" />
<line x1="445.95" y1="313.85" x2="452.35" y2="313.85" stroke="#00008c" stroke-width="1.1" />
<line x1="445.95" y1="329.35" x2="452.35" y2="329.35" stroke="#00008c" stroke-width="1.1" />
<line x1="444.73" y1="321.6" x2="453.56" y2="321.6" stroke="#00008c" stroke-width="1.1" />
<line x1="444.73" y1="318.6" x2="444.73" y2="324.6" stroke="#00008c" stroke-width="1.1" />
<line x1="453.56" y1="318.6" x2="453.56" y2="324.6" stroke="#00008c" stroke-width="1.1" />
<rect x="446.15" y="318.6" width="6" height="6" fill="#00008c" shape-rendering="crispEdges"/>
<rect x="444.65" y="317.1" width="9" height="9" fill="none" stroke="#00008c" stroke-width="0.9" stroke-dasharray="1.4,1.2" opacity="0.35"/>
<line x1="457.98" y1="315.58" x2="457.98" y2="330.82" stroke="#00008c" stroke-width="1.1" />
<line x1="454.78" y1="315.58" x2="461.18" y2="315.58" stroke="#00008c" stroke-width="1.1" />
<line x1="454.78" y1="330.82" x2="461.18" y2="330.82" stroke="#00008c" stroke-width="1.1" />
<line x1="453.56" y1="323.2" x2="462.39" y2="323.2" stroke="#00008c" stroke-width="1.1" />
<line x1="453.56" y1="320.2" x2="453.56" y2="326.2" stroke="#00008c" stroke-width="1.1" />
<line x1="462.39" y1="320.2" x2="462.39" y2="326.2" stroke="#00008c" stroke-width="1.1" />
<rect x="454.98" y="320.2" width="6" height="6" fill="#00008c" shape-rendering="crispEdges"/>
<rect x="453.48" y="318.7" width="9" height="9" fill="none" stroke="#00008c" stroke-width="0.9" stroke-dasharray="1.4,1.2" opacity="0.35"/>
<line x1="466.81" y1="305.98" x2="466.81" y2="322.62" stroke="#00008c" stroke-width="1.1" />
<line x1="463.61" y1="305.98" x2="470.01" y2="305.98" stroke="#00008c" stroke-width="1.1" />
<line x1="463.61" y1="322.62" x2="470.01" y2="322.62" stroke="#00008c" stroke-width="1.1" />
<line x1="462.39" y1="314.3" x2="471.22" y2="314.3" stroke="#00008c" stroke-width="1.1" />
<line x1="462.39" y1="311.3" x2="462.39" y2="317.3" stroke="#00008c" stroke-width="1.1" />
<line x1="471.22" y1="311.3" x2="471.22" y2="317.3" stroke="#00008c" stroke-width="1.1" />
<rect x="463.81" y="311.3" width="6" height="6" fill="#00008c" shape-rendering="crispEdges"/>
<rect x="462.31" y="309.8" width="9" height="9" fill="none" stroke="#00008c" stroke-width="0.9" stroke-dasharray="1.4,1.2" opacity="0.35"/>
<line x1="475.64" y1="304.05" x2="475.64" y2="320.95" stroke="#00008c" stroke-width="1.1" />
<line x1="472.44" y1="304.05" x2="478.84" y2="304.05" stroke="#00008c" stroke-width="1.1" />
<line x1="472.44" y1="320.95" x2="478.84" y2="320.95" stroke="#00008c" stroke-width="1.1" />
<line x1="471.22" y1="312.5" x2="480.06" y2="312.5" stroke="#00008c" stroke-width="1.1" />
<line x1="471.22" y1="309.5" x2="471.22" y2="315.5" stroke="#00008c" stroke-width="1.1" />
<line x1="480.06" y1="309.5" x2="480.06" y2="315.5" stroke="#00008c" stroke-width="1.1" />
<rect x="472.64" y="309.5" width="6" height="6" fill="#00008c" shape-rendering="crispEdges"/>
<rect x="471.14" y="308" width="9" height="9" fill="none" stroke="#00008c" stroke-width="0.9" stroke-dasharray="1.4,1.2" opacity="0.35"/>
<line x1="484.47" y1="316.34" x2="484.47" y2="331.46" stroke="#00008c" stroke-width="1.1" />
<line x1="481.27" y1="316.34" x2="487.67" y2="316.34" stroke="#00008c" stroke-width="1.1" />
<line x1="481.27" y1="331.46" x2="487.67" y2="331.46" stroke="#00008c" stroke-width="1.1" />
<line x1="480.05" y1="323.9" x2="488.88" y2="323.9" stroke="#00008c" stroke-width="1.1" />
<line x1="480.05" y1="320.9" x2="480.05" y2="326.9" stroke="#00008c" stroke-width="1.1" />
<line x1="488.88" y1="320.9" x2="488.88" y2="326.9" stroke="#00008c" stroke-width="1.1" />
<rect x="481.47" y="320.9" width="6" height="6" fill="#00008c" shape-rendering="crispEdges"/>
<rect x="479.97" y="319.4" width="9" height="9" fill="none" stroke="#00008c" stroke-width="0.9" stroke-dasharray="1.4,1.2" opacity="0.35"/>
<line x1="493.3" y1="333.8" x2="493.3" y2="346" stroke="#00008c" stroke-width="1.1" />
<line x1="490.1" y1="333.8" x2="496.5" y2="333.8" stroke="#00008c" stroke-width="1.1" />
<line x1="490.1" y1="346" x2="496.5" y2="346" stroke="#00008c" stroke-width="1.1" />
<line x1="488.88" y1="339.9" x2="497.71" y2="339.9" stroke="#00008c" stroke-width="1.1" />
<line x1="488.88" y1="336.9" x2="488.88" y2="342.9" stroke="#00008c" stroke-width="1.1" />
<line x1="497.71" y1="336.9" x2="497.71" y2="342.9" stroke="#00008c" stroke-width="1.1" />
<rect x="490.3" y="336.9" width="6" height="6" fill="#00008c" shape-rendering="crispEdges"/>
<rect x="488.8" y="335.4" width="9" height="9" fill="none" stroke="#00008c" stroke-width="0.9" stroke-dasharray="1.4,1.2" opacity="0.35"/>
<line x1="502.13" y1="339.56" x2="502.13" y2="350.64" stroke="#00008c" stroke-width="1.1" />
<line x1="498.93" y1="339.56" x2="505.33" y2="339.56" stroke="#00008c" stroke-width="1.1" />
<line x1="498.93" y1="350.64" x2="505.33" y2="350.64" stroke="#00008c" stroke-width="1.1" />
<line x1="497.71" y1="345.1" x2="506.55" y2="345.1" stroke="#00008c" stroke-width="1.1" />
<line x1="497.71" y1="342.1" x2="497.71" y2="348.1" stroke="#00008c" stroke-width="1.1" />
<line x1="506.55" y1="342.1" x2="506.55" y2="348.1" stroke="#00008c" stroke-width="1.1" />
<rect x="499.13" y="342.1" width="6" height="6" fill="#00008c" shape-rendering="crispEdges"/>
<rect x="497.63" y="340.6" width="9" height="9" fill="none" stroke="#00008c" stroke-width="0.9" stroke-dasharray="1.4,1.2" opacity="0.35"/>
<line x1="510.96" y1="354.41" x2="510.96" y2="361.99" stroke="#00008c" stroke-width="1.1" />
<line x1="507.76" y1="354.41" x2="514.16" y2="354.41" stroke="#00008c" stroke-width="1.1" />
<line x1="507.76" y1="361.99" x2="514.16" y2="361.99" stroke="#00008c" stroke-width="1.1" />
<line x1="506.54" y1="358.2" x2="515.38" y2="358.2" stroke="#00008c" stroke-width="1.1" />
<line x1="506.54" y1="355.2" x2="506.54" y2="361.2" stroke="#00008c" stroke-width="1.1" />
<line x1="515.38" y1="355.2" x2="515.38" y2="361.2" stroke="#00008c" stroke-width="1.1" />
<rect x="507.96" y="355.2" width="6" height="6" fill="#00008c" shape-rendering="crispEdges"/>
<rect x="506.46" y="353.7" width="9" height="9" fill="none" stroke="#00008c" stroke-width="0.9" stroke-dasharray="1.4,1.2" opacity="0.35"/>
<line x1="519.79" y1="361.21" x2="519.79" y2="366.59" stroke="#00008c" stroke-width="1.1" />
<line x1="516.59" y1="361.21" x2="522.99" y2="361.21" stroke="#00008c" stroke-width="1.1" />
<line x1="516.59" y1="366.59" x2="522.99" y2="366.59" stroke="#00008c" stroke-width="1.1" />
<line x1="515.38" y1="363.9" x2="524.2" y2="363.9" stroke="#00008c" stroke-width="1.1" />
<line x1="515.38" y1="360.9" x2="515.38" y2="366.9" stroke="#00008c" stroke-width="1.1" />
<line x1="524.2" y1="360.9" x2="524.2" y2="366.9" stroke="#00008c" stroke-width="1.1" />
<rect x="516.79" y="360.9" width="6" height="6" fill="#00008c" shape-rendering="crispEdges"/>
<rect x="515.29" y="359.4" width="9" height="9" fill="none" stroke="#00008c" stroke-width="0.9" stroke-dasharray="1.4,1.2" opacity="0.35"/>
<line x1="528.62" y1="363.85" x2="528.62" y2="368.15" stroke="#00008c" stroke-width="1.1" />
<line x1="525.42" y1="363.85" x2="531.82" y2="363.85" stroke="#00008c" stroke-width="1.1" />
<line x1="525.42" y1="368.15" x2="531.82" y2="368.15" stroke="#00008c" stroke-width="1.1" />
<line x1="524.21" y1="366" x2="533.03" y2="366" stroke="#00008c" stroke-width="1.1" />
<line x1="524.21" y1="363" x2="524.21" y2="369" stroke="#00008c" stroke-width="1.1" />
<line x1="533.03" y1="363" x2="533.03" y2="369" stroke="#00008c" stroke-width="1.1" />
<rect x="525.62" y="363" width="6" height="6" fill="#00008c" shape-rendering="crispEdges"/>
<rect x="524.12" y="361.5" width="9" height="9" fill="none" stroke="#00008c" stroke-width="0.9" stroke-dasharray="1.4,1.2" opacity="0.35"/>
<line x1="537.45" y1="366" x2="537.45" y2="370" stroke="#00008c" stroke-width="1.1" />
<line x1="534.25" y1="366" x2="540.65" y2="366" stroke="#00008c" stroke-width="1.1" />
<line x1="534.25" y1="370" x2="540.65" y2="370" stroke="#00008c" stroke-width="1.1" />
<line x1="533.04" y1="368" x2="541.87" y2="368" stroke="#00008c" stroke-width="1.1" />
<line x1="533.04" y1="365" x2="533.04" y2="371" stroke="#00008c" stroke-width="1.1" />
<line x1="541.87" y1="365" x2="541.87" y2="371" stroke="#00008c" stroke-width="1.1" />
<rect x="534.45" y="365" width="6" height="6" fill="#00008c" shape-rendering="crispEdges"/>
<rect x="532.95" y="363.5" width="9" height="9" fill="none" stroke="#00008c" stroke-width="0.9" stroke-dasharray="1.4,1.2" opacity="0.35"/>
<text x="379.4" y="389.3" font-size="11.6" text-anchor="middle" >0</text>
<text x="436.3" y="389.3" font-size="11.6" text-anchor="middle" >1</text>
<text x="493.2" y="389.3" font-size="11.6" text-anchor="middle" >2</text>
<text x="550.1" y="389.3" font-size="11.6" text-anchor="middle" >3</text>
<text x="607" y="389.3" font-size="11.6" text-anchor="middle" >4</text>
<text x="346.4" y="231.6" font-size="12.8" text-anchor="middle" >(b)</text>
<text x="467.6" y="405.6" font-size="11.5" text-anchor="middle" >Log(T90 [s])</text>
<rect x="47.7" y="542.1" width="20.8" height="23.6" fill="#d9d9d9" clip-path="url(#ce)"/>
<rect x="68.5" y="472" width="20.8" height="48" fill="#d9d9d9" clip-path="url(#ce)"/>
<rect x="89.3" y="484.1" width="20.8" height="23.4" fill="#d9d9d9" clip-path="url(#ce)"/>
<rect x="110.1" y="494" width="20.8" height="33" fill="#d9d9d9" clip-path="url(#ce)"/>
<rect x="130.9" y="523.5" width="20.8" height="39" fill="#d9d9d9" clip-path="url(#ce)"/>
<rect x="151.7" y="557.6" width="20.8" height="14.8" fill="#d9d9d9" clip-path="url(#ce)"/>
<rect x="172.5" y="561" width="20.8" height="10.6" fill="#d9d9d9" clip-path="url(#ce)"/>
<rect x="193.3" y="565" width="20.8" height="10" fill="#d9d9d9" clip-path="url(#ce)"/>
<rect x="214.1" y="570" width="20.8" height="6" fill="#d9d9d9" clip-path="url(#ce)"/>
<rect x="234.9" y="573" width="20.8" height="4" fill="#d9d9d9" clip-path="url(#ce)"/>
<rect x="255.7" y="574.5" width="20.8" height="3" fill="#d9d9d9" clip-path="url(#ce)"/>
<rect x="276.5" y="575" width="20.8" height="2" fill="#d9d9d9" clip-path="url(#ce)"/>
<rect x="297.3" y="575" width="20.8" height="2" fill="#d9d9d9" clip-path="url(#ce)"/>
<rect x="47.7" y="557.4" width="20.8" height="16.4" fill="url(#hk)" clip-path="url(#ce)"/>
<rect x="68.5" y="501" width="20.8" height="37" fill="url(#hk)" clip-path="url(#ce)"/>
<rect x="89.3" y="460.4" width="20.8" height="43.2" fill="url(#hk)" clip-path="url(#ce)"/>
<rect x="110.1" y="454.7" width="20.8" height="39.2" fill="url(#hk)" clip-path="url(#ce)"/>
<rect x="130.9" y="486.7" width="20.8" height="34.4" fill="url(#hk)" clip-path="url(#ce)"/>
<rect x="151.7" y="520.9" width="20.8" height="29.4" fill="url(#hk)" clip-path="url(#ce)"/>
<rect x="172.5" y="538.5" width="20.8" height="22" fill="url(#hk)" clip-path="url(#ce)"/>
<rect x="193.3" y="552" width="20.8" height="18" fill="url(#hk)" clip-path="url(#ce)"/>
<rect x="214.1" y="556.9" width="20.8" height="18" fill="url(#hk)" clip-path="url(#ce)"/>
<rect x="234.9" y="564" width="20.8" height="12" fill="url(#hk)" clip-path="url(#ce)"/>
<rect x="255.7" y="567" width="20.8" height="10" fill="url(#hk)" clip-path="url(#ce)"/>
<rect x="276.5" y="569" width="20.8" height="8" fill="url(#hk)" clip-path="url(#ce)"/>
<rect x="297.3" y="571" width="20.8" height="6" fill="url(#hk)" clip-path="url(#ce)"/>
<path d="M47.7,577L47.7,565.6L68.5,565.6L68.5,519.5L89.3,519.5L89.3,482L110.1,482L110.1,474.3L130.9,474.3L130.9,503.9L151.7,503.9L151.7,535.6L172.5,535.6L172.5,549.5L193.3,549.5L193.3,561L214.1,561L214.1,565.9L234.9,565.9L234.9,570L255.7,570L255.7,572L276.5,572L276.5,573L297.3,573L297.3,574L318.1,574L318.1,576L338.9,576" stroke="#555555" stroke-width="1.5" fill="none" clip-path="url(#ce)" stroke-linejoin="miter"/>
<path d="M47.7,577L47.7,553.4L68.5,553.4L68.5,496L89.3,496L89.3,487.3L110.1,487.3L110.1,510.1L130.9,510.1L130.9,550.3L151.7,550.3L151.7,565L172.5,565L172.5,568.3L193.3,568.3L193.3,573L214.1,573L214.1,575.5L234.9,575.5" stroke="#ccff00" stroke-width="1.3" fill="none" clip-path="url(#ce)" stroke-linejoin="miter"/>
<g clip-path="url(#ce)">
<line x1="58.1" y1="536.2" x2="58.1" y2="546.2" stroke="#ff8c00" stroke-width="1.3" />
<line x1="54.9" y1="536.2" x2="61.3" y2="536.2" stroke="#ff8c00" stroke-width="1.3" />
<line x1="54.9" y1="546.2" x2="61.3" y2="546.2" stroke="#ff8c00" stroke-width="1.3" />
<line x1="47.7" y1="541.2" x2="68.5" y2="541.2" stroke="#ff8c00" stroke-width="1.3" />
<line x1="47.7" y1="541.2" x2="47.7" y2="541.2" stroke="#ff8c00" stroke-width="1.3" />
<line x1="68.5" y1="541.2" x2="68.5" y2="541.2" stroke="#ff8c00" stroke-width="1.3" />
<circle cx="58.1" cy="541.2" r="3.6" fill="#ff8c00" stroke="none" stroke-width="0"/>
</g>
<g clip-path="url(#ce)">
<line x1="78.9" y1="478.3" x2="78.9" y2="514.3" stroke="#ff8c00" stroke-width="1.3" />
<line x1="75.7" y1="478.3" x2="82.1" y2="478.3" stroke="#ff8c00" stroke-width="1.3" />
<line x1="75.7" y1="514.3" x2="82.1" y2="514.3" stroke="#ff8c00" stroke-width="1.3" />
<line x1="68.5" y1="496.3" x2="89.3" y2="496.3" stroke="#ff8c00" stroke-width="1.3" />
<line x1="68.5" y1="496.3" x2="68.5" y2="496.3" stroke="#ff8c00" stroke-width="1.3" />
<line x1="89.3" y1="496.3" x2="89.3" y2="496.3" stroke="#ff8c00" stroke-width="1.3" />
<circle cx="78.9" cy="496.3" r="3.6" fill="#ff8c00" stroke="none" stroke-width="0"/>
</g>
<g clip-path="url(#ce)">
<line x1="99.7" y1="496.3" x2="99.7" y2="528.9" stroke="#ff8c00" stroke-width="1.3" />
<line x1="96.5" y1="496.3" x2="102.9" y2="496.3" stroke="#ff8c00" stroke-width="1.3" />
<line x1="96.5" y1="528.9" x2="102.9" y2="528.9" stroke="#ff8c00" stroke-width="1.3" />
<line x1="89.3" y1="512.6" x2="110.1" y2="512.6" stroke="#ff8c00" stroke-width="1.3" />
<line x1="89.3" y1="512.6" x2="89.3" y2="512.6" stroke="#ff8c00" stroke-width="1.3" />
<line x1="110.1" y1="512.6" x2="110.1" y2="512.6" stroke="#ff8c00" stroke-width="1.3" />
<circle cx="99.7" cy="512.6" r="3.6" fill="#ff8c00" stroke="none" stroke-width="0"/>
</g>
<g clip-path="url(#ce)">
<line x1="120.5" y1="491.9" x2="120.5" y2="525.1" stroke="#ff8c00" stroke-width="1.3" />
<line x1="117.3" y1="491.9" x2="123.7" y2="491.9" stroke="#ff8c00" stroke-width="1.3" />
<line x1="117.3" y1="525.1" x2="123.7" y2="525.1" stroke="#ff8c00" stroke-width="1.3" />
<line x1="110.1" y1="508.5" x2="130.9" y2="508.5" stroke="#ff8c00" stroke-width="1.3" />
<line x1="110.1" y1="508.5" x2="110.1" y2="508.5" stroke="#ff8c00" stroke-width="1.3" />
<line x1="130.9" y1="508.5" x2="130.9" y2="508.5" stroke="#ff8c00" stroke-width="1.3" />
<circle cx="120.5" cy="508.5" r="3.6" fill="#ff8c00" stroke="none" stroke-width="0"/>
</g>
<g clip-path="url(#ce)">
<line x1="141.3" y1="522.8" x2="141.3" y2="550.2" stroke="#ff8c00" stroke-width="1.3" />
<line x1="138.1" y1="522.8" x2="144.5" y2="522.8" stroke="#ff8c00" stroke-width="1.3" />
<line x1="138.1" y1="550.2" x2="144.5" y2="550.2" stroke="#ff8c00" stroke-width="1.3" />
<line x1="130.9" y1="536.5" x2="151.7" y2="536.5" stroke="#ff8c00" stroke-width="1.3" />
<line x1="130.9" y1="536.5" x2="130.9" y2="536.5" stroke="#ff8c00" stroke-width="1.3" />
<line x1="151.7" y1="536.5" x2="151.7" y2="536.5" stroke="#ff8c00" stroke-width="1.3" />
<circle cx="141.3" cy="536.5" r="3.6" fill="#ff8c00" stroke="none" stroke-width="0"/>
</g>
<g clip-path="url(#ce)">
<line x1="162.1" y1="558.2" x2="162.1" y2="572.2" stroke="#ff8c00" stroke-width="1.3" />
<line x1="158.9" y1="558.2" x2="165.3" y2="558.2" stroke="#ff8c00" stroke-width="1.3" />
<line x1="158.9" y1="572.2" x2="165.3" y2="572.2" stroke="#ff8c00" stroke-width="1.3" />
<line x1="151.7" y1="565.2" x2="172.5" y2="565.2" stroke="#ff8c00" stroke-width="1.3" />
<line x1="151.7" y1="565.2" x2="151.7" y2="565.2" stroke="#ff8c00" stroke-width="1.3" />
<line x1="172.5" y1="565.2" x2="172.5" y2="565.2" stroke="#ff8c00" stroke-width="1.3" />
<circle cx="162.1" cy="565.2" r="3.6" fill="#ff8c00" stroke="none" stroke-width="0"/>
</g>
<g clip-path="url(#ce)">
<line x1="182.9" y1="570" x2="182.9" y2="578" stroke="#ff8c00" stroke-width="1.3" />
<line x1="179.7" y1="570" x2="186.1" y2="570" stroke="#ff8c00" stroke-width="1.3" />
<line x1="179.7" y1="578" x2="186.1" y2="578" stroke="#ff8c00" stroke-width="1.3" />
<line x1="172.5" y1="574" x2="193.3" y2="574" stroke="#ff8c00" stroke-width="1.3" />
<line x1="172.5" y1="574" x2="172.5" y2="574" stroke="#ff8c00" stroke-width="1.3" />
<line x1="193.3" y1="574" x2="193.3" y2="574" stroke="#ff8c00" stroke-width="1.3" />
<circle cx="182.9" cy="574" r="3.6" fill="#ff8c00" stroke="none" stroke-width="0"/>
</g>
<g clip-path="url(#ce)">
<line x1="203.7" y1="569.7" x2="203.7" y2="576.7" stroke="#ff8c00" stroke-width="1.3" />
<line x1="200.5" y1="569.7" x2="206.9" y2="569.7" stroke="#ff8c00" stroke-width="1.3" />
<line x1="200.5" y1="576.7" x2="206.9" y2="576.7" stroke="#ff8c00" stroke-width="1.3" />
<line x1="193.3" y1="573.2" x2="214.1" y2="573.2" stroke="#ff8c00" stroke-width="1.3" />
<line x1="193.3" y1="573.2" x2="193.3" y2="573.2" stroke="#ff8c00" stroke-width="1.3" />
<line x1="214.1" y1="573.2" x2="214.1" y2="573.2" stroke="#ff8c00" stroke-width="1.3" />
<circle cx="203.7" cy="573.2" r="3.6" fill="#ff8c00" stroke="none" stroke-width="0"/>
</g>
<g clip-path="url(#ce)">
<line x1="224.5" y1="569" x2="224.5" y2="575" stroke="#ff8c00" stroke-width="1.3" />
<line x1="221.3" y1="569" x2="227.7" y2="569" stroke="#ff8c00" stroke-width="1.3" />
<line x1="221.3" y1="575" x2="227.7" y2="575" stroke="#ff8c00" stroke-width="1.3" />
<line x1="214.1" y1="572" x2="234.9" y2="572" stroke="#ff8c00" stroke-width="1.3" />
<line x1="214.1" y1="572" x2="214.1" y2="572" stroke="#ff8c00" stroke-width="1.3" />
<line x1="234.9" y1="572" x2="234.9" y2="572" stroke="#ff8c00" stroke-width="1.3" />
<circle cx="224.5" cy="572" r="3.6" fill="#ff8c00" stroke="none" stroke-width="0"/>
</g>
<g clip-path="url(#ce)">
<line x1="245.3" y1="573" x2="245.3" y2="577" stroke="#ff8c00" stroke-width="1.3" />
<line x1="242.1" y1="573" x2="248.5" y2="573" stroke="#ff8c00" stroke-width="1.3" />
<line x1="242.1" y1="577" x2="248.5" y2="577" stroke="#ff8c00" stroke-width="1.3" />
<line x1="234.9" y1="575" x2="255.7" y2="575" stroke="#ff8c00" stroke-width="1.3" />
<line x1="234.9" y1="575" x2="234.9" y2="575" stroke="#ff8c00" stroke-width="1.3" />
<line x1="255.7" y1="575" x2="255.7" y2="575" stroke="#ff8c00" stroke-width="1.3" />
<circle cx="245.3" cy="575" r="3.6" fill="#ff8c00" stroke="none" stroke-width="0"/>
</g>
<g clip-path="url(#ce)">
<line x1="266.1" y1="573" x2="266.1" y2="577" stroke="#ff8c00" stroke-width="1.3" />
<line x1="262.9" y1="573" x2="269.3" y2="573" stroke="#ff8c00" stroke-width="1.3" />
<line x1="262.9" y1="577" x2="269.3" y2="577" stroke="#ff8c00" stroke-width="1.3" />
<line x1="255.7" y1="575" x2="276.5" y2="575" stroke="#ff8c00" stroke-width="1.3" />
<line x1="255.7" y1="575" x2="255.7" y2="575" stroke="#ff8c00" stroke-width="1.3" />
<line x1="276.5" y1="575" x2="276.5" y2="575" stroke="#ff8c00" stroke-width="1.3" />
<circle cx="266.1" cy="575" r="3.6" fill="#ff8c00" stroke="none" stroke-width="0"/>
</g>
<g clip-path="url(#ce)">
<line x1="286.9" y1="573" x2="286.9" y2="577" stroke="#ff8c00" stroke-width="1.3" />
<line x1="283.7" y1="573" x2="290.1" y2="573" stroke="#ff8c00" stroke-width="1.3" />
<line x1="283.7" y1="577" x2="290.1" y2="577" stroke="#ff8c00" stroke-width="1.3" />
<line x1="276.5" y1="575" x2="297.3" y2="575" stroke="#ff8c00" stroke-width="1.3" />
<line x1="276.5" y1="575" x2="276.5" y2="575" stroke="#ff8c00" stroke-width="1.3" />
<line x1="297.3" y1="575" x2="297.3" y2="575" stroke="#ff8c00" stroke-width="1.3" />
<circle cx="286.9" cy="575" r="3.6" fill="#ff8c00" stroke="none" stroke-width="0"/>
</g>
<g clip-path="url(#ce)">
<line x1="58.1" y1="528.7" x2="58.1" y2="553.7" stroke="#1f6fd6" stroke-width="1.4" />
<line x1="54.7" y1="528.7" x2="61.5" y2="528.7" stroke="#1f6fd6" stroke-width="1.4" />
<line x1="54.7" y1="553.7" x2="61.5" y2="553.7" stroke="#1f6fd6" stroke-width="1.4" />
<line x1="47.7" y1="541.2" x2="68.5" y2="541.2" stroke="#1f6fd6" stroke-width="1.4" />
<line x1="47.7" y1="537.8" x2="47.7" y2="544.6" stroke="#1f6fd6" stroke-width="1.4" />
<line x1="68.5" y1="537.8" x2="68.5" y2="544.6" stroke="#1f6fd6" stroke-width="1.4" />
<polygon points="58.1,535.6 59.48,539.3 63.43,539.47 60.34,541.93 61.39,545.73 58.1,543.55 54.81,545.73 55.86,541.93 52.77,539.47 56.72,539.3" fill="none" stroke="#1f6fd6" stroke-width="1.4"/>
</g>
<g clip-path="url(#ce)">
<line x1="78.9" y1="473.4" x2="78.9" y2="511" stroke="#1f6fd6" stroke-width="1.4" />
<line x1="75.5" y1="473.4" x2="82.3" y2="473.4" stroke="#1f6fd6" stroke-width="1.4" />
<line x1="75.5" y1="511" x2="82.3" y2="511" stroke="#1f6fd6" stroke-width="1.4" />
<line x1="68.5" y1="492.2" x2="89.3" y2="492.2" stroke="#1f6fd6" stroke-width="1.4" />
<line x1="68.5" y1="488.8" x2="68.5" y2="495.6" stroke="#1f6fd6" stroke-width="1.4" />
<line x1="89.3" y1="488.8" x2="89.3" y2="495.6" stroke="#1f6fd6" stroke-width="1.4" />
<polygon points="78.9,486.6 80.28,490.3 84.23,490.47 81.14,492.93 82.19,496.73 78.9,494.55 75.61,496.73 76.66,492.93 73.57,490.47 77.52,490.3" fill="none" stroke="#1f6fd6" stroke-width="1.4"/>
</g>
<g clip-path="url(#ce)">
<line x1="99.7" y1="463.6" x2="99.7" y2="502.8" stroke="#1f6fd6" stroke-width="1.4" />
<line x1="96.3" y1="463.6" x2="103.1" y2="463.6" stroke="#1f6fd6" stroke-width="1.4" />
<line x1="96.3" y1="502.8" x2="103.1" y2="502.8" stroke="#1f6fd6" stroke-width="1.4" />
<line x1="89.3" y1="483.2" x2="110.1" y2="483.2" stroke="#1f6fd6" stroke-width="1.4" />
<line x1="89.3" y1="479.8" x2="89.3" y2="486.6" stroke="#1f6fd6" stroke-width="1.4" />
<line x1="110.1" y1="479.8" x2="110.1" y2="486.6" stroke="#1f6fd6" stroke-width="1.4" />
<polygon points="99.7,477.6 101.08,481.3 105.03,481.47 101.94,483.93 102.99,487.73 99.7,485.55 96.41,487.73 97.46,483.93 94.37,481.47 98.32,481.3" fill="none" stroke="#1f6fd6" stroke-width="1.4"/>
</g>
<g clip-path="url(#ce)">
<line x1="120.5" y1="445.9" x2="120.5" y2="487.9" stroke="#1f6fd6" stroke-width="1.4" />
<line x1="117.1" y1="445.9" x2="123.9" y2="445.9" stroke="#1f6fd6" stroke-width="1.4" />
<line x1="117.1" y1="487.9" x2="123.9" y2="487.9" stroke="#1f6fd6" stroke-width="1.4" />
<line x1="110.1" y1="466.9" x2="130.9" y2="466.9" stroke="#1f6fd6" stroke-width="1.4" />
<line x1="110.1" y1="463.5" x2="110.1" y2="470.3" stroke="#1f6fd6" stroke-width="1.4" />
<line x1="130.9" y1="463.5" x2="130.9" y2="470.3" stroke="#1f6fd6" stroke-width="1.4" />
<polygon points="120.5,461.3 121.88,465 125.83,465.17 122.74,467.63 123.79,471.43 120.5,469.25 117.21,471.43 118.26,467.63 115.17,465.17 119.12,465" fill="none" stroke="#1f6fd6" stroke-width="1.4"/>
</g>
<g clip-path="url(#ce)">
<line x1="141.3" y1="510.1" x2="141.3" y2="539.5" stroke="#1f6fd6" stroke-width="1.4" />
<line x1="137.9" y1="510.1" x2="144.7" y2="510.1" stroke="#1f6fd6" stroke-width="1.4" />
<line x1="137.9" y1="539.5" x2="144.7" y2="539.5" stroke="#1f6fd6" stroke-width="1.4" />
<line x1="130.9" y1="524.8" x2="151.7" y2="524.8" stroke="#1f6fd6" stroke-width="1.4" />
<line x1="130.9" y1="521.4" x2="130.9" y2="528.2" stroke="#1f6fd6" stroke-width="1.4" />
<line x1="151.7" y1="521.4" x2="151.7" y2="528.2" stroke="#1f6fd6" stroke-width="1.4" />
<polygon points="141.3,519.2 142.68,522.9 146.63,523.07 143.54,525.53 144.59,529.33 141.3,527.15 138.01,529.33 139.06,525.53 135.97,523.07 139.92,522.9" fill="none" stroke="#1f6fd6" stroke-width="1.4"/>
</g>
<g clip-path="url(#ce)">
<line x1="162.1" y1="524.2" x2="162.1" y2="550.2" stroke="#1f6fd6" stroke-width="1.4" />
<line x1="158.7" y1="524.2" x2="165.5" y2="524.2" stroke="#1f6fd6" stroke-width="1.4" />
<line x1="158.7" y1="550.2" x2="165.5" y2="550.2" stroke="#1f6fd6" stroke-width="1.4" />
<line x1="151.7" y1="537.2" x2="172.5" y2="537.2" stroke="#1f6fd6" stroke-width="1.4" />
<line x1="151.7" y1="533.8" x2="151.7" y2="540.6" stroke="#1f6fd6" stroke-width="1.4" />
<line x1="172.5" y1="533.8" x2="172.5" y2="540.6" stroke="#1f6fd6" stroke-width="1.4" />
<polygon points="162.1,531.6 163.48,535.3 167.43,535.47 164.34,537.93 165.39,541.73 162.1,539.55 158.81,541.73 159.86,537.93 156.77,535.47 160.72,535.3" fill="none" stroke="#1f6fd6" stroke-width="1.4"/>
</g>
<g clip-path="url(#ce)">
<line x1="182.9" y1="564" x2="182.9" y2="576" stroke="#1f6fd6" stroke-width="1.4" />
<line x1="179.5" y1="564" x2="186.3" y2="564" stroke="#1f6fd6" stroke-width="1.4" />
<line x1="179.5" y1="576" x2="186.3" y2="576" stroke="#1f6fd6" stroke-width="1.4" />
<line x1="172.5" y1="570" x2="193.3" y2="570" stroke="#1f6fd6" stroke-width="1.4" />
<line x1="172.5" y1="566.6" x2="172.5" y2="573.4" stroke="#1f6fd6" stroke-width="1.4" />
<line x1="193.3" y1="566.6" x2="193.3" y2="573.4" stroke="#1f6fd6" stroke-width="1.4" />
<polygon points="182.9,564.4 184.28,568.1 188.23,568.27 185.14,570.73 186.19,574.53 182.9,572.35 179.61,574.53 180.66,570.73 177.57,568.27 181.52,568.1" fill="none" stroke="#1f6fd6" stroke-width="1.4"/>
</g>
<g clip-path="url(#ce)">
<line x1="203.7" y1="549.1" x2="203.7" y2="567.9" stroke="#1f6fd6" stroke-width="1.4" />
<line x1="200.3" y1="549.1" x2="207.1" y2="549.1" stroke="#1f6fd6" stroke-width="1.4" />
<line x1="200.3" y1="567.9" x2="207.1" y2="567.9" stroke="#1f6fd6" stroke-width="1.4" />
<line x1="193.3" y1="558.5" x2="214.1" y2="558.5" stroke="#1f6fd6" stroke-width="1.4" />
<line x1="193.3" y1="555.1" x2="193.3" y2="561.9" stroke="#1f6fd6" stroke-width="1.4" />
<line x1="214.1" y1="555.1" x2="214.1" y2="561.9" stroke="#1f6fd6" stroke-width="1.4" />
<polygon points="203.7,552.9 205.08,556.6 209.03,556.77 205.94,559.23 206.99,563.03 203.7,560.85 200.41,563.03 201.46,559.23 198.37,556.77 202.32,556.6" fill="none" stroke="#1f6fd6" stroke-width="1.4"/>
</g>
<g clip-path="url(#ce)">
<line x1="224.5" y1="564.3" x2="224.5" y2="577.3" stroke="#1f6fd6" stroke-width="1.4" />
<line x1="221.1" y1="564.3" x2="227.9" y2="564.3" stroke="#1f6fd6" stroke-width="1.4" />
<line x1="221.1" y1="577.3" x2="227.9" y2="577.3" stroke="#1f6fd6" stroke-width="1.4" />
<line x1="214.1" y1="570.8" x2="234.9" y2="570.8" stroke="#1f6fd6" stroke-width="1.4" />
<line x1="214.1" y1="567.4" x2="214.1" y2="574.2" stroke="#1f6fd6" stroke-width="1.4" />
<line x1="234.9" y1="567.4" x2="234.9" y2="574.2" stroke="#1f6fd6" stroke-width="1.4" />
<polygon points="224.5,565.2 225.88,568.9 229.83,569.07 226.74,571.53 227.79,575.33 224.5,573.15 221.21,575.33 222.26,571.53 219.17,569.07 223.12,568.9" fill="none" stroke="#1f6fd6" stroke-width="1.4"/>
</g>
<g clip-path="url(#ce)">
<line x1="245.3" y1="567.4" x2="245.3" y2="577.4" stroke="#1f6fd6" stroke-width="1.4" />
<line x1="241.9" y1="567.4" x2="248.7" y2="567.4" stroke="#1f6fd6" stroke-width="1.4" />
<line x1="241.9" y1="577.4" x2="248.7" y2="577.4" stroke="#1f6fd6" stroke-width="1.4" />
<line x1="234.9" y1="572.4" x2="255.7" y2="572.4" stroke="#1f6fd6" stroke-width="1.4" />
<line x1="234.9" y1="569" x2="234.9" y2="575.8" stroke="#1f6fd6" stroke-width="1.4" />
<line x1="255.7" y1="569" x2="255.7" y2="575.8" stroke="#1f6fd6" stroke-width="1.4" />
<polygon points="245.3,566.8 246.68,570.5 250.63,570.67 247.54,573.13 248.59,576.93 245.3,574.75 242.01,576.93 243.06,573.13 239.97,570.67 243.92,570.5" fill="none" stroke="#1f6fd6" stroke-width="1.4"/>
</g>
<g clip-path="url(#ce)">
<line x1="266.1" y1="571" x2="266.1" y2="577" stroke="#1f6fd6" stroke-width="1.4" />
<line x1="262.7" y1="571" x2="269.5" y2="571" stroke="#1f6fd6" stroke-width="1.4" />
<line x1="262.7" y1="577" x2="269.5" y2="577" stroke="#1f6fd6" stroke-width="1.4" />
<line x1="255.7" y1="574" x2="276.5" y2="574" stroke="#1f6fd6" stroke-width="1.4" />
<line x1="255.7" y1="570.6" x2="255.7" y2="577.4" stroke="#1f6fd6" stroke-width="1.4" />
<line x1="276.5" y1="570.6" x2="276.5" y2="577.4" stroke="#1f6fd6" stroke-width="1.4" />
<polygon points="266.1,568.4 267.48,572.1 271.43,572.27 268.34,574.73 269.39,578.53 266.1,576.35 262.81,578.53 263.86,574.73 260.77,572.27 264.72,572.1" fill="none" stroke="#1f6fd6" stroke-width="1.4"/>
</g>
<g clip-path="url(#ce)">
<line x1="286.9" y1="571" x2="286.9" y2="577" stroke="#1f6fd6" stroke-width="1.4" />
<line x1="283.5" y1="571" x2="290.3" y2="571" stroke="#1f6fd6" stroke-width="1.4" />
<line x1="283.5" y1="577" x2="290.3" y2="577" stroke="#1f6fd6" stroke-width="1.4" />
<line x1="276.5" y1="574" x2="297.3" y2="574" stroke="#1f6fd6" stroke-width="1.4" />
<line x1="276.5" y1="570.6" x2="276.5" y2="577.4" stroke="#1f6fd6" stroke-width="1.4" />
<line x1="297.3" y1="570.6" x2="297.3" y2="577.4" stroke="#1f6fd6" stroke-width="1.4" />
<polygon points="286.9,568.4 288.28,572.1 292.23,572.27 289.14,574.73 290.19,578.53 286.9,576.35 283.61,578.53 284.66,574.73 281.57,572.27 285.52,572.1" fill="none" stroke="#1f6fd6" stroke-width="1.4"/>
</g>
<g clip-path="url(#ce)">
<line x1="307.7" y1="571" x2="307.7" y2="577" stroke="#1f6fd6" stroke-width="1.4" />
<line x1="304.3" y1="571" x2="311.1" y2="571" stroke="#1f6fd6" stroke-width="1.4" />
<line x1="304.3" y1="577" x2="311.1" y2="577" stroke="#1f6fd6" stroke-width="1.4" />
<line x1="297.3" y1="574" x2="318.1" y2="574" stroke="#1f6fd6" stroke-width="1.4" />
<line x1="297.3" y1="570.6" x2="297.3" y2="577.4" stroke="#1f6fd6" stroke-width="1.4" />
<line x1="318.1" y1="570.6" x2="318.1" y2="577.4" stroke="#1f6fd6" stroke-width="1.4" />
<polygon points="307.7,568.4 309.08,572.1 313.03,572.27 309.94,574.73 310.99,578.53 307.7,576.35 304.41,578.53 305.46,574.73 302.37,572.27 306.32,572.1" fill="none" stroke="#1f6fd6" stroke-width="1.4"/>
</g>
<g clip-path="url(#ce)">
<line x1="328.5" y1="571" x2="328.5" y2="577" stroke="#1f6fd6" stroke-width="1.4" />
<line x1="325.1" y1="571" x2="331.9" y2="571" stroke="#1f6fd6" stroke-width="1.4" />
<line x1="325.1" y1="577" x2="331.9" y2="577" stroke="#1f6fd6" stroke-width="1.4" />
<line x1="318.1" y1="574" x2="338.9" y2="574" stroke="#1f6fd6" stroke-width="1.4" />
<line x1="318.1" y1="570.6" x2="318.1" y2="577.4" stroke="#1f6fd6" stroke-width="1.4" />
<line x1="338.9" y1="570.6" x2="338.9" y2="577.4" stroke="#1f6fd6" stroke-width="1.4" />
<polygon points="328.5,568.4 329.88,572.1 333.83,572.27 330.74,574.73 331.79,578.53 328.5,576.35 325.21,578.53 326.26,574.73 323.17,572.27 327.12,572.1" fill="none" stroke="#1f6fd6" stroke-width="1.4"/>
</g>
<text x="43.3" y="424.1" font-size="11.6" text-anchor="end" >40</text>
<text x="43.3" y="461" font-size="11.6" text-anchor="end" >30</text>
<text x="43.3" y="500.1" font-size="11.6" text-anchor="end" >20</text>
<text x="43.3" y="542.7" font-size="11.6" text-anchor="end" >10</text>
<text x="43.3" y="577.7" font-size="11.6" text-anchor="end" >0</text>
<text x="47.4" y="596.5" font-size="11.6" text-anchor="middle" >0</text>
<text x="109.7" y="596.5" font-size="11.6" text-anchor="middle" >2</text>
<text x="172" y="596.5" font-size="11.6" text-anchor="middle" >4</text>
<text x="234.3" y="596.5" font-size="11.6" text-anchor="middle" >6</text>
<text x="296.6" y="596.5" font-size="11.6" text-anchor="middle" >8</text>
<text x="327.5" y="596.5" font-size="11.6" text-anchor="middle" >49</text>
<text x="70.1" y="436.2" font-size="12.8" text-anchor="middle" >(e)</text>
<text x="187.7" y="613.2" font-size="11.8" text-anchor="middle" >Redshift</text>
<text x="0" y="0" font-size="11.8" text-anchor="middle" transform="translate(20.8,496) rotate(-90)">Number</text>
<rect x="366.8" y="571.4" width="17.18" height="8.6" fill="#d9d9d9" clip-path="url(#cf)"/>
<rect x="383.98" y="570.7" width="17.18" height="10" fill="#d9d9d9" clip-path="url(#cf)"/>
<rect x="401.16" y="554.3" width="17.18" height="19" fill="#d9d9d9" clip-path="url(#cf)"/>
<rect x="418.34" y="540.1" width="17.18" height="24.6" fill="#d9d9d9" clip-path="url(#cf)"/>
<rect x="435.52" y="512.7" width="17.18" height="29.4" fill="#d9d9d9" clip-path="url(#cf)"/>
<rect x="452.7" y="477.4" width="17.18" height="40" fill="#d9d9d9" clip-path="url(#cf)"/>
<rect x="469.88" y="478.8" width="17.18" height="36.6" fill="#d9d9d9" clip-path="url(#cf)"/>
<rect x="487.06" y="517.8" width="17.18" height="32" fill="#d9d9d9" clip-path="url(#cf)"/>
<rect x="504.24" y="552.8" width="17.18" height="19" fill="#d9d9d9" clip-path="url(#cf)"/>
<rect x="521.42" y="564.3" width="17.18" height="14" fill="#d9d9d9" clip-path="url(#cf)"/>
<rect x="538.6" y="569.3" width="17.18" height="8" fill="#d9d9d9" clip-path="url(#cf)"/>
<rect x="555.78" y="573" width="17.18" height="4" fill="#d9d9d9" clip-path="url(#cf)"/>
<rect x="572.96" y="575" width="17.18" height="2" fill="#d9d9d9" clip-path="url(#cf)"/>
<rect x="590.14" y="575" width="17.18" height="2" fill="#d9d9d9" clip-path="url(#cf)"/>
<rect x="383.98" y="572" width="17.18" height="8" fill="url(#hk2)" clip-path="url(#cf)"/>
<rect x="401.16" y="564.5" width="17.18" height="10" fill="url(#hk2)" clip-path="url(#cf)"/>
<rect x="418.34" y="554.8" width="17.18" height="18" fill="url(#hk2)" clip-path="url(#cf)"/>
<rect x="435.52" y="535.4" width="17.18" height="25.2" fill="url(#hk2)" clip-path="url(#cf)"/>
<rect x="452.7" y="517.3" width="17.18" height="29.4" fill="url(#hk2)" clip-path="url(#cf)"/>
<rect x="469.88" y="502" width="17.18" height="31" fill="url(#hk2)" clip-path="url(#cf)"/>
<rect x="487.06" y="493" width="17.18" height="55" fill="url(#hk2)" clip-path="url(#cf)"/>
<rect x="504.24" y="513.6" width="17.18" height="24.2" fill="url(#hk2)" clip-path="url(#cf)"/>
<rect x="521.42" y="540.2" width="17.18" height="24" fill="url(#hk2)" clip-path="url(#cf)"/>
<rect x="538.6" y="559.3" width="17.18" height="16" fill="url(#hk2)" clip-path="url(#cf)"/>
<rect x="555.78" y="565.3" width="17.18" height="12" fill="url(#hk2)" clip-path="url(#cf)"/>
<rect x="572.96" y="571" width="17.18" height="8" fill="url(#hk2)" clip-path="url(#cf)"/>
<rect x="590.14" y="572" width="17.18" height="6" fill="url(#hk2)" clip-path="url(#cf)"/>
<path d="M366.8,577L366.8,575.7L383.98,575.7L383.98,575.7L401.16,575.7L401.16,563.8L418.34,563.8L418.34,552.4L435.52,552.4L435.52,527.4L452.7,527.4L452.7,497.4L469.88,497.4L469.88,497.1L487.06,497.1L487.06,533.8L504.24,533.8L504.24,562.3L521.42,562.3L521.42,571.3L538.6,571.3L538.6,573.3L555.78,573.3L555.78,575L572.96,575L572.96,576L590.14,576L590.14,576L607.32,576" stroke="#ff1a00" stroke-width="1.6" fill="none" clip-path="url(#cf)" stroke-linejoin="miter"/>
<path d="M366.8,577L366.8,577L383.98,577L383.98,576L401.16,576L401.16,569.5L418.34,569.5L418.34,563.8L435.52,563.8L435.52,548L452.7,548L452.7,532L469.88,532L469.88,517.5L487.06,517.5L487.06,510.1L504.24,510.1L504.24,525.7L521.42,525.7L521.42,552.2L538.6,552.2L538.6,567.3L555.78,567.3L555.78,571.3L572.96,571.3L572.96,575L590.14,575L590.14,575L607.32,575" stroke="#ff1a00" stroke-width="1.6" fill="none" clip-path="url(#cf)" stroke-linejoin="miter"/>
<line x1="375.39" y1="573" x2="375.39" y2="577" stroke="#ff8c00" stroke-width="1.3" />
<line x1="372.19" y1="573" x2="378.59" y2="573" stroke="#ff8c00" stroke-width="1.3" />
<line x1="372.19" y1="577" x2="378.59" y2="577" stroke="#ff8c00" stroke-width="1.3" />
<line x1="366.8" y1="575" x2="383.98" y2="575" stroke="#ff8c00" stroke-width="1.3" />
<line x1="366.8" y1="571.8" x2="366.8" y2="578.2" stroke="#ff8c00" stroke-width="1.3" />
<line x1="383.98" y1="571.8" x2="383.98" y2="578.2" stroke="#ff8c00" stroke-width="1.3" />
<rect x="371.19" y="570.8" width="8.4" height="8.4" fill="none" stroke="#ff8c00" stroke-width="1.3"/>
<line x1="392.57" y1="571" x2="392.57" y2="577" stroke="#ff8c00" stroke-width="1.3" />
<line x1="389.37" y1="571" x2="395.77" y2="571" stroke="#ff8c00" stroke-width="1.3" />
<line x1="389.37" y1="577" x2="395.77" y2="577" stroke="#ff8c00" stroke-width="1.3" />
<line x1="383.98" y1="574" x2="401.16" y2="574" stroke="#ff8c00" stroke-width="1.3" />
<line x1="383.98" y1="570.8" x2="383.98" y2="577.2" stroke="#ff8c00" stroke-width="1.3" />
<line x1="401.16" y1="570.8" x2="401.16" y2="577.2" stroke="#ff8c00" stroke-width="1.3" />
<rect x="388.37" y="569.8" width="8.4" height="8.4" fill="none" stroke="#ff8c00" stroke-width="1.3"/>
<line x1="409.75" y1="565.8" x2="409.75" y2="573.8" stroke="#ff8c00" stroke-width="1.3" />
<line x1="406.55" y1="565.8" x2="412.95" y2="565.8" stroke="#ff8c00" stroke-width="1.3" />
<line x1="406.55" y1="573.8" x2="412.95" y2="573.8" stroke="#ff8c00" stroke-width="1.3" />
<line x1="401.16" y1="569.8" x2="418.34" y2="569.8" stroke="#ff8c00" stroke-width="1.3" />
<line x1="401.16" y1="566.6" x2="401.16" y2="573" stroke="#ff8c00" stroke-width="1.3" />
<line x1="418.34" y1="566.6" x2="418.34" y2="573" stroke="#ff8c00" stroke-width="1.3" />
<rect x="405.55" y="565.6" width="8.4" height="8.4" fill="none" stroke="#ff8c00" stroke-width="1.3"/>
<line x1="426.93" y1="558.2" x2="426.93" y2="570.2" stroke="#ff8c00" stroke-width="1.3" />
<line x1="423.73" y1="558.2" x2="430.13" y2="558.2" stroke="#ff8c00" stroke-width="1.3" />
<line x1="423.73" y1="570.2" x2="430.13" y2="570.2" stroke="#ff8c00" stroke-width="1.3" />
<line x1="418.34" y1="564.2" x2="435.52" y2="564.2" stroke="#ff8c00" stroke-width="1.3" />
<line x1="418.34" y1="561" x2="418.34" y2="567.4" stroke="#ff8c00" stroke-width="1.3" />
<line x1="435.52" y1="561" x2="435.52" y2="567.4" stroke="#ff8c00" stroke-width="1.3" />
<rect x="422.73" y="560" width="8.4" height="8.4" fill="none" stroke="#ff8c00" stroke-width="1.3"/>
<line x1="444.11" y1="543" x2="444.11" y2="561" stroke="#ff8c00" stroke-width="1.3" />
<line x1="440.91" y1="543" x2="447.31" y2="543" stroke="#ff8c00" stroke-width="1.3" />
<line x1="440.91" y1="561" x2="447.31" y2="561" stroke="#ff8c00" stroke-width="1.3" />
<line x1="435.52" y1="552" x2="452.7" y2="552" stroke="#ff8c00" stroke-width="1.3" />
<line x1="435.52" y1="548.8" x2="435.52" y2="555.2" stroke="#ff8c00" stroke-width="1.3" />
<line x1="452.7" y1="548.8" x2="452.7" y2="555.2" stroke="#ff8c00" stroke-width="1.3" />
<rect x="439.91" y="547.8" width="8.4" height="8.4" fill="none" stroke="#ff8c00" stroke-width="1.3"/>
<line x1="461.29" y1="526" x2="461.29" y2="546" stroke="#ff8c00" stroke-width="1.3" />
<line x1="458.09" y1="526" x2="464.49" y2="526" stroke="#ff8c00" stroke-width="1.3" />
<line x1="458.09" y1="546" x2="464.49" y2="546" stroke="#ff8c00" stroke-width="1.3" />
<line x1="452.7" y1="536" x2="469.88" y2="536" stroke="#ff8c00" stroke-width="1.3" />
<line x1="452.7" y1="532.8" x2="452.7" y2="539.2" stroke="#ff8c00" stroke-width="1.3" />
<line x1="469.88" y1="532.8" x2="469.88" y2="539.2" stroke="#ff8c00" stroke-width="1.3" />
<rect x="457.09" y="531.8" width="8.4" height="8.4" fill="none" stroke="#ff8c00" stroke-width="1.3"/>
<line x1="478.47" y1="473.2" x2="478.47" y2="511.2" stroke="#ff8c00" stroke-width="1.3" />
<line x1="475.27" y1="473.2" x2="481.67" y2="473.2" stroke="#ff8c00" stroke-width="1.3" />
<line x1="475.27" y1="511.2" x2="481.67" y2="511.2" stroke="#ff8c00" stroke-width="1.3" />
<line x1="469.88" y1="492.2" x2="487.06" y2="492.2" stroke="#ff8c00" stroke-width="1.3" />
<line x1="469.88" y1="489" x2="469.88" y2="495.4" stroke="#ff8c00" stroke-width="1.3" />
<line x1="487.06" y1="489" x2="487.06" y2="495.4" stroke="#ff8c00" stroke-width="1.3" />
<rect x="474.27" y="488" width="8.4" height="8.4" fill="none" stroke="#ff8c00" stroke-width="1.3"/>
<line x1="495.65" y1="522.6" x2="495.65" y2="546.6" stroke="#ff8c00" stroke-width="1.3" />
<line x1="492.45" y1="522.6" x2="498.85" y2="522.6" stroke="#ff8c00" stroke-width="1.3" />
<line x1="492.45" y1="546.6" x2="498.85" y2="546.6" stroke="#ff8c00" stroke-width="1.3" />
<line x1="487.06" y1="534.6" x2="504.24" y2="534.6" stroke="#ff8c00" stroke-width="1.3" />
<line x1="487.06" y1="531.4" x2="487.06" y2="537.8" stroke="#ff8c00" stroke-width="1.3" />
<line x1="504.24" y1="531.4" x2="504.24" y2="537.8" stroke="#ff8c00" stroke-width="1.3" />
<rect x="491.45" y="530.4" width="8.4" height="8.4" fill="none" stroke="#ff8c00" stroke-width="1.3"/>
<line x1="512.83" y1="496.4" x2="512.83" y2="529.6" stroke="#ff8c00" stroke-width="1.3" />
<line x1="509.63" y1="496.4" x2="516.03" y2="496.4" stroke="#ff8c00" stroke-width="1.3" />
<line x1="509.63" y1="529.6" x2="516.03" y2="529.6" stroke="#ff8c00" stroke-width="1.3" />
<line x1="504.24" y1="513" x2="521.42" y2="513" stroke="#ff8c00" stroke-width="1.3" />
<line x1="504.24" y1="509.8" x2="504.24" y2="516.2" stroke="#ff8c00" stroke-width="1.3" />
<line x1="521.42" y1="509.8" x2="521.42" y2="516.2" stroke="#ff8c00" stroke-width="1.3" />
<rect x="508.63" y="508.8" width="8.4" height="8.4" fill="none" stroke="#ff8c00" stroke-width="1.3"/>
<line x1="530.01" y1="535.2" x2="530.01" y2="559.2" stroke="#ff8c00" stroke-width="1.3" />
<line x1="526.81" y1="535.2" x2="533.21" y2="535.2" stroke="#ff8c00" stroke-width="1.3" />
<line x1="526.81" y1="559.2" x2="533.21" y2="559.2" stroke="#ff8c00" stroke-width="1.3" />
<line x1="521.42" y1="547.2" x2="538.6" y2="547.2" stroke="#ff8c00" stroke-width="1.3" />
<line x1="521.42" y1="544" x2="521.42" y2="550.4" stroke="#ff8c00" stroke-width="1.3" />
<line x1="538.6" y1="544" x2="538.6" y2="550.4" stroke="#ff8c00" stroke-width="1.3" />
<rect x="525.81" y="543" width="8.4" height="8.4" fill="none" stroke="#ff8c00" stroke-width="1.3"/>
<line x1="547.19" y1="567" x2="547.19" y2="577" stroke="#ff8c00" stroke-width="1.3" />
<line x1="543.99" y1="567" x2="550.39" y2="567" stroke="#ff8c00" stroke-width="1.3" />
<line x1="543.99" y1="577" x2="550.39" y2="577" stroke="#ff8c00" stroke-width="1.3" />
<line x1="538.6" y1="572" x2="555.78" y2="572" stroke="#ff8c00" stroke-width="1.3" />
<line x1="538.6" y1="568.8" x2="538.6" y2="575.2" stroke="#ff8c00" stroke-width="1.3" />
<line x1="555.78" y1="568.8" x2="555.78" y2="575.2" stroke="#ff8c00" stroke-width="1.3" />
<rect x="542.99" y="567.8" width="8.4" height="8.4" fill="none" stroke="#ff8c00" stroke-width="1.3"/>
<line x1="564.37" y1="569.3" x2="564.37" y2="577.3" stroke="#ff8c00" stroke-width="1.3" />
<line x1="561.17" y1="569.3" x2="567.57" y2="569.3" stroke="#ff8c00" stroke-width="1.3" />
<line x1="561.17" y1="577.3" x2="567.57" y2="577.3" stroke="#ff8c00" stroke-width="1.3" />
<line x1="555.78" y1="573.3" x2="572.96" y2="573.3" stroke="#ff8c00" stroke-width="1.3" />
<line x1="555.78" y1="570.1" x2="555.78" y2="576.5" stroke="#ff8c00" stroke-width="1.3" />
<line x1="572.96" y1="570.1" x2="572.96" y2="576.5" stroke="#ff8c00" stroke-width="1.3" />
<rect x="560.17" y="569.1" width="8.4" height="8.4" fill="none" stroke="#ff8c00" stroke-width="1.3"/>
<line x1="581.55" y1="571.3" x2="581.55" y2="577.3" stroke="#ff8c00" stroke-width="1.3" />
<line x1="578.35" y1="571.3" x2="584.75" y2="571.3" stroke="#ff8c00" stroke-width="1.3" />
<line x1="578.35" y1="577.3" x2="584.75" y2="577.3" stroke="#ff8c00" stroke-width="1.3" />
<line x1="572.96" y1="574.3" x2="590.14" y2="574.3" stroke="#ff8c00" stroke-width="1.3" />
<line x1="572.96" y1="571.1" x2="572.96" y2="577.5" stroke="#ff8c00" stroke-width="1.3" />
<line x1="590.14" y1="571.1" x2="590.14" y2="577.5" stroke="#ff8c00" stroke-width="1.3" />
<rect x="577.35" y="570.1" width="8.4" height="8.4" fill="none" stroke="#ff8c00" stroke-width="1.3"/>
<line x1="598.73" y1="571.3" x2="598.73" y2="577.3" stroke="#ff8c00" stroke-width="1.3" />
<line x1="595.53" y1="571.3" x2="601.93" y2="571.3" stroke="#ff8c00" stroke-width="1.3" />
<line x1="595.53" y1="577.3" x2="601.93" y2="577.3" stroke="#ff8c00" stroke-width="1.3" />
<line x1="590.14" y1="574.3" x2="607.32" y2="574.3" stroke="#ff8c00" stroke-width="1.3" />
<line x1="590.14" y1="571.1" x2="590.14" y2="577.5" stroke="#ff8c00" stroke-width="1.3" />
<line x1="607.32" y1="571.1" x2="607.32" y2="577.5" stroke="#ff8c00" stroke-width="1.3" />
<rect x="594.53" y="570.1" width="8.4" height="8.4" fill="none" stroke="#ff8c00" stroke-width="1.3"/>
<line x1="392.57" y1="563.3" x2="392.57" y2="574.3" stroke="#ff8c00" stroke-width="1.3" />
<line x1="389.37" y1="563.3" x2="395.77" y2="563.3" stroke="#ff8c00" stroke-width="1.3" />
<line x1="389.37" y1="574.3" x2="395.77" y2="574.3" stroke="#ff8c00" stroke-width="1.3" />
<line x1="383.98" y1="568.8" x2="401.16" y2="568.8" stroke="#ff8c00" stroke-width="1.3" />
<line x1="383.98" y1="565.6" x2="383.98" y2="572" stroke="#ff8c00" stroke-width="1.3" />
<line x1="401.16" y1="565.6" x2="401.16" y2="572" stroke="#ff8c00" stroke-width="1.3" />
<circle cx="392.57" cy="568.8" r="4.6" fill="#ff8c00" stroke="none" stroke-width="0"/>
<line x1="409.75" y1="548.2" x2="409.75" y2="565.4" stroke="#ff8c00" stroke-width="1.3" />
<line x1="406.55" y1="548.2" x2="412.95" y2="548.2" stroke="#ff8c00" stroke-width="1.3" />
<line x1="406.55" y1="565.4" x2="412.95" y2="565.4" stroke="#ff8c00" stroke-width="1.3" />
<line x1="401.16" y1="556.8" x2="418.34" y2="556.8" stroke="#ff8c00" stroke-width="1.3" />
<line x1="401.16" y1="553.6" x2="401.16" y2="560" stroke="#ff8c00" stroke-width="1.3" />
<line x1="418.34" y1="553.6" x2="418.34" y2="560" stroke="#ff8c00" stroke-width="1.3" />
<circle cx="409.75" cy="556.8" r="4.6" fill="#ff8c00" stroke="none" stroke-width="0"/>
<line x1="426.93" y1="533.8" x2="426.93" y2="555.8" stroke="#ff8c00" stroke-width="1.3" />
<line x1="423.73" y1="533.8" x2="430.13" y2="533.8" stroke="#ff8c00" stroke-width="1.3" />
<line x1="423.73" y1="555.8" x2="430.13" y2="555.8" stroke="#ff8c00" stroke-width="1.3" />
<line x1="418.34" y1="544.8" x2="435.52" y2="544.8" stroke="#ff8c00" stroke-width="1.3" />
<line x1="418.34" y1="541.6" x2="418.34" y2="548" stroke="#ff8c00" stroke-width="1.3" />
<line x1="435.52" y1="541.6" x2="435.52" y2="548" stroke="#ff8c00" stroke-width="1.3" />
<circle cx="426.93" cy="544.8" r="4.6" fill="#ff8c00" stroke="none" stroke-width="0"/>
<line x1="444.11" y1="530.5" x2="444.11" y2="550.5" stroke="#ff8c00" stroke-width="1.3" />
<line x1="440.91" y1="530.5" x2="447.31" y2="530.5" stroke="#ff8c00" stroke-width="1.3" />
<line x1="440.91" y1="550.5" x2="447.31" y2="550.5" stroke="#ff8c00" stroke-width="1.3" />
<line x1="435.52" y1="540.5" x2="452.7" y2="540.5" stroke="#ff8c00" stroke-width="1.3" />
<line x1="435.52" y1="537.3" x2="435.52" y2="543.7" stroke="#ff8c00" stroke-width="1.3" />
<line x1="452.7" y1="537.3" x2="452.7" y2="543.7" stroke="#ff8c00" stroke-width="1.3" />
<circle cx="444.11" cy="540.5" r="4.6" fill="#ff8c00" stroke="none" stroke-width="0"/>
<line x1="461.29" y1="505.3" x2="461.29" y2="536.3" stroke="#ff8c00" stroke-width="1.3" />
<line x1="458.09" y1="505.3" x2="464.49" y2="505.3" stroke="#ff8c00" stroke-width="1.3" />
<line x1="458.09" y1="536.3" x2="464.49" y2="536.3" stroke="#ff8c00" stroke-width="1.3" />
<line x1="452.7" y1="520.8" x2="469.88" y2="520.8" stroke="#ff8c00" stroke-width="1.3" />
<line x1="452.7" y1="517.6" x2="452.7" y2="524" stroke="#ff8c00" stroke-width="1.3" />
<line x1="469.88" y1="517.6" x2="469.88" y2="524" stroke="#ff8c00" stroke-width="1.3" />
<circle cx="461.29" cy="520.8" r="4.6" fill="#ff8c00" stroke="none" stroke-width="0"/>
<line x1="478.47" y1="500.6" x2="478.47" y2="532.6" stroke="#ff8c00" stroke-width="1.3" />
<line x1="475.27" y1="500.6" x2="481.67" y2="500.6" stroke="#ff8c00" stroke-width="1.3" />
<line x1="475.27" y1="532.6" x2="481.67" y2="532.6" stroke="#ff8c00" stroke-width="1.3" />
<line x1="469.88" y1="516.6" x2="487.06" y2="516.6" stroke="#ff8c00" stroke-width="1.3" />
<line x1="469.88" y1="513.4" x2="469.88" y2="519.8" stroke="#ff8c00" stroke-width="1.3" />
<line x1="487.06" y1="513.4" x2="487.06" y2="519.8" stroke="#ff8c00" stroke-width="1.3" />
<circle cx="478.47" cy="516.6" r="4.6" fill="#ff8c00" stroke="none" stroke-width="0"/>
<line x1="495.65" y1="487.9" x2="495.65" y2="521.9" stroke="#ff8c00" stroke-width="1.3" />
<line x1="492.45" y1="487.9" x2="498.85" y2="487.9" stroke="#ff8c00" stroke-width="1.3" />
<line x1="492.45" y1="521.9" x2="498.85" y2="521.9" stroke="#ff8c00" stroke-width="1.3" />
<line x1="487.06" y1="504.9" x2="504.24" y2="504.9" stroke="#ff8c00" stroke-width="1.3" />
<line x1="487.06" y1="501.7" x2="487.06" y2="508.1" stroke="#ff8c00" stroke-width="1.3" />
<line x1="504.24" y1="501.7" x2="504.24" y2="508.1" stroke="#ff8c00" stroke-width="1.3" />
<circle cx="495.65" cy="504.9" r="4.6" fill="#ff8c00" stroke="none" stroke-width="0"/>
<line x1="512.83" y1="548.2" x2="512.83" y2="566.2" stroke="#ff8c00" stroke-width="1.3" />
<line x1="509.63" y1="548.2" x2="516.03" y2="548.2" stroke="#ff8c00" stroke-width="1.3" />
<line x1="509.63" y1="566.2" x2="516.03" y2="566.2" stroke="#ff8c00" stroke-width="1.3" />
<line x1="504.24" y1="557.2" x2="521.42" y2="557.2" stroke="#ff8c00" stroke-width="1.3" />
<line x1="504.24" y1="554" x2="504.24" y2="560.4" stroke="#ff8c00" stroke-width="1.3" />
<line x1="521.42" y1="554" x2="521.42" y2="560.4" stroke="#ff8c00" stroke-width="1.3" />
<circle cx="512.83" cy="557.2" r="4.6" fill="#ff8c00" stroke="none" stroke-width="0"/>
<line x1="530.01" y1="569.3" x2="530.01" y2="577.3" stroke="#ff8c00" stroke-width="1.3" />
<line x1="526.81" y1="569.3" x2="533.21" y2="569.3" stroke="#ff8c00" stroke-width="1.3" />
<line x1="526.81" y1="577.3" x2="533.21" y2="577.3" stroke="#ff8c00" stroke-width="1.3" />
<line x1="521.42" y1="573.3" x2="538.6" y2="573.3" stroke="#ff8c00" stroke-width="1.3" />
<line x1="521.42" y1="570.1" x2="521.42" y2="576.5" stroke="#ff8c00" stroke-width="1.3" />
<line x1="538.6" y1="570.1" x2="538.6" y2="576.5" stroke="#ff8c00" stroke-width="1.3" />
<circle cx="530.01" cy="573.3" r="4.6" fill="#ff8c00" stroke="none" stroke-width="0"/>
<line x1="547.19" y1="565.3" x2="547.19" y2="575.3" stroke="#ff8c00" stroke-width="1.3" />
<line x1="543.99" y1="565.3" x2="550.39" y2="565.3" stroke="#ff8c00" stroke-width="1.3" />
<line x1="543.99" y1="575.3" x2="550.39" y2="575.3" stroke="#ff8c00" stroke-width="1.3" />
<line x1="538.6" y1="570.3" x2="555.78" y2="570.3" stroke="#ff8c00" stroke-width="1.3" />
<line x1="538.6" y1="567.1" x2="538.6" y2="573.5" stroke="#ff8c00" stroke-width="1.3" />
<line x1="555.78" y1="567.1" x2="555.78" y2="573.5" stroke="#ff8c00" stroke-width="1.3" />
<circle cx="547.19" cy="570.3" r="4.6" fill="#ff8c00" stroke="none" stroke-width="0"/>
<text x="367.7" y="596.5" font-size="11.6" text-anchor="middle" >50</text>
<text x="407.5" y="596.5" font-size="11.6" text-anchor="middle" >51</text>
<text x="447.3" y="596.5" font-size="11.6" text-anchor="middle" >52</text>
<text x="487.1" y="596.5" font-size="11.6" text-anchor="middle" >53</text>
<text x="526.9" y="596.5" font-size="11.6" text-anchor="middle" >54</text>
<text x="566.7" y="596.5" font-size="11.6" text-anchor="middle" >55</text>
<text x="606.5" y="596.5" font-size="11.6" text-anchor="middle" >56</text>
<text x="354.3" y="436.1" font-size="12.8" text-anchor="middle" >(f)</text>
<text x="468" y="613.2" font-size="11.8" text-anchor="middle" >Energy and Luminosity</text>
<rect x="58.2" y="727.9" width="36.4" height="49.4" fill="#ffdfc0" />
<rect x="94.6" y="658.4" width="36.4" height="78.8" fill="#ffdfc0" />
<rect x="131" y="647.9" width="36.4" height="80.6" fill="#ffdfc0" />
<rect x="167.4" y="684" width="36.4" height="67.2" fill="#ffdfc0" />
<rect x="203.8" y="719.8" width="36.4" height="51.6" fill="#ffdfc0" />
<rect x="240.2" y="736.5" width="36.4" height="42.6" fill="#ffdfc0" />
<rect x="276.6" y="749" width="36.4" height="37" fill="#ffdfc0" />
<path d="M58.2,783.5L58.2,752.6L94.6,752.6L94.6,697.8L131,697.8L131,688.2L167.4,688.2L167.4,717.6L203.8,717.6L203.8,745.6L240.2,745.6L240.2,757.8L276.6,757.8L276.6,769.2L313,769.2L313,775.9L349.4,775.9" stroke="#cc3300" stroke-width="2.0" fill="none" clip-path="url(#cg)" stroke-linejoin="miter"/>
<line x1="47.7" y1="783.5" x2="58.2" y2="783.5" stroke="#cc3300" stroke-width="2.0" />
<line x1="76.5" y1="729.2" x2="76.5" y2="774.8" stroke="#ff33aa" stroke-width="1.4" />
<line x1="73" y1="729.2" x2="80" y2="729.2" stroke="#ff33aa" stroke-width="1.4" />
<line x1="73" y1="774.8" x2="80" y2="774.8" stroke="#ff33aa" stroke-width="1.4" />
<line x1="58.2" y1="752.6" x2="94.6" y2="752.6" stroke="#ff33aa" stroke-width="1.4" />
<line x1="58.2" y1="749.1" x2="58.2" y2="756.1" stroke="#ff33aa" stroke-width="1.4" />
<line x1="94.6" y1="749.1" x2="94.6" y2="756.1" stroke="#ff33aa" stroke-width="1.4" />
<circle cx="76.5" cy="752.6" r="4.9" fill="#ff33aa" stroke="none" stroke-width="0"/>
<line x1="112.9" y1="627.7" x2="112.9" y2="713.7" stroke="#ff33aa" stroke-width="1.4" />
<line x1="109.4" y1="627.7" x2="116.4" y2="627.7" stroke="#ff33aa" stroke-width="1.4" />
<line x1="109.4" y1="713.7" x2="116.4" y2="713.7" stroke="#ff33aa" stroke-width="1.4" />
<line x1="94.6" y1="671.3" x2="131" y2="671.3" stroke="#ff33aa" stroke-width="1.4" />
<line x1="94.6" y1="667.8" x2="94.6" y2="674.8" stroke="#ff33aa" stroke-width="1.4" />
<line x1="131" y1="667.8" x2="131" y2="674.8" stroke="#ff33aa" stroke-width="1.4" />
<circle cx="112.9" cy="671.3" r="4.9" fill="#ff33aa" stroke="none" stroke-width="0"/>
<line x1="149.5" y1="667.1" x2="149.5" y2="739.8" stroke="#ff33aa" stroke-width="1.4" />
<line x1="146" y1="667.1" x2="153" y2="667.1" stroke="#ff33aa" stroke-width="1.4" />
<line x1="146" y1="739.8" x2="153" y2="739.8" stroke="#ff33aa" stroke-width="1.4" />
<line x1="131" y1="703.5" x2="167.4" y2="703.5" stroke="#ff33aa" stroke-width="1.4" />
<line x1="131" y1="700" x2="131" y2="707" stroke="#ff33aa" stroke-width="1.4" />
<line x1="167.4" y1="700" x2="167.4" y2="707" stroke="#ff33aa" stroke-width="1.4" />
<circle cx="149.5" cy="703.5" r="4.9" fill="#ff33aa" stroke="none" stroke-width="0"/>
<line x1="185.8" y1="667.1" x2="185.8" y2="739.8" stroke="#ff33aa" stroke-width="1.4" />
<line x1="182.3" y1="667.1" x2="189.3" y2="667.1" stroke="#ff33aa" stroke-width="1.4" />
<line x1="182.3" y1="739.8" x2="189.3" y2="739.8" stroke="#ff33aa" stroke-width="1.4" />
<line x1="167.4" y1="703.2" x2="203.8" y2="703.2" stroke="#ff33aa" stroke-width="1.4" />
<line x1="167.4" y1="699.7" x2="167.4" y2="706.7" stroke="#ff33aa" stroke-width="1.4" />
<line x1="203.8" y1="699.7" x2="203.8" y2="706.7" stroke="#ff33aa" stroke-width="1.4" />
<circle cx="185.8" cy="703.2" r="4.9" fill="#ff33aa" stroke="none" stroke-width="0"/>
<line x1="222.4" y1="752.6" x2="222.4" y2="784" stroke="#ff33aa" stroke-width="1.4" />
<line x1="218.9" y1="752.6" x2="225.9" y2="752.6" stroke="#ff33aa" stroke-width="1.4" />
<line x1="218.9" y1="784" x2="225.9" y2="784" stroke="#ff33aa" stroke-width="1.4" />
<line x1="203.8" y1="768.4" x2="240.2" y2="768.4" stroke="#ff33aa" stroke-width="1.4" />
<line x1="203.8" y1="764.9" x2="203.8" y2="771.9" stroke="#ff33aa" stroke-width="1.4" />
<line x1="240.2" y1="764.9" x2="240.2" y2="771.9" stroke="#ff33aa" stroke-width="1.4" />
<circle cx="222.4" cy="768.4" r="4.9" fill="#ff33aa" stroke="none" stroke-width="0"/>
<line x1="258.4" y1="729.5" x2="258.4" y2="774.7" stroke="#ff33aa" stroke-width="1.4" />
<line x1="254.9" y1="729.5" x2="261.9" y2="729.5" stroke="#ff33aa" stroke-width="1.4" />
<line x1="254.9" y1="774.7" x2="261.9" y2="774.7" stroke="#ff33aa" stroke-width="1.4" />
<line x1="240.2" y1="752.6" x2="276.6" y2="752.6" stroke="#ff33aa" stroke-width="1.4" />
<line x1="240.2" y1="749.1" x2="240.2" y2="756.1" stroke="#ff33aa" stroke-width="1.4" />
<line x1="276.6" y1="749.1" x2="276.6" y2="756.1" stroke="#ff33aa" stroke-width="1.4" />
<circle cx="258.4" cy="752.6" r="4.9" fill="#ff33aa" stroke="none" stroke-width="0"/>
<line x1="294.5" y1="729.5" x2="294.5" y2="774.7" stroke="#ff33aa" stroke-width="1.4" />
<line x1="291" y1="729.5" x2="298" y2="729.5" stroke="#ff33aa" stroke-width="1.4" />
<line x1="291" y1="774.7" x2="298" y2="774.7" stroke="#ff33aa" stroke-width="1.4" />
<line x1="276.6" y1="752.6" x2="313" y2="752.6" stroke="#ff33aa" stroke-width="1.4" />
<line x1="276.6" y1="749.1" x2="276.6" y2="756.1" stroke="#ff33aa" stroke-width="1.4" />
<line x1="313" y1="749.1" x2="313" y2="756.1" stroke="#ff33aa" stroke-width="1.4" />
<circle cx="294.5" cy="752.6" r="4.9" fill="#ff33aa" stroke="none" stroke-width="0"/>
<text x="43.3" y="632.7" font-size="13" text-anchor="end" >10</text>
<text x="43.3" y="660.7" font-size="13" text-anchor="end" >8</text>
<text x="43.3" y="692.6" font-size="13" text-anchor="end" >6</text>
<text x="43.3" y="724.5" font-size="13" text-anchor="end" >4</text>
<text x="43.3" y="756.4" font-size="13" text-anchor="end" >2</text>
<text x="43.3" y="785.8" font-size="13" text-anchor="end" >0</text>
<text x="73.15" y="806.2" font-size="13" text-anchor="middle" >2</text>
<text x="124.05" y="806.2" font-size="13" text-anchor="middle" >4</text>
<text x="174.95" y="806.2" font-size="13" text-anchor="middle" >6</text>
<text x="225.85" y="806.2" font-size="13" text-anchor="middle" >8</text>
<text x="276.75" y="806.2" font-size="13" text-anchor="middle" >10</text>
<text x="327.65" y="806.2" font-size="13" text-anchor="middle" >12</text>
<text x="80.4" y="647.2" font-size="12.8" text-anchor="middle" >(g)</text>
<text x="187.75" y="823.3" font-size="13" text-anchor="middle" >Jet angle [deg]</text>
<text x="0" y="0" font-size="12.8" text-anchor="middle" transform="translate(18.2,703.5) rotate(-90)">Number</text>
</svg>
</body></html>
